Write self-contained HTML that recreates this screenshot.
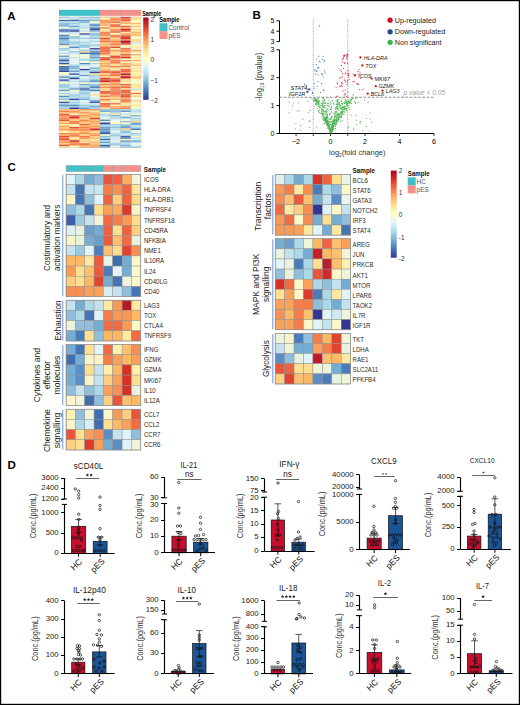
<!DOCTYPE html>
<html><head><meta charset="utf-8"><style>
html,body{margin:0;padding:0;background:#fff;}
body{width:520px;height:705px;overflow:hidden;}
svg{display:block;font-family:"Liberation Sans", sans-serif;}
</style></head><body>
<svg width="520" height="705" viewBox="0 0 520 705">
<rect x="0" y="0" width="520" height="705" fill="#fff"/>
<text x="7.2" y="19.8" font-size="11.5" text-anchor="start" font-weight="bold" fill="#000"  >A</text>
<rect x="59" y="9.8" width="41.0" height="6" fill="#3fc1c9"/>
<rect x="100.0" y="9.8" width="41.0" height="6" fill="#f4918a"/>
<line x1="69.25" y1="9.8" x2="69.25" y2="15.8" stroke="#9a9a9a" stroke-width="0.3"/>
<line x1="79.5" y1="9.8" x2="79.5" y2="15.8" stroke="#9a9a9a" stroke-width="0.3"/>
<line x1="89.75" y1="9.8" x2="89.75" y2="15.8" stroke="#9a9a9a" stroke-width="0.3"/>
<line x1="100.0" y1="9.8" x2="100.0" y2="15.8" stroke="#9a9a9a" stroke-width="0.3"/>
<line x1="110.25" y1="9.8" x2="110.25" y2="15.8" stroke="#9a9a9a" stroke-width="0.3"/>
<line x1="120.5" y1="9.8" x2="120.5" y2="15.8" stroke="#9a9a9a" stroke-width="0.3"/>
<line x1="130.75" y1="9.8" x2="130.75" y2="15.8" stroke="#9a9a9a" stroke-width="0.3"/>
<rect x="59.00" y="16.90" width="10.30" height="1.54" fill="#93c5de"/>
<rect x="69.25" y="16.90" width="10.30" height="1.54" fill="#c6e6f1"/>
<rect x="79.50" y="16.90" width="10.30" height="1.54" fill="#95c7df"/>
<rect x="89.75" y="16.90" width="10.30" height="1.54" fill="#8ec2dd"/>
<rect x="100.00" y="16.90" width="10.30" height="1.54" fill="#fed687"/>
<rect x="110.25" y="16.90" width="10.30" height="1.54" fill="#fdb96b"/>
<rect x="120.50" y="16.90" width="10.30" height="1.54" fill="#de3f2e"/>
<rect x="130.75" y="16.90" width="10.30" height="1.54" fill="#feda8a"/>
<rect x="59.00" y="18.39" width="10.30" height="1.54" fill="#e5f5ee"/>
<rect x="69.25" y="18.39" width="10.30" height="1.54" fill="#b5deec"/>
<rect x="79.50" y="18.39" width="10.30" height="1.54" fill="#bfe3ef"/>
<rect x="89.75" y="18.39" width="10.30" height="1.54" fill="#b1dceb"/>
<rect x="100.00" y="18.39" width="10.30" height="1.54" fill="#fff1a9"/>
<rect x="110.25" y="18.39" width="10.30" height="1.54" fill="#f57647"/>
<rect x="120.50" y="18.39" width="10.30" height="1.54" fill="#f26941"/>
<rect x="130.75" y="18.39" width="10.30" height="1.54" fill="#fed787"/>
<rect x="59.00" y="19.88" width="10.30" height="1.54" fill="#4066ad"/>
<rect x="69.25" y="19.88" width="10.30" height="1.54" fill="#3f62ab"/>
<rect x="79.50" y="19.88" width="10.30" height="1.54" fill="#69a0ca"/>
<rect x="89.75" y="19.88" width="10.30" height="1.54" fill="#84bad8"/>
<rect x="100.00" y="19.88" width="10.30" height="1.54" fill="#f99254"/>
<rect x="110.25" y="19.88" width="10.30" height="1.54" fill="#fdb063"/>
<rect x="120.50" y="19.88" width="10.30" height="1.54" fill="#f26841"/>
<rect x="130.75" y="19.88" width="10.30" height="1.54" fill="#fff9b6"/>
<rect x="59.00" y="21.36" width="10.30" height="1.54" fill="#b9e0ed"/>
<rect x="69.25" y="21.36" width="10.30" height="1.54" fill="#bee3ef"/>
<rect x="79.50" y="21.36" width="10.30" height="1.54" fill="#77afd2"/>
<rect x="89.75" y="21.36" width="10.30" height="1.54" fill="#fffebe"/>
<rect x="100.00" y="21.36" width="10.30" height="1.54" fill="#f7824d"/>
<rect x="110.25" y="21.36" width="10.30" height="1.54" fill="#ee613d"/>
<rect x="120.50" y="21.36" width="10.30" height="1.54" fill="#fdb86a"/>
<rect x="130.75" y="21.36" width="10.30" height="1.54" fill="#fffcba"/>
<rect x="59.00" y="22.85" width="10.30" height="1.54" fill="#8cc1dc"/>
<rect x="69.25" y="22.85" width="10.30" height="1.54" fill="#9dcee3"/>
<rect x="79.50" y="22.85" width="10.30" height="1.54" fill="#ceeaf3"/>
<rect x="89.75" y="22.85" width="10.30" height="1.54" fill="#b5deec"/>
<rect x="100.00" y="22.85" width="10.30" height="1.54" fill="#fdbe70"/>
<rect x="110.25" y="22.85" width="10.30" height="1.54" fill="#fede8e"/>
<rect x="120.50" y="22.85" width="10.30" height="1.54" fill="#fdb265"/>
<rect x="130.75" y="22.85" width="10.30" height="1.54" fill="#fdb76a"/>
<rect x="59.00" y="24.34" width="10.30" height="1.54" fill="#6ea5cd"/>
<rect x="69.25" y="24.34" width="10.30" height="1.54" fill="#b5deec"/>
<rect x="79.50" y="24.34" width="10.30" height="1.54" fill="#c1e4ef"/>
<rect x="89.75" y="24.34" width="10.30" height="1.54" fill="#4676b4"/>
<rect x="100.00" y="24.34" width="10.30" height="1.54" fill="#fba35c"/>
<rect x="110.25" y="24.34" width="10.30" height="1.54" fill="#eb5a3a"/>
<rect x="120.50" y="24.34" width="10.30" height="1.54" fill="#fff8b4"/>
<rect x="130.75" y="24.34" width="10.30" height="1.54" fill="#fff0a9"/>
<rect x="59.00" y="25.82" width="10.30" height="1.54" fill="#9dcee3"/>
<rect x="69.25" y="25.82" width="10.30" height="1.54" fill="#6da5cd"/>
<rect x="79.50" y="25.82" width="10.30" height="1.54" fill="#c5e6f0"/>
<rect x="89.75" y="25.82" width="10.30" height="1.54" fill="#a0d0e4"/>
<rect x="100.00" y="25.82" width="10.30" height="1.54" fill="#feeba0"/>
<rect x="110.25" y="25.82" width="10.30" height="1.54" fill="#f67848"/>
<rect x="120.50" y="25.82" width="10.30" height="1.54" fill="#ed5e3c"/>
<rect x="130.75" y="25.82" width="10.30" height="1.54" fill="#fdc375"/>
<rect x="59.00" y="27.31" width="10.30" height="1.54" fill="#f5fbd1"/>
<rect x="69.25" y="27.31" width="10.30" height="1.54" fill="#bce2ee"/>
<rect x="79.50" y="27.31" width="10.30" height="1.54" fill="#acdae9"/>
<rect x="89.75" y="27.31" width="10.30" height="1.54" fill="#5183bb"/>
<rect x="100.00" y="27.31" width="10.30" height="1.54" fill="#f67e4b"/>
<rect x="110.25" y="27.31" width="10.30" height="1.54" fill="#fecd7e"/>
<rect x="120.50" y="27.31" width="10.30" height="1.54" fill="#fdae61"/>
<rect x="130.75" y="27.31" width="10.30" height="1.54" fill="#f4fbd3"/>
<rect x="59.00" y="28.80" width="10.30" height="1.54" fill="#649ac7"/>
<rect x="69.25" y="28.80" width="10.30" height="1.54" fill="#80b6d6"/>
<rect x="79.50" y="28.80" width="10.30" height="1.54" fill="#eff9dc"/>
<rect x="89.75" y="28.80" width="10.30" height="1.54" fill="#384b9f"/>
<rect x="100.00" y="28.80" width="10.30" height="1.54" fill="#feeaa0"/>
<rect x="110.25" y="28.80" width="10.30" height="1.54" fill="#fb9e5a"/>
<rect x="120.50" y="28.80" width="10.30" height="1.54" fill="#d12a27"/>
<rect x="130.75" y="28.80" width="10.30" height="1.54" fill="#fed384"/>
<rect x="59.00" y="30.29" width="10.30" height="1.54" fill="#3b56a5"/>
<rect x="69.25" y="30.29" width="10.30" height="1.54" fill="#313695"/>
<rect x="79.50" y="30.29" width="10.30" height="1.54" fill="#bce1ee"/>
<rect x="89.75" y="30.29" width="10.30" height="1.54" fill="#72aad0"/>
<rect x="100.00" y="30.29" width="10.30" height="1.54" fill="#fee090"/>
<rect x="110.25" y="30.29" width="10.30" height="1.54" fill="#f46e44"/>
<rect x="120.50" y="30.29" width="10.30" height="1.54" fill="#df402e"/>
<rect x="130.75" y="30.29" width="10.30" height="1.54" fill="#fee395"/>
<rect x="59.00" y="31.77" width="10.30" height="1.54" fill="#b5deec"/>
<rect x="69.25" y="31.77" width="10.30" height="1.54" fill="#c1e4ef"/>
<rect x="79.50" y="31.77" width="10.30" height="1.54" fill="#fbfdc7"/>
<rect x="89.75" y="31.77" width="10.30" height="1.54" fill="#cdeaf3"/>
<rect x="100.00" y="31.77" width="10.30" height="1.54" fill="#f7844e"/>
<rect x="110.25" y="31.77" width="10.30" height="1.54" fill="#f88a51"/>
<rect x="120.50" y="31.77" width="10.30" height="1.54" fill="#fee89c"/>
<rect x="130.75" y="31.77" width="10.30" height="1.54" fill="#fdb467"/>
<rect x="59.00" y="33.26" width="10.30" height="1.54" fill="#e2f4f4"/>
<rect x="69.25" y="33.26" width="10.30" height="1.54" fill="#c7e7f1"/>
<rect x="79.50" y="33.26" width="10.30" height="1.54" fill="#3950a2"/>
<rect x="89.75" y="33.26" width="10.30" height="1.54" fill="#79b1d3"/>
<rect x="100.00" y="33.26" width="10.30" height="1.54" fill="#f46f44"/>
<rect x="110.25" y="33.26" width="10.30" height="1.54" fill="#fff9b6"/>
<rect x="120.50" y="33.26" width="10.30" height="1.54" fill="#fa9b58"/>
<rect x="130.75" y="33.26" width="10.30" height="1.54" fill="#fdc072"/>
<rect x="59.00" y="34.75" width="10.30" height="1.54" fill="#5082bb"/>
<rect x="69.25" y="34.75" width="10.30" height="1.54" fill="#fcfec5"/>
<rect x="79.50" y="34.75" width="10.30" height="1.54" fill="#c9e8f1"/>
<rect x="89.75" y="34.75" width="10.30" height="1.54" fill="#9acbe1"/>
<rect x="100.00" y="34.75" width="10.30" height="1.54" fill="#f99154"/>
<rect x="110.25" y="34.75" width="10.30" height="1.54" fill="#f7844e"/>
<rect x="120.50" y="34.75" width="10.30" height="1.54" fill="#f7854e"/>
<rect x="130.75" y="34.75" width="10.30" height="1.54" fill="#fdba6d"/>
<rect x="59.00" y="36.24" width="10.30" height="1.54" fill="#77afd2"/>
<rect x="69.25" y="36.24" width="10.30" height="1.54" fill="#88bdda"/>
<rect x="79.50" y="36.24" width="10.30" height="1.54" fill="#e5f5ee"/>
<rect x="89.75" y="36.24" width="10.30" height="1.54" fill="#a6d5e7"/>
<rect x="100.00" y="36.24" width="10.30" height="1.54" fill="#fed485"/>
<rect x="110.25" y="36.24" width="10.30" height="1.54" fill="#f47045"/>
<rect x="120.50" y="36.24" width="10.30" height="1.54" fill="#d02927"/>
<rect x="130.75" y="36.24" width="10.30" height="1.54" fill="#fff4ae"/>
<rect x="59.00" y="37.72" width="10.30" height="1.54" fill="#4c7db8"/>
<rect x="69.25" y="37.72" width="10.30" height="1.54" fill="#9bcce2"/>
<rect x="79.50" y="37.72" width="10.30" height="1.54" fill="#9acbe2"/>
<rect x="89.75" y="37.72" width="10.30" height="1.54" fill="#90c3dd"/>
<rect x="100.00" y="37.72" width="10.30" height="1.54" fill="#e54d34"/>
<rect x="110.25" y="37.72" width="10.30" height="1.54" fill="#fee191"/>
<rect x="120.50" y="37.72" width="10.30" height="1.54" fill="#d93529"/>
<rect x="130.75" y="37.72" width="10.30" height="1.54" fill="#f4fbd4"/>
<rect x="59.00" y="39.21" width="10.30" height="1.54" fill="#6fa7ce"/>
<rect x="69.25" y="39.21" width="10.30" height="1.54" fill="#ceeaf3"/>
<rect x="79.50" y="39.21" width="10.30" height="1.54" fill="#e9f6e8"/>
<rect x="89.75" y="39.21" width="10.30" height="1.54" fill="#ddf2f7"/>
<rect x="100.00" y="39.21" width="10.30" height="1.54" fill="#f98f53"/>
<rect x="110.25" y="39.21" width="10.30" height="1.54" fill="#fca55d"/>
<rect x="120.50" y="39.21" width="10.30" height="1.54" fill="#f7824d"/>
<rect x="130.75" y="39.21" width="10.30" height="1.54" fill="#fed384"/>
<rect x="59.00" y="40.70" width="10.30" height="1.54" fill="#98cae1"/>
<rect x="69.25" y="40.70" width="10.30" height="1.54" fill="#b7dfec"/>
<rect x="79.50" y="40.70" width="10.30" height="1.54" fill="#cae8f2"/>
<rect x="89.75" y="40.70" width="10.30" height="1.54" fill="#a4d4e6"/>
<rect x="100.00" y="40.70" width="10.30" height="1.54" fill="#f57446"/>
<rect x="110.25" y="40.70" width="10.30" height="1.54" fill="#f88950"/>
<rect x="120.50" y="40.70" width="10.30" height="1.54" fill="#b10b26"/>
<rect x="130.75" y="40.70" width="10.30" height="1.54" fill="#fede8e"/>
<rect x="59.00" y="42.19" width="10.30" height="1.54" fill="#87bcd9"/>
<rect x="69.25" y="42.19" width="10.30" height="1.54" fill="#8bbfdb"/>
<rect x="79.50" y="42.19" width="10.30" height="1.54" fill="#a3d3e6"/>
<rect x="89.75" y="42.19" width="10.30" height="1.54" fill="#e1f3f6"/>
<rect x="100.00" y="42.19" width="10.30" height="1.54" fill="#fdb96b"/>
<rect x="110.25" y="42.19" width="10.30" height="1.54" fill="#fa9555"/>
<rect x="120.50" y="42.19" width="10.30" height="1.54" fill="#bb1526"/>
<rect x="130.75" y="42.19" width="10.30" height="1.54" fill="#c6e6f1"/>
<rect x="59.00" y="43.67" width="10.30" height="1.54" fill="#5b8fc2"/>
<rect x="69.25" y="43.67" width="10.30" height="1.54" fill="#b5deec"/>
<rect x="79.50" y="43.67" width="10.30" height="1.54" fill="#bfe3ef"/>
<rect x="89.75" y="43.67" width="10.30" height="1.54" fill="#b4deec"/>
<rect x="100.00" y="43.67" width="10.30" height="1.54" fill="#fdbd6f"/>
<rect x="110.25" y="43.67" width="10.30" height="1.54" fill="#f7834d"/>
<rect x="120.50" y="43.67" width="10.30" height="1.54" fill="#f67948"/>
<rect x="130.75" y="43.67" width="10.30" height="1.54" fill="#fff6b1"/>
<rect x="59.00" y="45.16" width="10.30" height="1.54" fill="#fee394"/>
<rect x="69.25" y="45.16" width="10.30" height="1.54" fill="#bce1ee"/>
<rect x="79.50" y="45.16" width="10.30" height="1.54" fill="#7eb5d5"/>
<rect x="89.75" y="45.16" width="10.30" height="1.54" fill="#9dcee3"/>
<rect x="100.00" y="45.16" width="10.30" height="1.54" fill="#fdb366"/>
<rect x="110.25" y="45.16" width="10.30" height="1.54" fill="#fdb164"/>
<rect x="120.50" y="45.16" width="10.30" height="1.54" fill="#edf8df"/>
<rect x="130.75" y="45.16" width="10.30" height="1.54" fill="#fff5b0"/>
<rect x="59.00" y="46.65" width="10.30" height="1.54" fill="#e4f5f0"/>
<rect x="69.25" y="46.65" width="10.30" height="1.54" fill="#588cc0"/>
<rect x="79.50" y="46.65" width="10.30" height="1.54" fill="#a0d0e4"/>
<rect x="89.75" y="46.65" width="10.30" height="1.54" fill="#e2f4f4"/>
<rect x="100.00" y="46.65" width="10.30" height="1.54" fill="#f46e44"/>
<rect x="110.25" y="46.65" width="10.30" height="1.54" fill="#e64f35"/>
<rect x="120.50" y="46.65" width="10.30" height="1.54" fill="#feeda3"/>
<rect x="130.75" y="46.65" width="10.30" height="1.54" fill="#fff1aa"/>
<rect x="59.00" y="48.14" width="10.30" height="1.54" fill="#8dc1dc"/>
<rect x="69.25" y="48.14" width="10.30" height="1.54" fill="#ceeaf3"/>
<rect x="79.50" y="48.14" width="10.30" height="1.54" fill="#e7f6ea"/>
<rect x="89.75" y="48.14" width="10.30" height="1.54" fill="#313695"/>
<rect x="100.00" y="48.14" width="10.30" height="1.54" fill="#ee603d"/>
<rect x="110.25" y="48.14" width="10.30" height="1.54" fill="#feeea5"/>
<rect x="120.50" y="48.14" width="10.30" height="1.54" fill="#ec5d3b"/>
<rect x="130.75" y="48.14" width="10.30" height="1.54" fill="#eef8df"/>
<rect x="59.00" y="49.62" width="10.30" height="1.54" fill="#b0dbea"/>
<rect x="69.25" y="49.62" width="10.30" height="1.54" fill="#ebf7e3"/>
<rect x="79.50" y="49.62" width="10.30" height="1.54" fill="#9acbe2"/>
<rect x="89.75" y="49.62" width="10.30" height="1.54" fill="#b1dceb"/>
<rect x="100.00" y="49.62" width="10.30" height="1.54" fill="#f57245"/>
<rect x="110.25" y="49.62" width="10.30" height="1.54" fill="#fca55d"/>
<rect x="120.50" y="49.62" width="10.30" height="1.54" fill="#f99455"/>
<rect x="130.75" y="49.62" width="10.30" height="1.54" fill="#fca85e"/>
<rect x="59.00" y="51.11" width="10.30" height="1.54" fill="#e6f5ed"/>
<rect x="69.25" y="51.11" width="10.30" height="1.54" fill="#90c3dd"/>
<rect x="79.50" y="51.11" width="10.30" height="1.54" fill="#fed182"/>
<rect x="89.75" y="51.11" width="10.30" height="1.54" fill="#5a8ec1"/>
<rect x="100.00" y="51.11" width="10.30" height="1.54" fill="#f36b42"/>
<rect x="110.25" y="51.11" width="10.30" height="1.54" fill="#fdbb6d"/>
<rect x="120.50" y="51.11" width="10.30" height="1.54" fill="#f7844e"/>
<rect x="130.75" y="51.11" width="10.30" height="1.54" fill="#fece7f"/>
<rect x="59.00" y="52.60" width="10.30" height="1.54" fill="#b3ddeb"/>
<rect x="69.25" y="52.60" width="10.30" height="1.54" fill="#cfebf3"/>
<rect x="79.50" y="52.60" width="10.30" height="1.54" fill="#4473b3"/>
<rect x="89.75" y="52.60" width="10.30" height="1.54" fill="#4574b4"/>
<rect x="100.00" y="52.60" width="10.30" height="1.54" fill="#f67e4b"/>
<rect x="110.25" y="52.60" width="10.30" height="1.54" fill="#fede8e"/>
<rect x="120.50" y="52.60" width="10.30" height="1.54" fill="#fecf80"/>
<rect x="130.75" y="52.60" width="10.30" height="1.54" fill="#eef9de"/>
<rect x="59.00" y="54.09" width="10.30" height="1.54" fill="#eef8de"/>
<rect x="69.25" y="54.09" width="10.30" height="1.54" fill="#d6eef5"/>
<rect x="79.50" y="54.09" width="10.30" height="1.54" fill="#f6fccf"/>
<rect x="89.75" y="54.09" width="10.30" height="1.54" fill="#669cc8"/>
<rect x="100.00" y="54.09" width="10.30" height="1.54" fill="#fca65d"/>
<rect x="110.25" y="54.09" width="10.30" height="1.54" fill="#fee497"/>
<rect x="120.50" y="54.09" width="10.30" height="1.54" fill="#ea5739"/>
<rect x="130.75" y="54.09" width="10.30" height="1.54" fill="#fca55d"/>
<rect x="59.00" y="55.58" width="10.30" height="1.54" fill="#69a0ca"/>
<rect x="69.25" y="55.58" width="10.30" height="1.54" fill="#fafdc9"/>
<rect x="79.50" y="55.58" width="10.30" height="1.54" fill="#e3f4f2"/>
<rect x="89.75" y="55.58" width="10.30" height="1.54" fill="#98cae1"/>
<rect x="100.00" y="55.58" width="10.30" height="1.54" fill="#fffab8"/>
<rect x="110.25" y="55.58" width="10.30" height="1.54" fill="#e85438"/>
<rect x="120.50" y="55.58" width="10.30" height="1.54" fill="#f99555"/>
<rect x="130.75" y="55.58" width="10.30" height="1.54" fill="#fff8b5"/>
<rect x="59.00" y="57.06" width="10.30" height="1.54" fill="#bfe3ef"/>
<rect x="69.25" y="57.06" width="10.30" height="1.54" fill="#c0e3ef"/>
<rect x="79.50" y="57.06" width="10.30" height="1.54" fill="#f7fccd"/>
<rect x="89.75" y="57.06" width="10.30" height="1.54" fill="#6197c5"/>
<rect x="100.00" y="57.06" width="10.30" height="1.54" fill="#ec5d3c"/>
<rect x="110.25" y="57.06" width="10.30" height="1.54" fill="#e64f35"/>
<rect x="120.50" y="57.06" width="10.30" height="1.54" fill="#d02a27"/>
<rect x="130.75" y="57.06" width="10.30" height="1.54" fill="#feeda3"/>
<rect x="59.00" y="58.55" width="10.30" height="1.54" fill="#71aacf"/>
<rect x="69.25" y="58.55" width="10.30" height="1.54" fill="#e5f5f0"/>
<rect x="79.50" y="58.55" width="10.30" height="1.54" fill="#acd9e9"/>
<rect x="89.75" y="58.55" width="10.30" height="1.54" fill="#addae9"/>
<rect x="100.00" y="58.55" width="10.30" height="1.54" fill="#e44b34"/>
<rect x="110.25" y="58.55" width="10.30" height="1.54" fill="#fdbb6d"/>
<rect x="120.50" y="58.55" width="10.30" height="1.54" fill="#fcfec4"/>
<rect x="130.75" y="58.55" width="10.30" height="1.54" fill="#fff2ac"/>
<rect x="59.00" y="60.04" width="10.30" height="1.54" fill="#3c59a6"/>
<rect x="69.25" y="60.04" width="10.30" height="1.54" fill="#dbf0f6"/>
<rect x="79.50" y="60.04" width="10.30" height="1.54" fill="#b9e0ed"/>
<rect x="89.75" y="60.04" width="10.30" height="1.54" fill="#7ab2d4"/>
<rect x="100.00" y="60.04" width="10.30" height="1.54" fill="#fca65e"/>
<rect x="110.25" y="60.04" width="10.30" height="1.54" fill="#f67848"/>
<rect x="120.50" y="60.04" width="10.30" height="1.54" fill="#f8884f"/>
<rect x="130.75" y="60.04" width="10.30" height="1.54" fill="#fdb265"/>
<rect x="59.00" y="61.52" width="10.30" height="1.54" fill="#a0d0e4"/>
<rect x="69.25" y="61.52" width="10.30" height="1.54" fill="#e5f5ee"/>
<rect x="79.50" y="61.52" width="10.30" height="1.54" fill="#f7fcce"/>
<rect x="89.75" y="61.52" width="10.30" height="1.54" fill="#fcfec5"/>
<rect x="100.00" y="61.52" width="10.30" height="1.54" fill="#fec97b"/>
<rect x="110.25" y="61.52" width="10.30" height="1.54" fill="#f57547"/>
<rect x="120.50" y="61.52" width="10.30" height="1.54" fill="#fff3ad"/>
<rect x="130.75" y="61.52" width="10.30" height="1.54" fill="#f9fdca"/>
<rect x="59.00" y="63.01" width="10.30" height="1.54" fill="#3951a2"/>
<rect x="69.25" y="63.01" width="10.30" height="1.54" fill="#e7f6ec"/>
<rect x="79.50" y="63.01" width="10.30" height="1.54" fill="#5588be"/>
<rect x="89.75" y="63.01" width="10.30" height="1.54" fill="#a3d3e6"/>
<rect x="100.00" y="63.01" width="10.30" height="1.54" fill="#fdb164"/>
<rect x="110.25" y="63.01" width="10.30" height="1.54" fill="#fdaf62"/>
<rect x="120.50" y="63.01" width="10.30" height="1.54" fill="#fdb669"/>
<rect x="130.75" y="63.01" width="10.30" height="1.54" fill="#fee192"/>
<rect x="59.00" y="64.50" width="10.30" height="1.54" fill="#fffbba"/>
<rect x="69.25" y="64.50" width="10.30" height="1.54" fill="#a7d6e7"/>
<rect x="79.50" y="64.50" width="10.30" height="1.54" fill="#c8e7f1"/>
<rect x="89.75" y="64.50" width="10.30" height="1.54" fill="#e4f5f1"/>
<rect x="100.00" y="64.50" width="10.30" height="1.54" fill="#fdb264"/>
<rect x="110.25" y="64.50" width="10.30" height="1.54" fill="#fee89c"/>
<rect x="120.50" y="64.50" width="10.30" height="1.54" fill="#fdb467"/>
<rect x="130.75" y="64.50" width="10.30" height="1.54" fill="#fdbe70"/>
<rect x="59.00" y="65.99" width="10.30" height="1.54" fill="#4169ae"/>
<rect x="69.25" y="65.99" width="10.30" height="1.54" fill="#7bb3d4"/>
<rect x="79.50" y="65.99" width="10.30" height="1.54" fill="#e4f5f0"/>
<rect x="89.75" y="65.99" width="10.30" height="1.54" fill="#d9f0f6"/>
<rect x="100.00" y="65.99" width="10.30" height="1.54" fill="#fca55d"/>
<rect x="110.25" y="65.99" width="10.30" height="1.54" fill="#f67a49"/>
<rect x="120.50" y="65.99" width="10.30" height="1.54" fill="#f7814c"/>
<rect x="130.75" y="65.99" width="10.30" height="1.54" fill="#f6fccf"/>
<rect x="59.00" y="67.47" width="10.30" height="1.54" fill="#4370b2"/>
<rect x="69.25" y="67.47" width="10.30" height="1.54" fill="#78b0d3"/>
<rect x="79.50" y="67.47" width="10.30" height="1.54" fill="#e1f3f6"/>
<rect x="89.75" y="67.47" width="10.30" height="1.54" fill="#7db4d5"/>
<rect x="100.00" y="67.47" width="10.30" height="1.54" fill="#fed586"/>
<rect x="110.25" y="67.47" width="10.30" height="1.54" fill="#fed585"/>
<rect x="120.50" y="67.47" width="10.30" height="1.54" fill="#fee79a"/>
<rect x="130.75" y="67.47" width="10.30" height="1.54" fill="#feeba1"/>
<rect x="59.00" y="68.96" width="10.30" height="1.54" fill="#588bc0"/>
<rect x="69.25" y="68.96" width="10.30" height="1.54" fill="#bce2ee"/>
<rect x="79.50" y="68.96" width="10.30" height="1.54" fill="#313695"/>
<rect x="89.75" y="68.96" width="10.30" height="1.54" fill="#bae0ed"/>
<rect x="100.00" y="68.96" width="10.30" height="1.54" fill="#fec879"/>
<rect x="110.25" y="68.96" width="10.30" height="1.54" fill="#fffdbc"/>
<rect x="120.50" y="68.96" width="10.30" height="1.54" fill="#eb5a3a"/>
<rect x="130.75" y="68.96" width="10.30" height="1.54" fill="#feefa7"/>
<rect x="59.00" y="70.45" width="10.30" height="1.54" fill="#333c98"/>
<rect x="69.25" y="70.45" width="10.30" height="1.54" fill="#6aa1cb"/>
<rect x="79.50" y="70.45" width="10.30" height="1.54" fill="#b8dfed"/>
<rect x="89.75" y="70.45" width="10.30" height="1.54" fill="#85bad8"/>
<rect x="100.00" y="70.45" width="10.30" height="1.54" fill="#f57346"/>
<rect x="110.25" y="70.45" width="10.30" height="1.54" fill="#f67d4b"/>
<rect x="120.50" y="70.45" width="10.30" height="1.54" fill="#ed5e3c"/>
<rect x="130.75" y="70.45" width="10.30" height="1.54" fill="#fede8e"/>
<rect x="59.00" y="71.94" width="10.30" height="1.54" fill="#f1fad9"/>
<rect x="69.25" y="71.94" width="10.30" height="1.54" fill="#d0ebf3"/>
<rect x="79.50" y="71.94" width="10.30" height="1.54" fill="#c2e4f0"/>
<rect x="89.75" y="71.94" width="10.30" height="1.54" fill="#36479d"/>
<rect x="100.00" y="71.94" width="10.30" height="1.54" fill="#f36c42"/>
<rect x="110.25" y="71.94" width="10.30" height="1.54" fill="#eb5a3a"/>
<rect x="120.50" y="71.94" width="10.30" height="1.54" fill="#fca35c"/>
<rect x="130.75" y="71.94" width="10.30" height="1.54" fill="#fff4af"/>
<rect x="59.00" y="73.42" width="10.30" height="1.54" fill="#fff6b1"/>
<rect x="69.25" y="73.42" width="10.30" height="1.54" fill="#3f61aa"/>
<rect x="79.50" y="73.42" width="10.30" height="1.54" fill="#c3e5f0"/>
<rect x="89.75" y="73.42" width="10.30" height="1.54" fill="#fee394"/>
<rect x="100.00" y="73.42" width="10.30" height="1.54" fill="#fed687"/>
<rect x="110.25" y="73.42" width="10.30" height="1.54" fill="#f7814c"/>
<rect x="120.50" y="73.42" width="10.30" height="1.54" fill="#b81226"/>
<rect x="130.75" y="73.42" width="10.30" height="1.54" fill="#feeba1"/>
<rect x="59.00" y="74.91" width="10.30" height="1.54" fill="#cae8f2"/>
<rect x="69.25" y="74.91" width="10.30" height="1.54" fill="#e0f3f8"/>
<rect x="79.50" y="74.91" width="10.30" height="1.54" fill="#689fca"/>
<rect x="89.75" y="74.91" width="10.30" height="1.54" fill="#9ecfe3"/>
<rect x="100.00" y="74.91" width="10.30" height="1.54" fill="#f99354"/>
<rect x="110.25" y="74.91" width="10.30" height="1.54" fill="#f67848"/>
<rect x="120.50" y="74.91" width="10.30" height="1.54" fill="#f99053"/>
<rect x="130.75" y="74.91" width="10.30" height="1.54" fill="#feeda4"/>
<rect x="59.00" y="76.40" width="10.30" height="1.54" fill="#6197c6"/>
<rect x="69.25" y="76.40" width="10.30" height="1.54" fill="#8bc0db"/>
<rect x="79.50" y="76.40" width="10.30" height="1.54" fill="#dff3f8"/>
<rect x="89.75" y="76.40" width="10.30" height="1.54" fill="#abd9e9"/>
<rect x="100.00" y="76.40" width="10.30" height="1.54" fill="#fed283"/>
<rect x="110.25" y="76.40" width="10.30" height="1.54" fill="#fed889"/>
<rect x="120.50" y="76.40" width="10.30" height="1.54" fill="#a50026"/>
<rect x="130.75" y="76.40" width="10.30" height="1.54" fill="#fdbb6d"/>
<rect x="59.00" y="77.89" width="10.30" height="1.54" fill="#cfeaf3"/>
<rect x="69.25" y="77.89" width="10.30" height="1.54" fill="#313695"/>
<rect x="79.50" y="77.89" width="10.30" height="1.54" fill="#ceeaf3"/>
<rect x="89.75" y="77.89" width="10.30" height="1.54" fill="#c4e5f0"/>
<rect x="100.00" y="77.89" width="10.30" height="1.54" fill="#dd3c2c"/>
<rect x="110.25" y="77.89" width="10.30" height="1.54" fill="#f99254"/>
<rect x="120.50" y="77.89" width="10.30" height="1.54" fill="#f99254"/>
<rect x="130.75" y="77.89" width="10.30" height="1.54" fill="#fed686"/>
<rect x="59.00" y="79.38" width="10.30" height="1.54" fill="#3a52a3"/>
<rect x="69.25" y="79.38" width="10.30" height="1.54" fill="#e5f5ef"/>
<rect x="79.50" y="79.38" width="10.30" height="1.54" fill="#bae0ed"/>
<rect x="89.75" y="79.38" width="10.30" height="1.54" fill="#74add1"/>
<rect x="100.00" y="79.38" width="10.30" height="1.54" fill="#e75236"/>
<rect x="110.25" y="79.38" width="10.30" height="1.54" fill="#dd3c2c"/>
<rect x="120.50" y="79.38" width="10.30" height="1.54" fill="#fee294"/>
<rect x="130.75" y="79.38" width="10.30" height="1.54" fill="#fffab7"/>
<rect x="59.00" y="80.86" width="10.30" height="1.54" fill="#b8dfed"/>
<rect x="69.25" y="80.86" width="10.30" height="1.54" fill="#b1dceb"/>
<rect x="79.50" y="80.86" width="10.30" height="1.54" fill="#89beda"/>
<rect x="89.75" y="80.86" width="10.30" height="1.54" fill="#649ac7"/>
<rect x="100.00" y="80.86" width="10.30" height="1.54" fill="#cb2427"/>
<rect x="110.25" y="80.86" width="10.30" height="1.54" fill="#f36b42"/>
<rect x="120.50" y="80.86" width="10.30" height="1.54" fill="#fed889"/>
<rect x="130.75" y="80.86" width="10.30" height="1.54" fill="#f2fad7"/>
<rect x="59.00" y="82.35" width="10.30" height="1.54" fill="#ffffbf"/>
<rect x="69.25" y="82.35" width="10.30" height="1.54" fill="#e3f4f2"/>
<rect x="79.50" y="82.35" width="10.30" height="1.54" fill="#fffab8"/>
<rect x="89.75" y="82.35" width="10.30" height="1.54" fill="#daf0f6"/>
<rect x="100.00" y="82.35" width="10.30" height="1.54" fill="#fed384"/>
<rect x="110.25" y="82.35" width="10.30" height="1.54" fill="#fb9d59"/>
<rect x="120.50" y="82.35" width="10.30" height="1.54" fill="#fffdbc"/>
<rect x="130.75" y="82.35" width="10.30" height="1.54" fill="#fffcbb"/>
<rect x="59.00" y="83.84" width="10.30" height="1.54" fill="#a0d0e4"/>
<rect x="69.25" y="83.84" width="10.30" height="1.54" fill="#c7e7f1"/>
<rect x="79.50" y="83.84" width="10.30" height="1.54" fill="#72abd0"/>
<rect x="89.75" y="83.84" width="10.30" height="1.54" fill="#9ccde2"/>
<rect x="100.00" y="83.84" width="10.30" height="1.54" fill="#f8884f"/>
<rect x="110.25" y="83.84" width="10.30" height="1.54" fill="#fa9656"/>
<rect x="120.50" y="83.84" width="10.30" height="1.54" fill="#ee603d"/>
<rect x="130.75" y="83.84" width="10.30" height="1.54" fill="#fee293"/>
<rect x="59.00" y="85.32" width="10.30" height="1.54" fill="#8ec2dc"/>
<rect x="69.25" y="85.32" width="10.30" height="1.54" fill="#d9eff6"/>
<rect x="79.50" y="85.32" width="10.30" height="1.54" fill="#a8d6e7"/>
<rect x="89.75" y="85.32" width="10.30" height="1.54" fill="#6da4cc"/>
<rect x="100.00" y="85.32" width="10.30" height="1.54" fill="#fec779"/>
<rect x="110.25" y="85.32" width="10.30" height="1.54" fill="#fdae61"/>
<rect x="120.50" y="85.32" width="10.30" height="1.54" fill="#fa9656"/>
<rect x="130.75" y="85.32" width="10.30" height="1.54" fill="#fee395"/>
<rect x="59.00" y="86.81" width="10.30" height="1.54" fill="#a4d3e6"/>
<rect x="69.25" y="86.81" width="10.30" height="1.54" fill="#b0dbea"/>
<rect x="79.50" y="86.81" width="10.30" height="1.54" fill="#9bcce2"/>
<rect x="89.75" y="86.81" width="10.30" height="1.54" fill="#5386bd"/>
<rect x="100.00" y="86.81" width="10.30" height="1.54" fill="#f88a51"/>
<rect x="110.25" y="86.81" width="10.30" height="1.54" fill="#f26a41"/>
<rect x="120.50" y="86.81" width="10.30" height="1.54" fill="#f46e43"/>
<rect x="130.75" y="86.81" width="10.30" height="1.54" fill="#feeda4"/>
<rect x="59.00" y="88.30" width="10.30" height="1.54" fill="#c2e4ef"/>
<rect x="69.25" y="88.30" width="10.30" height="1.54" fill="#649ac7"/>
<rect x="79.50" y="88.30" width="10.30" height="1.54" fill="#3b56a5"/>
<rect x="89.75" y="88.30" width="10.30" height="1.54" fill="#a8d7e8"/>
<rect x="100.00" y="88.30" width="10.30" height="1.54" fill="#fed687"/>
<rect x="110.25" y="88.30" width="10.30" height="1.54" fill="#f67e4b"/>
<rect x="120.50" y="88.30" width="10.30" height="1.54" fill="#fed283"/>
<rect x="130.75" y="88.30" width="10.30" height="1.54" fill="#c3e5f0"/>
<rect x="59.00" y="89.79" width="10.30" height="1.54" fill="#6095c5"/>
<rect x="69.25" y="89.79" width="10.30" height="1.54" fill="#fafdc8"/>
<rect x="79.50" y="89.79" width="10.30" height="1.54" fill="#8abfdb"/>
<rect x="89.75" y="89.79" width="10.30" height="1.54" fill="#4d7eb9"/>
<rect x="100.00" y="89.79" width="10.30" height="1.54" fill="#fece7f"/>
<rect x="110.25" y="89.79" width="10.30" height="1.54" fill="#f88c51"/>
<rect x="120.50" y="89.79" width="10.30" height="1.54" fill="#f26941"/>
<rect x="130.75" y="89.79" width="10.30" height="1.54" fill="#fee394"/>
<rect x="59.00" y="91.28" width="10.30" height="1.54" fill="#f7fcce"/>
<rect x="69.25" y="91.28" width="10.30" height="1.54" fill="#d3edf4"/>
<rect x="79.50" y="91.28" width="10.30" height="1.54" fill="#a3d2e5"/>
<rect x="89.75" y="91.28" width="10.30" height="1.54" fill="#cce9f2"/>
<rect x="100.00" y="91.28" width="10.30" height="1.54" fill="#dd3d2d"/>
<rect x="110.25" y="91.28" width="10.30" height="1.54" fill="#f46f44"/>
<rect x="120.50" y="91.28" width="10.30" height="1.54" fill="#e14531"/>
<rect x="130.75" y="91.28" width="10.30" height="1.54" fill="#f9fdca"/>
<rect x="59.00" y="92.76" width="10.30" height="1.54" fill="#9acbe2"/>
<rect x="69.25" y="92.76" width="10.30" height="1.54" fill="#d5edf5"/>
<rect x="79.50" y="92.76" width="10.30" height="1.54" fill="#90c3dd"/>
<rect x="89.75" y="92.76" width="10.30" height="1.54" fill="#e7f6ec"/>
<rect x="100.00" y="92.76" width="10.30" height="1.54" fill="#f77f4b"/>
<rect x="110.25" y="92.76" width="10.30" height="1.54" fill="#f57346"/>
<rect x="120.50" y="92.76" width="10.30" height="1.54" fill="#fb9d59"/>
<rect x="130.75" y="92.76" width="10.30" height="1.54" fill="#f46e44"/>
<rect x="59.00" y="94.25" width="10.30" height="1.54" fill="#edf8e0"/>
<rect x="69.25" y="94.25" width="10.30" height="1.54" fill="#95c8e0"/>
<rect x="79.50" y="94.25" width="10.30" height="1.54" fill="#aad8e9"/>
<rect x="89.75" y="94.25" width="10.30" height="1.54" fill="#feda8a"/>
<rect x="100.00" y="94.25" width="10.30" height="1.54" fill="#fdb96b"/>
<rect x="110.25" y="94.25" width="10.30" height="1.54" fill="#f57547"/>
<rect x="120.50" y="94.25" width="10.30" height="1.54" fill="#e34832"/>
<rect x="130.75" y="94.25" width="10.30" height="1.54" fill="#fee89b"/>
<rect x="59.00" y="95.74" width="10.30" height="1.54" fill="#598cc0"/>
<rect x="69.25" y="95.74" width="10.30" height="1.54" fill="#b1dceb"/>
<rect x="79.50" y="95.74" width="10.30" height="1.54" fill="#bce1ee"/>
<rect x="89.75" y="95.74" width="10.30" height="1.54" fill="#e9f6e8"/>
<rect x="100.00" y="95.74" width="10.30" height="1.54" fill="#f57346"/>
<rect x="110.25" y="95.74" width="10.30" height="1.54" fill="#fdac60"/>
<rect x="120.50" y="95.74" width="10.30" height="1.54" fill="#e75136"/>
<rect x="130.75" y="95.74" width="10.30" height="1.54" fill="#fed586"/>
<rect x="59.00" y="97.22" width="10.30" height="1.54" fill="#b2dceb"/>
<rect x="69.25" y="97.22" width="10.30" height="1.54" fill="#a8d7e8"/>
<rect x="79.50" y="97.22" width="10.30" height="1.54" fill="#93c6df"/>
<rect x="89.75" y="97.22" width="10.30" height="1.54" fill="#d2ecf4"/>
<rect x="100.00" y="97.22" width="10.30" height="1.54" fill="#fedc8d"/>
<rect x="110.25" y="97.22" width="10.30" height="1.54" fill="#fecd7f"/>
<rect x="120.50" y="97.22" width="10.30" height="1.54" fill="#f88d52"/>
<rect x="130.75" y="97.22" width="10.30" height="1.54" fill="#eff9dd"/>
<rect x="59.00" y="98.71" width="10.30" height="1.54" fill="#86bcd9"/>
<rect x="69.25" y="98.71" width="10.30" height="1.54" fill="#384da0"/>
<rect x="79.50" y="98.71" width="10.30" height="1.54" fill="#75aed2"/>
<rect x="89.75" y="98.71" width="10.30" height="1.54" fill="#cae8f2"/>
<rect x="100.00" y="98.71" width="10.30" height="1.54" fill="#f7814c"/>
<rect x="110.25" y="98.71" width="10.30" height="1.54" fill="#fdb164"/>
<rect x="120.50" y="98.71" width="10.30" height="1.54" fill="#fb9e5a"/>
<rect x="130.75" y="98.71" width="10.30" height="1.54" fill="#f0f9db"/>
<rect x="59.00" y="100.20" width="10.30" height="1.54" fill="#fffab7"/>
<rect x="69.25" y="100.20" width="10.30" height="1.54" fill="#c7e7f1"/>
<rect x="79.50" y="100.20" width="10.30" height="1.54" fill="#e7f6ea"/>
<rect x="89.75" y="100.20" width="10.30" height="1.54" fill="#69a0ca"/>
<rect x="100.00" y="100.20" width="10.30" height="1.54" fill="#fdb164"/>
<rect x="110.25" y="100.20" width="10.30" height="1.54" fill="#fff9b7"/>
<rect x="120.50" y="100.20" width="10.30" height="1.54" fill="#e95638"/>
<rect x="130.75" y="100.20" width="10.30" height="1.54" fill="#fdc475"/>
<rect x="59.00" y="101.69" width="10.30" height="1.54" fill="#3b56a5"/>
<rect x="69.25" y="101.69" width="10.30" height="1.54" fill="#a1d1e4"/>
<rect x="79.50" y="101.69" width="10.30" height="1.54" fill="#ceeaf3"/>
<rect x="89.75" y="101.69" width="10.30" height="1.54" fill="#3e60aa"/>
<rect x="100.00" y="101.69" width="10.30" height="1.54" fill="#fff6b1"/>
<rect x="110.25" y="101.69" width="10.30" height="1.54" fill="#fee293"/>
<rect x="120.50" y="101.69" width="10.30" height="1.54" fill="#fdb86b"/>
<rect x="130.75" y="101.69" width="10.30" height="1.54" fill="#f0f9da"/>
<rect x="59.00" y="103.18" width="10.30" height="1.54" fill="#a6d5e7"/>
<rect x="69.25" y="103.18" width="10.30" height="1.54" fill="#b5deec"/>
<rect x="79.50" y="103.18" width="10.30" height="1.54" fill="#ceeaf3"/>
<rect x="89.75" y="103.18" width="10.30" height="1.54" fill="#d3edf4"/>
<rect x="100.00" y="103.18" width="10.30" height="1.54" fill="#e24731"/>
<rect x="110.25" y="103.18" width="10.30" height="1.54" fill="#ef633e"/>
<rect x="120.50" y="103.18" width="10.30" height="1.54" fill="#fedf8f"/>
<rect x="130.75" y="103.18" width="10.30" height="1.54" fill="#fff5b1"/>
<rect x="59.00" y="104.66" width="10.30" height="1.54" fill="#5f94c4"/>
<rect x="69.25" y="104.66" width="10.30" height="1.54" fill="#5e93c3"/>
<rect x="79.50" y="104.66" width="10.30" height="1.54" fill="#9fcfe4"/>
<rect x="89.75" y="104.66" width="10.30" height="1.54" fill="#a5d4e6"/>
<rect x="100.00" y="104.66" width="10.30" height="1.54" fill="#f7864f"/>
<rect x="110.25" y="104.66" width="10.30" height="1.54" fill="#fff2ac"/>
<rect x="120.50" y="104.66" width="10.30" height="1.54" fill="#fedb8b"/>
<rect x="130.75" y="104.66" width="10.30" height="1.54" fill="#fee89d"/>
<rect x="59.00" y="106.15" width="10.30" height="1.54" fill="#96c9e0"/>
<rect x="69.25" y="106.15" width="10.30" height="1.54" fill="#8fc2dd"/>
<rect x="79.50" y="106.15" width="10.30" height="1.54" fill="#a0d0e4"/>
<rect x="89.75" y="106.15" width="10.30" height="1.54" fill="#70a9cf"/>
<rect x="100.00" y="106.15" width="10.30" height="1.54" fill="#f67848"/>
<rect x="110.25" y="106.15" width="10.30" height="1.54" fill="#fa9756"/>
<rect x="120.50" y="106.15" width="10.30" height="1.54" fill="#f99455"/>
<rect x="130.75" y="106.15" width="10.30" height="1.54" fill="#fffab7"/>
<rect x="59.00" y="107.64" width="10.30" height="1.54" fill="#98cae1"/>
<rect x="69.25" y="107.64" width="10.30" height="1.54" fill="#313695"/>
<rect x="79.50" y="107.64" width="10.30" height="1.54" fill="#6399c7"/>
<rect x="89.75" y="107.64" width="10.30" height="1.54" fill="#a7d6e7"/>
<rect x="100.00" y="107.64" width="10.30" height="1.54" fill="#feeca2"/>
<rect x="110.25" y="107.64" width="10.30" height="1.54" fill="#fba15b"/>
<rect x="120.50" y="107.64" width="10.30" height="1.54" fill="#f7834d"/>
<rect x="130.75" y="107.64" width="10.30" height="1.54" fill="#f1fad9"/>
<rect x="59.00" y="109.12" width="10.30" height="1.54" fill="#fdbb6d"/>
<rect x="69.25" y="109.12" width="10.30" height="1.54" fill="#fdbe70"/>
<rect x="79.50" y="109.12" width="10.30" height="1.54" fill="#f99053"/>
<rect x="89.75" y="109.12" width="10.30" height="1.54" fill="#f7864f"/>
<rect x="100.00" y="109.12" width="10.30" height="1.54" fill="#86bcd9"/>
<rect x="110.25" y="109.12" width="10.30" height="1.54" fill="#84bad8"/>
<rect x="120.50" y="109.12" width="10.30" height="1.54" fill="#a1d1e5"/>
<rect x="130.75" y="109.12" width="10.30" height="1.54" fill="#bbe1ed"/>
<rect x="59.00" y="110.61" width="10.30" height="1.54" fill="#f67e4b"/>
<rect x="69.25" y="110.61" width="10.30" height="1.54" fill="#fa9b58"/>
<rect x="79.50" y="110.61" width="10.30" height="1.54" fill="#fed283"/>
<rect x="89.75" y="110.61" width="10.30" height="1.54" fill="#feeba1"/>
<rect x="100.00" y="110.61" width="10.30" height="1.54" fill="#70a8ce"/>
<rect x="110.25" y="110.61" width="10.30" height="1.54" fill="#8bbfdb"/>
<rect x="120.50" y="110.61" width="10.30" height="1.54" fill="#6297c6"/>
<rect x="130.75" y="110.61" width="10.30" height="1.54" fill="#b7dfec"/>
<rect x="59.00" y="112.10" width="10.30" height="1.54" fill="#fdc778"/>
<rect x="69.25" y="112.10" width="10.30" height="1.54" fill="#fca75e"/>
<rect x="79.50" y="112.10" width="10.30" height="1.54" fill="#f88c51"/>
<rect x="89.75" y="112.10" width="10.30" height="1.54" fill="#fdc374"/>
<rect x="100.00" y="112.10" width="10.30" height="1.54" fill="#fff6b2"/>
<rect x="110.25" y="112.10" width="10.30" height="1.54" fill="#a5d4e6"/>
<rect x="120.50" y="112.10" width="10.30" height="1.54" fill="#ecf8e3"/>
<rect x="130.75" y="112.10" width="10.30" height="1.54" fill="#c7e7f1"/>
<rect x="59.00" y="113.59" width="10.30" height="1.54" fill="#f16640"/>
<rect x="69.25" y="113.59" width="10.30" height="1.54" fill="#f3fad4"/>
<rect x="79.50" y="113.59" width="10.30" height="1.54" fill="#fed484"/>
<rect x="89.75" y="113.59" width="10.30" height="1.54" fill="#fb9e5a"/>
<rect x="100.00" y="113.59" width="10.30" height="1.54" fill="#b2dceb"/>
<rect x="110.25" y="113.59" width="10.30" height="1.54" fill="#fee496"/>
<rect x="120.50" y="113.59" width="10.30" height="1.54" fill="#c0e3ef"/>
<rect x="130.75" y="113.59" width="10.30" height="1.54" fill="#feffc0"/>
<rect x="59.00" y="115.07" width="10.30" height="1.54" fill="#f67c4a"/>
<rect x="69.25" y="115.07" width="10.30" height="1.54" fill="#f47045"/>
<rect x="79.50" y="115.07" width="10.30" height="1.54" fill="#f88d52"/>
<rect x="89.75" y="115.07" width="10.30" height="1.54" fill="#fdb668"/>
<rect x="100.00" y="115.07" width="10.30" height="1.54" fill="#acd9e9"/>
<rect x="110.25" y="115.07" width="10.30" height="1.54" fill="#76afd2"/>
<rect x="120.50" y="115.07" width="10.30" height="1.54" fill="#eff9dd"/>
<rect x="130.75" y="115.07" width="10.30" height="1.54" fill="#7ab2d3"/>
<rect x="59.00" y="116.56" width="10.30" height="1.54" fill="#fb9e5a"/>
<rect x="69.25" y="116.56" width="10.30" height="1.54" fill="#d12a27"/>
<rect x="79.50" y="116.56" width="10.30" height="1.54" fill="#fdb96c"/>
<rect x="89.75" y="116.56" width="10.30" height="1.54" fill="#fdad60"/>
<rect x="100.00" y="116.56" width="10.30" height="1.54" fill="#d7eff5"/>
<rect x="110.25" y="116.56" width="10.30" height="1.54" fill="#bae0ed"/>
<rect x="120.50" y="116.56" width="10.30" height="1.54" fill="#74acd1"/>
<rect x="130.75" y="116.56" width="10.30" height="1.54" fill="#d0ebf3"/>
<rect x="59.00" y="118.05" width="10.30" height="1.54" fill="#f88850"/>
<rect x="69.25" y="118.05" width="10.30" height="1.54" fill="#f7804c"/>
<rect x="79.50" y="118.05" width="10.30" height="1.54" fill="#fed585"/>
<rect x="89.75" y="118.05" width="10.30" height="1.54" fill="#de3f2e"/>
<rect x="100.00" y="118.05" width="10.30" height="1.54" fill="#eef9de"/>
<rect x="110.25" y="118.05" width="10.30" height="1.54" fill="#b9e0ed"/>
<rect x="120.50" y="118.05" width="10.30" height="1.54" fill="#bde2ee"/>
<rect x="130.75" y="118.05" width="10.30" height="1.54" fill="#a2d2e5"/>
<rect x="59.00" y="119.54" width="10.30" height="1.54" fill="#e85437"/>
<rect x="69.25" y="119.54" width="10.30" height="1.54" fill="#fed182"/>
<rect x="79.50" y="119.54" width="10.30" height="1.54" fill="#f7824d"/>
<rect x="89.75" y="119.54" width="10.30" height="1.54" fill="#fdc678"/>
<rect x="100.00" y="119.54" width="10.30" height="1.54" fill="#5d91c3"/>
<rect x="110.25" y="119.54" width="10.30" height="1.54" fill="#e2f4f5"/>
<rect x="120.50" y="119.54" width="10.30" height="1.54" fill="#f5fbd2"/>
<rect x="130.75" y="119.54" width="10.30" height="1.54" fill="#bee2ee"/>
<rect x="59.00" y="121.03" width="10.30" height="1.54" fill="#fed081"/>
<rect x="69.25" y="121.03" width="10.30" height="1.54" fill="#f67949"/>
<rect x="79.50" y="121.03" width="10.30" height="1.54" fill="#fdb063"/>
<rect x="89.75" y="121.03" width="10.30" height="1.54" fill="#fa9a58"/>
<rect x="100.00" y="121.03" width="10.30" height="1.54" fill="#e9f6e8"/>
<rect x="110.25" y="121.03" width="10.30" height="1.54" fill="#f0f9da"/>
<rect x="120.50" y="121.03" width="10.30" height="1.54" fill="#87bcd9"/>
<rect x="130.75" y="121.03" width="10.30" height="1.54" fill="#fed585"/>
<rect x="59.00" y="122.51" width="10.30" height="1.54" fill="#fdae61"/>
<rect x="69.25" y="122.51" width="10.30" height="1.54" fill="#f67b49"/>
<rect x="79.50" y="122.51" width="10.30" height="1.54" fill="#fece7f"/>
<rect x="89.75" y="122.51" width="10.30" height="1.54" fill="#fdb063"/>
<rect x="100.00" y="122.51" width="10.30" height="1.54" fill="#35429b"/>
<rect x="110.25" y="122.51" width="10.30" height="1.54" fill="#fff7b3"/>
<rect x="120.50" y="122.51" width="10.30" height="1.54" fill="#f6fbd0"/>
<rect x="130.75" y="122.51" width="10.30" height="1.54" fill="#6da5cd"/>
<rect x="59.00" y="124.00" width="10.30" height="1.54" fill="#fff0a8"/>
<rect x="69.25" y="124.00" width="10.30" height="1.54" fill="#fff3ad"/>
<rect x="79.50" y="124.00" width="10.30" height="1.54" fill="#ef623e"/>
<rect x="89.75" y="124.00" width="10.30" height="1.54" fill="#fdc577"/>
<rect x="100.00" y="124.00" width="10.30" height="1.54" fill="#84bad8"/>
<rect x="110.25" y="124.00" width="10.30" height="1.54" fill="#a5d5e7"/>
<rect x="120.50" y="124.00" width="10.30" height="1.54" fill="#a3d2e5"/>
<rect x="130.75" y="124.00" width="10.30" height="1.54" fill="#75aed1"/>
<rect x="59.00" y="125.49" width="10.30" height="1.54" fill="#fdac60"/>
<rect x="69.25" y="125.49" width="10.30" height="1.54" fill="#feeea5"/>
<rect x="79.50" y="125.49" width="10.30" height="1.54" fill="#fdb264"/>
<rect x="89.75" y="125.49" width="10.30" height="1.54" fill="#fa9a58"/>
<rect x="100.00" y="125.49" width="10.30" height="1.54" fill="#a9d7e8"/>
<rect x="110.25" y="125.49" width="10.30" height="1.54" fill="#aad9e9"/>
<rect x="120.50" y="125.49" width="10.30" height="1.54" fill="#6ea6cd"/>
<rect x="130.75" y="125.49" width="10.30" height="1.54" fill="#c9e8f2"/>
<rect x="59.00" y="126.97" width="10.30" height="1.54" fill="#fdc678"/>
<rect x="69.25" y="126.97" width="10.30" height="1.54" fill="#e44a33"/>
<rect x="79.50" y="126.97" width="10.30" height="1.54" fill="#f67c4a"/>
<rect x="89.75" y="126.97" width="10.30" height="1.54" fill="#fdb466"/>
<rect x="100.00" y="126.97" width="10.30" height="1.54" fill="#6aa1cb"/>
<rect x="110.25" y="126.97" width="10.30" height="1.54" fill="#8dc1dc"/>
<rect x="120.50" y="126.97" width="10.30" height="1.54" fill="#6ca3cc"/>
<rect x="130.75" y="126.97" width="10.30" height="1.54" fill="#a7d6e7"/>
<rect x="59.00" y="128.46" width="10.30" height="1.54" fill="#fa9b58"/>
<rect x="69.25" y="128.46" width="10.30" height="1.54" fill="#f88c52"/>
<rect x="79.50" y="128.46" width="10.30" height="1.54" fill="#f88950"/>
<rect x="89.75" y="128.46" width="10.30" height="1.54" fill="#d22b27"/>
<rect x="100.00" y="128.46" width="10.30" height="1.54" fill="#5c91c2"/>
<rect x="110.25" y="128.46" width="10.30" height="1.54" fill="#b9e0ed"/>
<rect x="120.50" y="128.46" width="10.30" height="1.54" fill="#fec779"/>
<rect x="130.75" y="128.46" width="10.30" height="1.54" fill="#4777b5"/>
<rect x="59.00" y="129.95" width="10.30" height="1.54" fill="#fec87a"/>
<rect x="69.25" y="129.95" width="10.30" height="1.54" fill="#fba35c"/>
<rect x="79.50" y="129.95" width="10.30" height="1.54" fill="#fca45c"/>
<rect x="89.75" y="129.95" width="10.30" height="1.54" fill="#f99355"/>
<rect x="100.00" y="129.95" width="10.30" height="1.54" fill="#78b0d3"/>
<rect x="110.25" y="129.95" width="10.30" height="1.54" fill="#ceeaf3"/>
<rect x="120.50" y="129.95" width="10.30" height="1.54" fill="#aedbea"/>
<rect x="130.75" y="129.95" width="10.30" height="1.54" fill="#ebf7e5"/>
<rect x="59.00" y="131.44" width="10.30" height="1.54" fill="#fffcba"/>
<rect x="69.25" y="131.44" width="10.30" height="1.54" fill="#feda8b"/>
<rect x="79.50" y="131.44" width="10.30" height="1.54" fill="#fdae61"/>
<rect x="89.75" y="131.44" width="10.30" height="1.54" fill="#fee191"/>
<rect x="100.00" y="131.44" width="10.30" height="1.54" fill="#4879b6"/>
<rect x="110.25" y="131.44" width="10.30" height="1.54" fill="#def2f7"/>
<rect x="120.50" y="131.44" width="10.30" height="1.54" fill="#7eb5d6"/>
<rect x="130.75" y="131.44" width="10.30" height="1.54" fill="#e5f5ee"/>
<rect x="59.00" y="132.93" width="10.30" height="1.54" fill="#f67e4b"/>
<rect x="69.25" y="132.93" width="10.30" height="1.54" fill="#fa9a58"/>
<rect x="79.50" y="132.93" width="10.30" height="1.54" fill="#f88d52"/>
<rect x="89.75" y="132.93" width="10.30" height="1.54" fill="#fdb366"/>
<rect x="100.00" y="132.93" width="10.30" height="1.54" fill="#3d5da8"/>
<rect x="110.25" y="132.93" width="10.30" height="1.54" fill="#b6dfec"/>
<rect x="120.50" y="132.93" width="10.30" height="1.54" fill="#c9e8f2"/>
<rect x="130.75" y="132.93" width="10.30" height="1.54" fill="#9bcce2"/>
<rect x="59.00" y="134.41" width="10.30" height="1.54" fill="#fdb366"/>
<rect x="69.25" y="134.41" width="10.30" height="1.54" fill="#f67d4b"/>
<rect x="79.50" y="134.41" width="10.30" height="1.54" fill="#feda8a"/>
<rect x="89.75" y="134.41" width="10.30" height="1.54" fill="#f7844e"/>
<rect x="100.00" y="134.41" width="10.30" height="1.54" fill="#f6fbd0"/>
<rect x="110.25" y="134.41" width="10.30" height="1.54" fill="#96c9e0"/>
<rect x="120.50" y="134.41" width="10.30" height="1.54" fill="#b5deec"/>
<rect x="130.75" y="134.41" width="10.30" height="1.54" fill="#b5deec"/>
<rect x="59.00" y="135.90" width="10.30" height="1.54" fill="#e44c34"/>
<rect x="69.25" y="135.90" width="10.30" height="1.54" fill="#fa9958"/>
<rect x="79.50" y="135.90" width="10.30" height="1.54" fill="#f57446"/>
<rect x="89.75" y="135.90" width="10.30" height="1.54" fill="#fed181"/>
<rect x="100.00" y="135.90" width="10.30" height="1.54" fill="#88bdda"/>
<rect x="110.25" y="135.90" width="10.30" height="1.54" fill="#b8dfed"/>
<rect x="120.50" y="135.90" width="10.30" height="1.54" fill="#4167ad"/>
<rect x="130.75" y="135.90" width="10.30" height="1.54" fill="#fffab7"/>
<rect x="59.00" y="137.39" width="10.30" height="1.54" fill="#f57446"/>
<rect x="69.25" y="137.39" width="10.30" height="1.54" fill="#fff7b3"/>
<rect x="79.50" y="137.39" width="10.30" height="1.54" fill="#f67e4b"/>
<rect x="89.75" y="137.39" width="10.30" height="1.54" fill="#fdb567"/>
<rect x="100.00" y="137.39" width="10.30" height="1.54" fill="#a7d6e7"/>
<rect x="110.25" y="137.39" width="10.30" height="1.54" fill="#ceeaf3"/>
<rect x="120.50" y="137.39" width="10.30" height="1.54" fill="#4b7cb8"/>
<rect x="130.75" y="137.39" width="10.30" height="1.54" fill="#b1dceb"/>
<rect x="59.00" y="138.88" width="10.30" height="1.54" fill="#e64f35"/>
<rect x="69.25" y="138.88" width="10.30" height="1.54" fill="#fecb7c"/>
<rect x="79.50" y="138.88" width="10.30" height="1.54" fill="#fee191"/>
<rect x="89.75" y="138.88" width="10.30" height="1.54" fill="#feeba1"/>
<rect x="100.00" y="138.88" width="10.30" height="1.54" fill="#426baf"/>
<rect x="110.25" y="138.88" width="10.30" height="1.54" fill="#cce9f2"/>
<rect x="120.50" y="138.88" width="10.30" height="1.54" fill="#fffbba"/>
<rect x="130.75" y="138.88" width="10.30" height="1.54" fill="#dbf1f7"/>
<rect x="59.00" y="140.36" width="10.30" height="1.54" fill="#fb9e5a"/>
<rect x="69.25" y="140.36" width="10.30" height="1.54" fill="#cb2527"/>
<rect x="79.50" y="140.36" width="10.30" height="1.54" fill="#fec879"/>
<rect x="89.75" y="140.36" width="10.30" height="1.54" fill="#fed081"/>
<rect x="100.00" y="140.36" width="10.30" height="1.54" fill="#addaea"/>
<rect x="110.25" y="140.36" width="10.30" height="1.54" fill="#d9f0f6"/>
<rect x="120.50" y="140.36" width="10.30" height="1.54" fill="#679ec9"/>
<rect x="130.75" y="140.36" width="10.30" height="1.54" fill="#70a8ce"/>
<rect x="59.00" y="141.85" width="10.30" height="1.54" fill="#fa9b58"/>
<rect x="69.25" y="141.85" width="10.30" height="1.54" fill="#fb9e5a"/>
<rect x="79.50" y="141.85" width="10.30" height="1.54" fill="#feea9e"/>
<rect x="89.75" y="141.85" width="10.30" height="1.54" fill="#fdb86b"/>
<rect x="100.00" y="141.85" width="10.30" height="1.54" fill="#669cc8"/>
<rect x="110.25" y="141.85" width="10.30" height="1.54" fill="#d4edf5"/>
<rect x="120.50" y="141.85" width="10.30" height="1.54" fill="#a3d3e5"/>
<rect x="130.75" y="141.85" width="10.30" height="1.54" fill="#b9e0ed"/>
<rect x="59.00" y="143.34" width="10.30" height="1.54" fill="#fdc072"/>
<rect x="69.25" y="143.34" width="10.30" height="1.54" fill="#f26a42"/>
<rect x="79.50" y="143.34" width="10.30" height="1.54" fill="#e95538"/>
<rect x="89.75" y="143.34" width="10.30" height="1.54" fill="#fdc072"/>
<rect x="100.00" y="143.34" width="10.30" height="1.54" fill="#c2e4ef"/>
<rect x="110.25" y="143.34" width="10.30" height="1.54" fill="#8abedb"/>
<rect x="120.50" y="143.34" width="10.30" height="1.54" fill="#b0dbea"/>
<rect x="130.75" y="143.34" width="10.30" height="1.54" fill="#eaf7e6"/>
<rect x="59.00" y="144.82" width="10.30" height="1.54" fill="#e54e35"/>
<rect x="69.25" y="144.82" width="10.30" height="1.54" fill="#fdc173"/>
<rect x="79.50" y="144.82" width="10.30" height="1.54" fill="#fdb264"/>
<rect x="89.75" y="144.82" width="10.30" height="1.54" fill="#fba15b"/>
<rect x="100.00" y="144.82" width="10.30" height="1.54" fill="#3b56a5"/>
<rect x="110.25" y="144.82" width="10.30" height="1.54" fill="#b9e0ed"/>
<rect x="120.50" y="144.82" width="10.30" height="1.54" fill="#7db4d5"/>
<rect x="130.75" y="144.82" width="10.30" height="1.54" fill="#d7eff6"/>
<rect x="59.00" y="146.31" width="10.30" height="1.54" fill="#fee496"/>
<rect x="69.25" y="146.31" width="10.30" height="1.54" fill="#fffebe"/>
<rect x="79.50" y="146.31" width="10.30" height="1.54" fill="#fdac60"/>
<rect x="89.75" y="146.31" width="10.30" height="1.54" fill="#fb9d59"/>
<rect x="100.00" y="146.31" width="10.30" height="1.54" fill="#659cc8"/>
<rect x="110.25" y="146.31" width="10.30" height="1.54" fill="#e8f6ea"/>
<rect x="120.50" y="146.31" width="10.30" height="1.54" fill="#98cae1"/>
<rect x="130.75" y="146.31" width="10.30" height="1.54" fill="#96c8e0"/>
<line x1="69.25" y1="16.9" x2="69.25" y2="147.8" stroke="#b4b4b4" stroke-width="0.4"/>
<line x1="79.50" y1="16.9" x2="79.50" y2="147.8" stroke="#b4b4b4" stroke-width="0.4"/>
<line x1="89.75" y1="16.9" x2="89.75" y2="147.8" stroke="#b4b4b4" stroke-width="0.4"/>
<line x1="100.00" y1="16.9" x2="100.00" y2="147.8" stroke="#b4b4b4" stroke-width="0.4"/>
<line x1="110.25" y1="16.9" x2="110.25" y2="147.8" stroke="#b4b4b4" stroke-width="0.4"/>
<line x1="120.50" y1="16.9" x2="120.50" y2="147.8" stroke="#b4b4b4" stroke-width="0.4"/>
<line x1="130.75" y1="16.9" x2="130.75" y2="147.8" stroke="#b4b4b4" stroke-width="0.4"/>
<rect x="59" y="16.9" width="82" height="130.9" fill="none" stroke="#c0c0c0" stroke-width="0.4"/>
<text x="142.3" y="16.2" font-size="6.6" text-anchor="start" font-weight="bold" fill="#000"   textLength="19.00" lengthAdjust="spacingAndGlyphs">Sample</text>
<defs><linearGradient id="gA" x1="0" y1="0" x2="0" y2="1"><stop offset="0.00" stop-color="#a50026"/><stop offset="0.10" stop-color="#d73027"/><stop offset="0.20" stop-color="#f46d43"/><stop offset="0.30" stop-color="#fdae61"/><stop offset="0.40" stop-color="#fee090"/><stop offset="0.50" stop-color="#ffffbf"/><stop offset="0.60" stop-color="#e0f3f8"/><stop offset="0.70" stop-color="#abd9e9"/><stop offset="0.80" stop-color="#74add1"/><stop offset="0.90" stop-color="#4575b4"/><stop offset="1.00" stop-color="#313695"/></linearGradient></defs>
<rect x="143.2" y="17.5" width="5.4" height="82.3" fill="url(#gA)"/>
<text x="150.5" y="21.900000000000002" font-size="6.5" text-anchor="start" font-weight="normal" fill="#333"  >2</text>
<text x="150.5" y="42.099999999999994" font-size="6.5" text-anchor="start" font-weight="normal" fill="#333"  >1</text>
<text x="150.5" y="62.3" font-size="6.5" text-anchor="start" font-weight="normal" fill="#333"  >0</text>
<text x="150.5" y="82.6" font-size="6.5" text-anchor="start" font-weight="normal" fill="#333"  >−1</text>
<text x="150.5" y="103.3" font-size="6.5" text-anchor="start" font-weight="normal" fill="#333"  >−2</text>
<text x="159.3" y="21.8" font-size="6.6" text-anchor="start" font-weight="bold" fill="#000"   textLength="20.00" lengthAdjust="spacingAndGlyphs">Sample</text>
<rect x="159.5" y="23.2" width="8" height="8" fill="#3fc1c9"/>
<rect x="159.5" y="31.2" width="8" height="7.8" fill="#f4918a"/>
<text x="168.5" y="29.8" font-size="6.4" text-anchor="start" font-weight="normal" fill="#555"  >Control</text>
<text x="168.5" y="37.6" font-size="6.4" text-anchor="start" font-weight="normal" fill="#555"  >pES</text>
<text x="252.4" y="18.5" font-size="11.5" text-anchor="start" font-weight="bold" fill="#000"  >B</text>
<line x1="279.5" y1="49.80000000000001" x2="279.5" y2="134.0" stroke="#000" stroke-width="1"/>
<line x1="276.5" y1="133.5" x2="279.5" y2="133.5" stroke="#000" stroke-width="1"/>
<text x="274.5" y="136.0" font-size="7" text-anchor="end" font-weight="normal" fill="#000"  >0</text>
<line x1="276.5" y1="105.6" x2="279.5" y2="105.6" stroke="#000" stroke-width="1"/>
<text x="274.5" y="108.1" font-size="7" text-anchor="end" font-weight="normal" fill="#000"  >1</text>
<line x1="276.5" y1="77.7" x2="279.5" y2="77.7" stroke="#000" stroke-width="1"/>
<text x="274.5" y="80.2" font-size="7" text-anchor="end" font-weight="normal" fill="#000"  >2</text>
<line x1="276.5" y1="49.80000000000001" x2="279.5" y2="49.80000000000001" stroke="#000" stroke-width="1"/>
<text x="274.5" y="52.30000000000001" font-size="7" text-anchor="end" font-weight="normal" fill="#000"  >3</text>
<line x1="279.5" y1="20.8" x2="279.5" y2="41.6" stroke="#000" stroke-width="1"/>
<line x1="276.5" y1="41.6" x2="279.5" y2="41.6" stroke="#000" stroke-width="1"/>
<text x="274.5" y="44.1" font-size="7" text-anchor="end" font-weight="normal" fill="#000"  >3</text>
<line x1="276.5" y1="31.200000000000003" x2="279.5" y2="31.200000000000003" stroke="#000" stroke-width="1"/>
<text x="274.5" y="33.7" font-size="7" text-anchor="end" font-weight="normal" fill="#000"  >4</text>
<line x1="276.5" y1="20.8" x2="279.5" y2="20.8" stroke="#000" stroke-width="1"/>
<text x="274.5" y="23.3" font-size="7" text-anchor="end" font-weight="normal" fill="#000"  >5</text>
<line x1="279.5" y1="133.5" x2="434.0" y2="133.5" stroke="#000" stroke-width="1"/>
<line x1="296.0" y1="133.5" x2="296.0" y2="136.0" stroke="#000" stroke-width="0.8"/>
<line x1="313.25" y1="133.5" x2="313.25" y2="136.0" stroke="#000" stroke-width="0.8"/>
<line x1="330.5" y1="133.5" x2="330.5" y2="136.0" stroke="#000" stroke-width="0.8"/>
<line x1="347.75" y1="133.5" x2="347.75" y2="136.0" stroke="#000" stroke-width="0.8"/>
<line x1="365.0" y1="133.5" x2="365.0" y2="136.0" stroke="#000" stroke-width="0.8"/>
<line x1="399.5" y1="133.5" x2="399.5" y2="136.0" stroke="#000" stroke-width="0.8"/>
<line x1="434.0" y1="133.5" x2="434.0" y2="136.0" stroke="#000" stroke-width="0.8"/>
<text x="296.0" y="144.0" font-size="7.2" text-anchor="middle" font-weight="normal" fill="#000"  >−2</text>
<text x="330.5" y="144.0" font-size="7.2" text-anchor="middle" font-weight="normal" fill="#000"  >0</text>
<text x="365.0" y="144.0" font-size="7.2" text-anchor="middle" font-weight="normal" fill="#000"  >2</text>
<text x="399.5" y="144.0" font-size="7.2" text-anchor="middle" font-weight="normal" fill="#000"  >4</text>
<text x="434.0" y="144.0" font-size="7.2" text-anchor="middle" font-weight="normal" fill="#000"  >6</text>
<text x="357.3" y="155" font-size="8" text-anchor="middle" fill="#333" textLength="56.5" lengthAdjust="spacingAndGlyphs">log<tspan font-size="5" dy="1.8">2</tspan><tspan dy="-1.8">(fold change)</tspan></text>
<text transform="translate(262.4,76.7) rotate(-90)" x="0" y="0" font-size="8.4" text-anchor="middle" fill="#333" textLength="48" lengthAdjust="spacingAndGlyphs">-log<tspan font-size="5.2" dy="1.8">10</tspan><tspan dy="-1.8"> (pvalue)</tspan></text>
<line x1="313.25" y1="20" x2="313.25" y2="133.5" stroke="#777" stroke-width="0.7" stroke-dasharray="1,1.2"/>
<line x1="347.75" y1="20" x2="347.75" y2="133.5" stroke="#777" stroke-width="0.7" stroke-dasharray="1,1.2"/>
<line x1="279.5" y1="97.23" x2="434.0" y2="97.23" stroke="#8a8a8a" stroke-width="1.2" stroke-dasharray="2.6,1.6"/>
<text x="403.5" y="95" font-size="6.6" text-anchor="start" font-weight="normal" fill="#a0a0a0" font-style="italic" >p value &lt; 0.05</text>
<circle cx="333.3" cy="103.0" r="0.58" fill="#4db553"/>
<circle cx="329.1" cy="121.7" r="0.58" fill="#4db553"/>
<circle cx="317.8" cy="102.4" r="0.58" fill="#4db553"/>
<circle cx="331.7" cy="118.3" r="0.58" fill="#4db553"/>
<circle cx="329.3" cy="122.4" r="0.58" fill="#4db553"/>
<circle cx="341.6" cy="114.1" r="0.58" fill="#4db553"/>
<circle cx="336.3" cy="124.2" r="0.58" fill="#4db553"/>
<circle cx="331.9" cy="124.4" r="0.58" fill="#4db553"/>
<circle cx="335.7" cy="128.5" r="0.58" fill="#4db553"/>
<circle cx="346.5" cy="104.8" r="0.58" fill="#4db553"/>
<circle cx="321.9" cy="117.1" r="0.58" fill="#4db553"/>
<circle cx="316.1" cy="99.4" r="0.58" fill="#4db553"/>
<circle cx="344.7" cy="106.7" r="0.58" fill="#4db553"/>
<circle cx="327.9" cy="123.2" r="0.58" fill="#4db553"/>
<circle cx="339.4" cy="118.9" r="0.58" fill="#4db553"/>
<circle cx="315.3" cy="98.7" r="0.58" fill="#4db553"/>
<circle cx="338.1" cy="116.1" r="0.58" fill="#4db553"/>
<circle cx="320.8" cy="113.6" r="0.58" fill="#4db553"/>
<circle cx="316.4" cy="99.8" r="0.58" fill="#4db553"/>
<circle cx="323.0" cy="115.9" r="0.58" fill="#4db553"/>
<circle cx="337.7" cy="114.3" r="0.58" fill="#4db553"/>
<circle cx="333.4" cy="129.7" r="0.58" fill="#4db553"/>
<circle cx="337.7" cy="119.7" r="0.58" fill="#4db553"/>
<circle cx="341.5" cy="116.7" r="0.58" fill="#4db553"/>
<circle cx="324.5" cy="98.9" r="0.58" fill="#4db553"/>
<circle cx="346.9" cy="105.2" r="0.58" fill="#4db553"/>
<circle cx="337.3" cy="104.1" r="0.58" fill="#4db553"/>
<circle cx="316.0" cy="99.2" r="0.58" fill="#4db553"/>
<circle cx="342.2" cy="120.6" r="0.58" fill="#4db553"/>
<circle cx="339.3" cy="115.1" r="0.58" fill="#4db553"/>
<circle cx="342.8" cy="113.7" r="0.58" fill="#4db553"/>
<circle cx="343.9" cy="102.9" r="0.58" fill="#4db553"/>
<circle cx="327.5" cy="103.7" r="0.58" fill="#4db553"/>
<circle cx="338.7" cy="117.4" r="0.58" fill="#4db553"/>
<circle cx="318.7" cy="103.4" r="0.58" fill="#4db553"/>
<circle cx="328.1" cy="120.1" r="0.58" fill="#4db553"/>
<circle cx="330.2" cy="130.2" r="0.58" fill="#4db553"/>
<circle cx="352.3" cy="98.3" r="0.58" fill="#4db553"/>
<circle cx="326.7" cy="119.4" r="0.58" fill="#4db553"/>
<circle cx="348.2" cy="105.4" r="0.58" fill="#4db553"/>
<circle cx="335.0" cy="120.6" r="0.58" fill="#4db553"/>
<circle cx="338.2" cy="104.4" r="0.58" fill="#4db553"/>
<circle cx="329.4" cy="125.3" r="0.58" fill="#4db553"/>
<circle cx="342.1" cy="109.5" r="0.58" fill="#4db553"/>
<circle cx="318.3" cy="104.6" r="0.58" fill="#4db553"/>
<circle cx="332.2" cy="123.9" r="0.58" fill="#4db553"/>
<circle cx="341.0" cy="117.2" r="0.58" fill="#4db553"/>
<circle cx="323.2" cy="98.0" r="0.58" fill="#4db553"/>
<circle cx="349.6" cy="102.7" r="0.58" fill="#4db553"/>
<circle cx="335.4" cy="126.3" r="0.58" fill="#4db553"/>
<circle cx="313.2" cy="100.0" r="0.58" fill="#4db553"/>
<circle cx="326.3" cy="118.4" r="0.58" fill="#4db553"/>
<circle cx="329.2" cy="109.0" r="0.58" fill="#4db553"/>
<circle cx="354.7" cy="101.2" r="0.58" fill="#4db553"/>
<circle cx="338.5" cy="119.6" r="0.58" fill="#4db553"/>
<circle cx="332.1" cy="126.1" r="0.58" fill="#4db553"/>
<circle cx="337.8" cy="121.2" r="0.58" fill="#4db553"/>
<circle cx="334.0" cy="119.8" r="0.58" fill="#4db553"/>
<circle cx="327.1" cy="121.8" r="0.58" fill="#4db553"/>
<circle cx="326.3" cy="117.2" r="0.58" fill="#4db553"/>
<circle cx="324.9" cy="117.7" r="0.58" fill="#4db553"/>
<circle cx="327.1" cy="128.3" r="0.58" fill="#4db553"/>
<circle cx="334.9" cy="114.9" r="0.58" fill="#4db553"/>
<circle cx="327.9" cy="126.8" r="0.58" fill="#4db553"/>
<circle cx="336.4" cy="118.7" r="0.58" fill="#4db553"/>
<circle cx="349.1" cy="99.0" r="0.58" fill="#4db553"/>
<circle cx="342.6" cy="114.2" r="0.58" fill="#4db553"/>
<circle cx="322.8" cy="115.9" r="0.58" fill="#4db553"/>
<circle cx="322.2" cy="104.9" r="0.58" fill="#4db553"/>
<circle cx="330.2" cy="113.9" r="0.58" fill="#4db553"/>
<circle cx="349.9" cy="100.8" r="0.58" fill="#4db553"/>
<circle cx="324.6" cy="123.5" r="0.58" fill="#4db553"/>
<circle cx="315.4" cy="100.1" r="0.58" fill="#4db553"/>
<circle cx="344.1" cy="107.9" r="0.58" fill="#4db553"/>
<circle cx="338.6" cy="118.7" r="0.58" fill="#4db553"/>
<circle cx="333.9" cy="125.9" r="0.58" fill="#4db553"/>
<circle cx="323.0" cy="102.8" r="0.58" fill="#4db553"/>
<circle cx="335.6" cy="125.1" r="0.58" fill="#4db553"/>
<circle cx="323.2" cy="112.1" r="0.58" fill="#4db553"/>
<circle cx="345.1" cy="100.2" r="0.58" fill="#4db553"/>
<circle cx="328.4" cy="123.6" r="0.58" fill="#4db553"/>
<circle cx="338.9" cy="114.5" r="0.58" fill="#4db553"/>
<circle cx="325.8" cy="122.6" r="0.58" fill="#4db553"/>
<circle cx="329.7" cy="114.7" r="0.58" fill="#4db553"/>
<circle cx="327.2" cy="125.3" r="0.58" fill="#4db553"/>
<circle cx="331.9" cy="129.7" r="0.58" fill="#4db553"/>
<circle cx="329.3" cy="129.9" r="0.58" fill="#4db553"/>
<circle cx="336.1" cy="108.5" r="0.58" fill="#4db553"/>
<circle cx="334.6" cy="117.9" r="0.58" fill="#4db553"/>
<circle cx="343.3" cy="109.0" r="0.58" fill="#4db553"/>
<circle cx="320.8" cy="113.5" r="0.58" fill="#4db553"/>
<circle cx="345.5" cy="108.0" r="0.58" fill="#4db553"/>
<circle cx="351.6" cy="103.5" r="0.58" fill="#4db553"/>
<circle cx="336.7" cy="122.8" r="0.58" fill="#4db553"/>
<circle cx="323.0" cy="113.7" r="0.58" fill="#4db553"/>
<circle cx="322.2" cy="113.3" r="0.58" fill="#4db553"/>
<circle cx="319.3" cy="107.5" r="0.58" fill="#4db553"/>
<circle cx="318.3" cy="111.2" r="0.58" fill="#4db553"/>
<circle cx="344.1" cy="111.4" r="0.58" fill="#4db553"/>
<circle cx="341.4" cy="101.4" r="0.58" fill="#4db553"/>
<circle cx="317.1" cy="102.6" r="0.58" fill="#4db553"/>
<circle cx="355.8" cy="98.2" r="0.58" fill="#4db553"/>
<circle cx="336.1" cy="123.4" r="0.58" fill="#4db553"/>
<circle cx="331.2" cy="128.2" r="0.58" fill="#4db553"/>
<circle cx="319.2" cy="104.1" r="0.58" fill="#4db553"/>
<circle cx="316.5" cy="102.5" r="0.58" fill="#4db553"/>
<circle cx="325.4" cy="111.4" r="0.58" fill="#4db553"/>
<circle cx="329.0" cy="119.5" r="0.58" fill="#4db553"/>
<circle cx="332.1" cy="130.0" r="0.58" fill="#4db553"/>
<circle cx="323.0" cy="106.2" r="0.58" fill="#4db553"/>
<circle cx="321.2" cy="103.4" r="0.58" fill="#4db553"/>
<circle cx="329.0" cy="110.6" r="0.58" fill="#4db553"/>
<circle cx="336.1" cy="101.0" r="0.58" fill="#4db553"/>
<circle cx="319.0" cy="100.8" r="0.58" fill="#4db553"/>
<circle cx="327.3" cy="114.9" r="0.58" fill="#4db553"/>
<circle cx="328.2" cy="98.0" r="0.58" fill="#4db553"/>
<circle cx="347.7" cy="103.9" r="0.58" fill="#4db553"/>
<circle cx="326.2" cy="122.9" r="0.58" fill="#4db553"/>
<circle cx="344.9" cy="102.4" r="0.58" fill="#4db553"/>
<circle cx="327.6" cy="108.9" r="0.58" fill="#4db553"/>
<circle cx="327.5" cy="133.1" r="0.58" fill="#4db553"/>
<circle cx="330.6" cy="124.1" r="0.58" fill="#4db553"/>
<circle cx="323.5" cy="111.1" r="0.58" fill="#4db553"/>
<circle cx="325.0" cy="120.8" r="0.58" fill="#4db553"/>
<circle cx="331.0" cy="132.9" r="0.58" fill="#4db553"/>
<circle cx="332.8" cy="121.0" r="0.58" fill="#4db553"/>
<circle cx="331.2" cy="121.8" r="0.58" fill="#4db553"/>
<circle cx="328.8" cy="124.7" r="0.58" fill="#4db553"/>
<circle cx="328.2" cy="124.1" r="0.58" fill="#4db553"/>
<circle cx="340.8" cy="107.4" r="0.58" fill="#4db553"/>
<circle cx="344.0" cy="114.6" r="0.58" fill="#4db553"/>
<circle cx="344.4" cy="109.6" r="0.58" fill="#4db553"/>
<circle cx="348.8" cy="107.2" r="0.58" fill="#4db553"/>
<circle cx="325.0" cy="120.0" r="0.58" fill="#4db553"/>
<circle cx="342.3" cy="110.6" r="0.58" fill="#4db553"/>
<circle cx="325.6" cy="120.4" r="0.58" fill="#4db553"/>
<circle cx="323.4" cy="110.0" r="0.58" fill="#4db553"/>
<circle cx="331.6" cy="121.9" r="0.58" fill="#4db553"/>
<circle cx="323.5" cy="107.3" r="0.58" fill="#4db553"/>
<circle cx="338.7" cy="117.8" r="0.58" fill="#4db553"/>
<circle cx="332.2" cy="129.2" r="0.58" fill="#4db553"/>
<circle cx="320.2" cy="105.3" r="0.58" fill="#4db553"/>
<circle cx="331.2" cy="112.6" r="0.58" fill="#4db553"/>
<circle cx="323.4" cy="120.9" r="0.58" fill="#4db553"/>
<circle cx="324.2" cy="120.6" r="0.58" fill="#4db553"/>
<circle cx="339.3" cy="105.8" r="0.58" fill="#4db553"/>
<circle cx="330.7" cy="119.4" r="0.58" fill="#4db553"/>
<circle cx="325.4" cy="103.3" r="0.58" fill="#4db553"/>
<circle cx="324.7" cy="107.3" r="0.58" fill="#4db553"/>
<circle cx="319.0" cy="100.8" r="0.58" fill="#4db553"/>
<circle cx="325.0" cy="119.6" r="0.58" fill="#4db553"/>
<circle cx="342.5" cy="104.4" r="0.58" fill="#4db553"/>
<circle cx="350.0" cy="100.8" r="0.58" fill="#4db553"/>
<circle cx="337.4" cy="107.6" r="0.58" fill="#4db553"/>
<circle cx="355.8" cy="98.3" r="0.58" fill="#4db553"/>
<circle cx="345.5" cy="101.9" r="0.58" fill="#4db553"/>
<circle cx="333.8" cy="113.5" r="0.58" fill="#4db553"/>
<circle cx="323.9" cy="117.8" r="0.58" fill="#4db553"/>
<circle cx="315.7" cy="100.0" r="0.58" fill="#4db553"/>
<circle cx="331.7" cy="130.7" r="0.58" fill="#4db553"/>
<circle cx="326.7" cy="124.4" r="0.58" fill="#4db553"/>
<circle cx="331.4" cy="129.6" r="0.58" fill="#4db553"/>
<circle cx="319.8" cy="105.8" r="0.58" fill="#4db553"/>
<circle cx="346.3" cy="108.8" r="0.58" fill="#4db553"/>
<circle cx="313.5" cy="100.6" r="0.58" fill="#4db553"/>
<circle cx="348.9" cy="101.2" r="0.58" fill="#4db553"/>
<circle cx="328.5" cy="126.0" r="0.58" fill="#4db553"/>
<circle cx="337.9" cy="101.7" r="0.58" fill="#4db553"/>
<circle cx="326.0" cy="102.3" r="0.58" fill="#4db553"/>
<circle cx="328.6" cy="126.4" r="0.58" fill="#4db553"/>
<circle cx="317.3" cy="104.1" r="0.58" fill="#4db553"/>
<circle cx="332.6" cy="131.1" r="0.58" fill="#4db553"/>
<circle cx="329.7" cy="118.8" r="0.58" fill="#4db553"/>
<circle cx="332.0" cy="117.4" r="0.58" fill="#4db553"/>
<circle cx="317.0" cy="101.6" r="0.58" fill="#4db553"/>
<circle cx="341.5" cy="114.3" r="0.58" fill="#4db553"/>
<circle cx="324.3" cy="105.5" r="0.58" fill="#4db553"/>
<circle cx="315.2" cy="101.3" r="0.58" fill="#4db553"/>
<circle cx="318.5" cy="102.4" r="0.58" fill="#4db553"/>
<circle cx="317.1" cy="104.0" r="0.58" fill="#4db553"/>
<circle cx="342.8" cy="111.8" r="0.58" fill="#4db553"/>
<circle cx="316.0" cy="103.0" r="0.58" fill="#4db553"/>
<circle cx="349.0" cy="102.1" r="0.58" fill="#4db553"/>
<circle cx="351.5" cy="99.2" r="0.58" fill="#4db553"/>
<circle cx="324.1" cy="111.6" r="0.58" fill="#4db553"/>
<circle cx="320.2" cy="107.5" r="0.58" fill="#4db553"/>
<circle cx="328.4" cy="103.3" r="0.58" fill="#4db553"/>
<circle cx="337.9" cy="114.7" r="0.58" fill="#4db553"/>
<circle cx="316.8" cy="100.6" r="0.58" fill="#4db553"/>
<circle cx="336.3" cy="121.7" r="0.58" fill="#4db553"/>
<circle cx="329.0" cy="100.3" r="0.58" fill="#4db553"/>
<circle cx="314.5" cy="100.7" r="0.58" fill="#4db553"/>
<circle cx="337.7" cy="104.2" r="0.58" fill="#4db553"/>
<circle cx="340.5" cy="116.4" r="0.58" fill="#4db553"/>
<circle cx="333.1" cy="123.8" r="0.58" fill="#4db553"/>
<circle cx="315.5" cy="104.5" r="0.58" fill="#4db553"/>
<circle cx="321.5" cy="109.1" r="0.58" fill="#4db553"/>
<circle cx="326.4" cy="112.7" r="0.58" fill="#4db553"/>
<circle cx="335.0" cy="122.3" r="0.58" fill="#4db553"/>
<circle cx="323.9" cy="123.8" r="0.58" fill="#4db553"/>
<circle cx="336.4" cy="120.1" r="0.58" fill="#4db553"/>
<circle cx="323.9" cy="117.1" r="0.58" fill="#4db553"/>
<circle cx="318.3" cy="98.4" r="0.58" fill="#4db553"/>
<circle cx="311.9" cy="98.7" r="0.58" fill="#4db553"/>
<circle cx="331.0" cy="103.1" r="0.58" fill="#4db553"/>
<circle cx="326.6" cy="122.1" r="0.58" fill="#4db553"/>
<circle cx="340.5" cy="121.7" r="0.58" fill="#4db553"/>
<circle cx="332.0" cy="130.2" r="0.58" fill="#4db553"/>
<circle cx="331.5" cy="111.5" r="0.58" fill="#4db553"/>
<circle cx="330.3" cy="124.4" r="0.58" fill="#4db553"/>
<circle cx="330.8" cy="104.5" r="0.58" fill="#4db553"/>
<circle cx="330.5" cy="109.3" r="0.58" fill="#4db553"/>
<circle cx="336.9" cy="120.8" r="0.58" fill="#4db553"/>
<circle cx="344.5" cy="103.6" r="0.58" fill="#4db553"/>
<circle cx="331.5" cy="106.2" r="0.58" fill="#4db553"/>
<circle cx="324.9" cy="117.7" r="0.58" fill="#4db553"/>
<circle cx="336.7" cy="114.1" r="0.58" fill="#4db553"/>
<circle cx="342.3" cy="107.7" r="0.58" fill="#4db553"/>
<circle cx="339.9" cy="113.9" r="0.58" fill="#4db553"/>
<circle cx="323.5" cy="106.4" r="0.58" fill="#4db553"/>
<circle cx="329.6" cy="107.0" r="0.58" fill="#4db553"/>
<circle cx="321.5" cy="111.8" r="0.58" fill="#4db553"/>
<circle cx="319.6" cy="110.2" r="0.58" fill="#4db553"/>
<circle cx="333.7" cy="103.4" r="0.58" fill="#4db553"/>
<circle cx="331.4" cy="126.3" r="0.58" fill="#4db553"/>
<circle cx="337.2" cy="105.2" r="0.58" fill="#4db553"/>
<circle cx="330.2" cy="102.2" r="0.58" fill="#4db553"/>
<circle cx="315.1" cy="99.1" r="0.58" fill="#4db553"/>
<circle cx="316.4" cy="104.0" r="0.58" fill="#4db553"/>
<circle cx="353.0" cy="98.2" r="0.58" fill="#4db553"/>
<circle cx="323.4" cy="114.7" r="0.58" fill="#4db553"/>
<circle cx="340.8" cy="114.1" r="0.58" fill="#4db553"/>
<circle cx="323.6" cy="119.4" r="0.58" fill="#4db553"/>
<circle cx="333.9" cy="104.5" r="0.58" fill="#4db553"/>
<circle cx="330.1" cy="121.2" r="0.58" fill="#4db553"/>
<circle cx="326.5" cy="121.4" r="0.58" fill="#4db553"/>
<circle cx="341.8" cy="107.5" r="0.58" fill="#4db553"/>
<circle cx="322.2" cy="109.6" r="0.58" fill="#4db553"/>
<circle cx="341.7" cy="107.4" r="0.58" fill="#4db553"/>
<circle cx="341.9" cy="112.5" r="0.58" fill="#4db553"/>
<circle cx="321.6" cy="110.1" r="0.58" fill="#4db553"/>
<circle cx="347.6" cy="101.6" r="0.58" fill="#4db553"/>
<circle cx="339.3" cy="115.5" r="0.58" fill="#4db553"/>
<circle cx="330.4" cy="132.9" r="0.58" fill="#4db553"/>
<circle cx="338.1" cy="120.2" r="0.58" fill="#4db553"/>
<circle cx="340.6" cy="112.1" r="0.58" fill="#4db553"/>
<circle cx="338.8" cy="116.0" r="0.58" fill="#4db553"/>
<circle cx="333.0" cy="128.7" r="0.58" fill="#4db553"/>
<circle cx="315.8" cy="103.4" r="0.58" fill="#4db553"/>
<circle cx="316.6" cy="102.1" r="0.58" fill="#4db553"/>
<circle cx="330.9" cy="131.9" r="0.58" fill="#4db553"/>
<circle cx="326.1" cy="120.0" r="0.58" fill="#4db553"/>
<circle cx="349.2" cy="103.6" r="0.58" fill="#4db553"/>
<circle cx="334.4" cy="123.9" r="0.58" fill="#4db553"/>
<circle cx="332.6" cy="123.3" r="0.58" fill="#4db553"/>
<circle cx="346.0" cy="103.5" r="0.58" fill="#4db553"/>
<circle cx="323.2" cy="103.3" r="0.58" fill="#4db553"/>
<circle cx="340.2" cy="105.9" r="0.58" fill="#4db553"/>
<circle cx="333.4" cy="113.4" r="0.58" fill="#4db553"/>
<circle cx="326.4" cy="119.4" r="0.58" fill="#4db553"/>
<circle cx="334.1" cy="128.6" r="0.58" fill="#4db553"/>
<circle cx="332.4" cy="124.3" r="0.58" fill="#4db553"/>
<circle cx="316.8" cy="101.3" r="0.58" fill="#4db553"/>
<circle cx="346.2" cy="101.9" r="0.58" fill="#4db553"/>
<circle cx="347.9" cy="101.9" r="0.58" fill="#4db553"/>
<circle cx="323.2" cy="114.1" r="0.58" fill="#4db553"/>
<circle cx="319.4" cy="107.5" r="0.58" fill="#4db553"/>
<circle cx="344.6" cy="108.2" r="0.58" fill="#4db553"/>
<circle cx="332.1" cy="117.0" r="0.58" fill="#4db553"/>
<circle cx="321.4" cy="112.0" r="0.58" fill="#4db553"/>
<circle cx="328.0" cy="105.2" r="0.58" fill="#4db553"/>
<circle cx="346.9" cy="101.3" r="0.58" fill="#4db553"/>
<circle cx="318.2" cy="103.7" r="0.58" fill="#4db553"/>
<circle cx="338.1" cy="113.6" r="0.58" fill="#4db553"/>
<circle cx="330.2" cy="118.4" r="0.58" fill="#4db553"/>
<circle cx="341.8" cy="111.4" r="0.58" fill="#4db553"/>
<circle cx="336.2" cy="111.3" r="0.58" fill="#4db553"/>
<circle cx="347.5" cy="103.2" r="0.58" fill="#4db553"/>
<circle cx="340.2" cy="108.9" r="0.58" fill="#4db553"/>
<circle cx="332.4" cy="129.7" r="0.58" fill="#4db553"/>
<circle cx="322.2" cy="110.1" r="0.58" fill="#4db553"/>
<circle cx="325.9" cy="118.1" r="0.58" fill="#4db553"/>
<circle cx="340.6" cy="108.3" r="0.58" fill="#4db553"/>
<circle cx="337.6" cy="100.1" r="0.58" fill="#4db553"/>
<circle cx="335.4" cy="107.7" r="0.58" fill="#4db553"/>
<circle cx="322.7" cy="106.2" r="0.58" fill="#4db553"/>
<circle cx="346.2" cy="106.6" r="0.58" fill="#4db553"/>
<circle cx="325.8" cy="122.7" r="0.58" fill="#4db553"/>
<circle cx="338.1" cy="103.6" r="0.58" fill="#4db553"/>
<circle cx="337.6" cy="115.7" r="0.58" fill="#4db553"/>
<circle cx="343.5" cy="109.6" r="0.58" fill="#4db553"/>
<circle cx="341.3" cy="117.5" r="0.58" fill="#4db553"/>
<circle cx="320.1" cy="107.3" r="0.58" fill="#4db553"/>
<circle cx="322.8" cy="109.5" r="0.58" fill="#4db553"/>
<circle cx="331.2" cy="109.2" r="0.58" fill="#4db553"/>
<circle cx="332.8" cy="131.7" r="0.58" fill="#4db553"/>
<circle cx="345.6" cy="108.8" r="0.58" fill="#4db553"/>
<circle cx="344.9" cy="112.3" r="0.58" fill="#4db553"/>
<circle cx="327.5" cy="121.4" r="0.58" fill="#4db553"/>
<circle cx="330.3" cy="131.6" r="0.58" fill="#4db553"/>
<circle cx="314.8" cy="98.6" r="0.58" fill="#4db553"/>
<circle cx="319.4" cy="101.1" r="0.58" fill="#4db553"/>
<circle cx="327.1" cy="120.3" r="0.58" fill="#4db553"/>
<circle cx="331.9" cy="129.1" r="0.58" fill="#4db553"/>
<circle cx="318.8" cy="101.5" r="0.58" fill="#4db553"/>
<circle cx="331.6" cy="107.7" r="0.58" fill="#4db553"/>
<circle cx="350.9" cy="99.5" r="0.58" fill="#4db553"/>
<circle cx="315.0" cy="98.7" r="0.58" fill="#4db553"/>
<circle cx="331.3" cy="131.6" r="0.58" fill="#4db553"/>
<circle cx="332.8" cy="127.4" r="0.58" fill="#4db553"/>
<circle cx="348.2" cy="101.3" r="0.58" fill="#4db553"/>
<circle cx="330.3" cy="128.5" r="0.58" fill="#4db553"/>
<circle cx="318.2" cy="106.3" r="0.58" fill="#4db553"/>
<circle cx="346.6" cy="103.0" r="0.58" fill="#4db553"/>
<circle cx="339.0" cy="114.1" r="0.58" fill="#4db553"/>
<circle cx="342.5" cy="103.3" r="0.58" fill="#4db553"/>
<circle cx="349.5" cy="109.5" r="0.58" fill="#4db553"/>
<circle cx="327.8" cy="105.6" r="0.58" fill="#4db553"/>
<circle cx="341.7" cy="108.4" r="0.58" fill="#4db553"/>
<circle cx="347.0" cy="108.5" r="0.58" fill="#4db553"/>
<circle cx="329.6" cy="113.8" r="0.58" fill="#4db553"/>
<circle cx="344.7" cy="106.1" r="0.58" fill="#4db553"/>
<circle cx="350.1" cy="102.8" r="0.58" fill="#4db553"/>
<circle cx="338.9" cy="114.0" r="0.58" fill="#4db553"/>
<circle cx="316.5" cy="100.7" r="0.58" fill="#4db553"/>
<circle cx="345.8" cy="102.1" r="0.58" fill="#4db553"/>
<circle cx="346.6" cy="109.3" r="0.58" fill="#4db553"/>
<circle cx="328.3" cy="106.1" r="0.58" fill="#4db553"/>
<circle cx="333.1" cy="127.1" r="0.58" fill="#4db553"/>
<circle cx="337.0" cy="121.9" r="0.58" fill="#4db553"/>
<circle cx="334.1" cy="120.6" r="0.58" fill="#4db553"/>
<circle cx="319.4" cy="112.6" r="0.58" fill="#4db553"/>
<circle cx="336.0" cy="119.8" r="0.58" fill="#4db553"/>
<circle cx="323.1" cy="112.8" r="0.58" fill="#4db553"/>
<circle cx="337.2" cy="120.6" r="0.58" fill="#4db553"/>
<circle cx="332.5" cy="100.7" r="0.58" fill="#4db553"/>
<circle cx="317.5" cy="108.8" r="0.58" fill="#4db553"/>
<circle cx="325.9" cy="122.2" r="0.58" fill="#4db553"/>
<circle cx="342.3" cy="109.6" r="0.58" fill="#4db553"/>
<circle cx="326.9" cy="111.0" r="0.58" fill="#4db553"/>
<circle cx="325.0" cy="115.6" r="0.58" fill="#4db553"/>
<circle cx="323.0" cy="107.6" r="0.58" fill="#4db553"/>
<circle cx="344.4" cy="108.6" r="0.58" fill="#4db553"/>
<circle cx="332.1" cy="130.2" r="0.58" fill="#4db553"/>
<circle cx="326.8" cy="111.9" r="0.58" fill="#4db553"/>
<circle cx="348.0" cy="103.5" r="0.58" fill="#4db553"/>
<circle cx="345.4" cy="99.1" r="0.58" fill="#4db553"/>
<circle cx="352.4" cy="98.7" r="0.58" fill="#4db553"/>
<circle cx="326.9" cy="122.7" r="0.58" fill="#4db553"/>
<circle cx="332.7" cy="129.1" r="0.58" fill="#4db553"/>
<circle cx="341.5" cy="112.8" r="0.58" fill="#4db553"/>
<circle cx="330.4" cy="128.3" r="0.58" fill="#4db553"/>
<circle cx="329.1" cy="125.4" r="0.58" fill="#4db553"/>
<circle cx="344.5" cy="109.6" r="0.58" fill="#4db553"/>
<circle cx="345.0" cy="106.5" r="0.58" fill="#4db553"/>
<circle cx="323.0" cy="98.6" r="0.58" fill="#4db553"/>
<circle cx="331.8" cy="129.8" r="0.58" fill="#4db553"/>
<circle cx="339.6" cy="116.3" r="0.58" fill="#4db553"/>
<circle cx="317.7" cy="102.0" r="0.58" fill="#4db553"/>
<circle cx="320.0" cy="107.2" r="0.58" fill="#4db553"/>
<circle cx="335.7" cy="124.3" r="0.58" fill="#4db553"/>
<circle cx="343.1" cy="106.3" r="0.58" fill="#4db553"/>
<circle cx="322.0" cy="108.8" r="0.58" fill="#4db553"/>
<circle cx="341.0" cy="117.3" r="0.58" fill="#4db553"/>
<circle cx="328.2" cy="123.2" r="0.58" fill="#4db553"/>
<circle cx="326.4" cy="124.3" r="0.58" fill="#4db553"/>
<circle cx="322.4" cy="105.2" r="0.58" fill="#4db553"/>
<circle cx="336.5" cy="121.1" r="0.58" fill="#4db553"/>
<circle cx="317.4" cy="100.6" r="0.58" fill="#4db553"/>
<circle cx="325.2" cy="113.2" r="0.58" fill="#4db553"/>
<circle cx="343.7" cy="107.7" r="0.58" fill="#4db553"/>
<circle cx="331.5" cy="116.7" r="0.58" fill="#4db553"/>
<circle cx="319.8" cy="107.7" r="0.58" fill="#4db553"/>
<circle cx="322.0" cy="105.3" r="0.58" fill="#4db553"/>
<circle cx="350.3" cy="101.1" r="0.58" fill="#4db553"/>
<circle cx="322.3" cy="114.3" r="0.58" fill="#4db553"/>
<circle cx="327.2" cy="116.9" r="0.58" fill="#4db553"/>
<circle cx="343.7" cy="111.8" r="0.58" fill="#4db553"/>
<circle cx="314.9" cy="98.3" r="0.58" fill="#4db553"/>
<circle cx="323.0" cy="100.5" r="0.58" fill="#4db553"/>
<circle cx="342.5" cy="112.2" r="0.58" fill="#4db553"/>
<circle cx="341.6" cy="115.9" r="0.58" fill="#4db553"/>
<circle cx="317.2" cy="99.7" r="0.58" fill="#4db553"/>
<circle cx="324.6" cy="118.5" r="0.58" fill="#4db553"/>
<circle cx="347.5" cy="104.9" r="0.58" fill="#4db553"/>
<circle cx="348.5" cy="102.8" r="0.58" fill="#4db553"/>
<circle cx="328.4" cy="124.5" r="0.58" fill="#4db553"/>
<circle cx="333.9" cy="122.5" r="0.58" fill="#4db553"/>
<circle cx="315.4" cy="100.0" r="0.58" fill="#4db553"/>
<circle cx="333.9" cy="122.7" r="0.58" fill="#4db553"/>
<circle cx="325.9" cy="122.1" r="0.58" fill="#4db553"/>
<circle cx="331.0" cy="127.0" r="0.58" fill="#4db553"/>
<circle cx="322.9" cy="119.1" r="0.58" fill="#4db553"/>
<circle cx="323.2" cy="102.6" r="0.58" fill="#4db553"/>
<circle cx="330.4" cy="128.2" r="0.58" fill="#4db553"/>
<circle cx="316.8" cy="105.1" r="0.58" fill="#4db553"/>
<circle cx="350.8" cy="102.7" r="0.58" fill="#4db553"/>
<circle cx="318.7" cy="111.7" r="0.58" fill="#4db553"/>
<circle cx="351.3" cy="100.1" r="0.58" fill="#4db553"/>
<circle cx="329.9" cy="122.5" r="0.58" fill="#4db553"/>
<circle cx="329.2" cy="129.3" r="0.58" fill="#4db553"/>
<circle cx="332.5" cy="125.5" r="0.58" fill="#4db553"/>
<circle cx="332.7" cy="125.5" r="0.58" fill="#4db553"/>
<circle cx="330.3" cy="131.8" r="0.58" fill="#4db553"/>
<circle cx="333.1" cy="119.5" r="0.58" fill="#4db553"/>
<circle cx="330.6" cy="132.2" r="0.58" fill="#4db553"/>
<circle cx="324.7" cy="119.2" r="0.58" fill="#4db553"/>
<circle cx="331.5" cy="130.8" r="0.58" fill="#4db553"/>
<circle cx="337.3" cy="102.6" r="0.58" fill="#4db553"/>
<circle cx="336.2" cy="120.2" r="0.58" fill="#4db553"/>
<circle cx="333.5" cy="121.0" r="0.58" fill="#4db553"/>
<circle cx="334.3" cy="118.8" r="0.58" fill="#4db553"/>
<circle cx="341.5" cy="108.6" r="0.58" fill="#4db553"/>
<circle cx="327.5" cy="125.2" r="0.58" fill="#4db553"/>
<circle cx="333.1" cy="126.8" r="0.58" fill="#4db553"/>
<circle cx="335.6" cy="113.3" r="0.58" fill="#4db553"/>
<circle cx="330.1" cy="131.1" r="0.58" fill="#4db553"/>
<circle cx="339.4" cy="103.5" r="0.58" fill="#4db553"/>
<circle cx="330.5" cy="132.7" r="0.58" fill="#4db553"/>
<circle cx="328.8" cy="127.1" r="0.58" fill="#4db553"/>
<circle cx="331.6" cy="128.2" r="0.58" fill="#4db553"/>
<circle cx="331.2" cy="130.2" r="0.58" fill="#4db553"/>
<circle cx="327.5" cy="125.7" r="0.58" fill="#4db553"/>
<circle cx="339.5" cy="102.1" r="0.58" fill="#4db553"/>
<circle cx="343.8" cy="107.2" r="0.58" fill="#4db553"/>
<circle cx="323.6" cy="111.2" r="0.58" fill="#4db553"/>
<circle cx="331.8" cy="126.0" r="0.58" fill="#4db553"/>
<circle cx="341.6" cy="103.4" r="0.58" fill="#4db553"/>
<circle cx="323.5" cy="106.1" r="0.58" fill="#4db553"/>
<circle cx="335.2" cy="122.5" r="0.58" fill="#4db553"/>
<circle cx="335.9" cy="115.8" r="0.58" fill="#4db553"/>
<circle cx="333.2" cy="122.2" r="0.58" fill="#4db553"/>
<circle cx="336.0" cy="111.2" r="0.58" fill="#4db553"/>
<circle cx="330.4" cy="132.2" r="0.58" fill="#4db553"/>
<circle cx="329.3" cy="127.8" r="0.58" fill="#4db553"/>
<circle cx="327.3" cy="123.5" r="0.58" fill="#4db553"/>
<circle cx="334.2" cy="119.7" r="0.58" fill="#4db553"/>
<circle cx="332.2" cy="127.1" r="0.58" fill="#4db553"/>
<circle cx="332.5" cy="127.3" r="0.58" fill="#4db553"/>
<circle cx="327.4" cy="115.9" r="0.58" fill="#4db553"/>
<circle cx="333.4" cy="120.5" r="0.58" fill="#4db553"/>
<circle cx="338.8" cy="107.1" r="0.58" fill="#4db553"/>
<circle cx="332.8" cy="126.1" r="0.58" fill="#4db553"/>
<circle cx="329.8" cy="129.8" r="0.58" fill="#4db553"/>
<circle cx="329.7" cy="129.1" r="0.58" fill="#4db553"/>
<circle cx="331.8" cy="127.7" r="0.58" fill="#4db553"/>
<circle cx="329.1" cy="128.6" r="0.58" fill="#4db553"/>
<circle cx="318.3" cy="106.4" r="0.58" fill="#4db553"/>
<circle cx="326.1" cy="108.4" r="0.58" fill="#4db553"/>
<circle cx="328.9" cy="126.5" r="0.58" fill="#4db553"/>
<circle cx="339.7" cy="104.6" r="0.58" fill="#4db553"/>
<circle cx="326.3" cy="116.7" r="0.58" fill="#4db553"/>
<circle cx="331.3" cy="130.1" r="0.58" fill="#4db553"/>
<circle cx="339.7" cy="105.7" r="0.58" fill="#4db553"/>
<circle cx="337.8" cy="109.1" r="0.58" fill="#4db553"/>
<circle cx="326.5" cy="120.5" r="0.58" fill="#4db553"/>
<circle cx="325.0" cy="118.6" r="0.58" fill="#4db553"/>
<circle cx="328.9" cy="127.0" r="0.58" fill="#4db553"/>
<circle cx="342.3" cy="103.7" r="0.58" fill="#4db553"/>
<circle cx="335.7" cy="109.7" r="0.58" fill="#4db553"/>
<circle cx="333.0" cy="125.1" r="0.58" fill="#4db553"/>
<circle cx="327.8" cy="117.4" r="0.58" fill="#4db553"/>
<circle cx="329.5" cy="129.3" r="0.58" fill="#4db553"/>
<circle cx="328.2" cy="123.0" r="0.58" fill="#4db553"/>
<circle cx="325.7" cy="111.0" r="0.58" fill="#4db553"/>
<circle cx="333.7" cy="123.2" r="0.58" fill="#4db553"/>
<circle cx="334.8" cy="119.6" r="0.58" fill="#4db553"/>
<circle cx="329.2" cy="126.2" r="0.58" fill="#4db553"/>
<circle cx="329.6" cy="129.7" r="0.58" fill="#4db553"/>
<circle cx="335.0" cy="117.4" r="0.58" fill="#4db553"/>
<circle cx="337.1" cy="107.7" r="0.58" fill="#4db553"/>
<circle cx="335.0" cy="115.1" r="0.58" fill="#4db553"/>
<circle cx="328.6" cy="124.6" r="0.58" fill="#4db553"/>
<circle cx="328.0" cy="121.4" r="0.58" fill="#4db553"/>
<circle cx="331.3" cy="128.4" r="0.58" fill="#4db553"/>
<circle cx="330.1" cy="131.2" r="0.58" fill="#4db553"/>
<circle cx="334.9" cy="123.8" r="0.58" fill="#4db553"/>
<circle cx="337.1" cy="102.3" r="0.58" fill="#4db553"/>
<circle cx="334.0" cy="122.7" r="0.58" fill="#4db553"/>
<circle cx="332.8" cy="121.6" r="0.58" fill="#4db553"/>
<circle cx="336.2" cy="115.8" r="0.58" fill="#4db553"/>
<circle cx="331.3" cy="128.5" r="0.58" fill="#4db553"/>
<circle cx="334.6" cy="112.1" r="0.58" fill="#4db553"/>
<circle cx="329.3" cy="129.2" r="0.58" fill="#4db553"/>
<circle cx="329.5" cy="127.9" r="0.58" fill="#4db553"/>
<circle cx="325.6" cy="105.4" r="0.58" fill="#4db553"/>
<circle cx="338.0" cy="109.1" r="0.58" fill="#4db553"/>
<circle cx="331.5" cy="130.5" r="0.58" fill="#4db553"/>
<circle cx="327.5" cy="124.7" r="0.58" fill="#4db553"/>
<circle cx="340.2" cy="105.6" r="0.58" fill="#4db553"/>
<circle cx="327.8" cy="127.0" r="0.58" fill="#4db553"/>
<circle cx="337.7" cy="99.9" r="0.58" fill="#4db553"/>
<circle cx="333.2" cy="125.6" r="0.58" fill="#4db553"/>
<circle cx="337.6" cy="119.0" r="0.58" fill="#4db553"/>
<circle cx="330.9" cy="131.7" r="0.58" fill="#4db553"/>
<circle cx="336.5" cy="116.0" r="0.58" fill="#4db553"/>
<circle cx="338.5" cy="114.4" r="0.58" fill="#4db553"/>
<circle cx="331.9" cy="125.9" r="0.58" fill="#4db553"/>
<circle cx="326.5" cy="110.6" r="0.58" fill="#4db553"/>
<circle cx="334.2" cy="124.2" r="0.58" fill="#4db553"/>
<circle cx="340.6" cy="105.1" r="0.58" fill="#4db553"/>
<circle cx="327.5" cy="123.4" r="0.58" fill="#4db553"/>
<circle cx="329.6" cy="129.6" r="0.58" fill="#4db553"/>
<circle cx="339.0" cy="102.2" r="0.58" fill="#4db553"/>
<circle cx="328.2" cy="125.4" r="0.58" fill="#4db553"/>
<circle cx="325.6" cy="121.4" r="0.58" fill="#4db553"/>
<circle cx="336.7" cy="108.4" r="0.58" fill="#4db553"/>
<circle cx="328.2" cy="123.5" r="0.58" fill="#4db553"/>
<circle cx="327.3" cy="125.5" r="0.58" fill="#4db553"/>
<circle cx="333.1" cy="126.7" r="0.58" fill="#4db553"/>
<circle cx="331.9" cy="127.5" r="0.58" fill="#4db553"/>
<circle cx="327.6" cy="117.9" r="0.58" fill="#4db553"/>
<circle cx="335.5" cy="120.0" r="0.58" fill="#4db553"/>
<circle cx="330.3" cy="131.4" r="0.58" fill="#4db553"/>
<circle cx="328.9" cy="125.0" r="0.58" fill="#4db553"/>
<circle cx="338.8" cy="110.3" r="0.58" fill="#4db553"/>
<circle cx="327.3" cy="124.4" r="0.58" fill="#4db553"/>
<circle cx="332.6" cy="129.2" r="0.58" fill="#4db553"/>
<circle cx="331.2" cy="131.4" r="0.58" fill="#4db553"/>
<circle cx="331.7" cy="129.1" r="0.58" fill="#4db553"/>
<circle cx="334.4" cy="122.7" r="0.58" fill="#4db553"/>
<circle cx="323.2" cy="110.7" r="0.58" fill="#4db553"/>
<circle cx="328.4" cy="123.4" r="0.58" fill="#4db553"/>
<circle cx="333.2" cy="126.9" r="0.58" fill="#4db553"/>
<circle cx="331.4" cy="130.9" r="0.58" fill="#4db553"/>
<circle cx="331.7" cy="127.6" r="0.58" fill="#4db553"/>
<circle cx="343.0" cy="106.5" r="0.58" fill="#4db553"/>
<circle cx="327.2" cy="120.7" r="0.58" fill="#4db553"/>
<circle cx="335.7" cy="121.0" r="0.58" fill="#4db553"/>
<circle cx="328.2" cy="123.5" r="0.58" fill="#4db553"/>
<circle cx="329.0" cy="125.0" r="0.58" fill="#4db553"/>
<circle cx="322.5" cy="103.8" r="0.58" fill="#4db553"/>
<circle cx="330.8" cy="131.0" r="0.58" fill="#4db553"/>
<circle cx="326.2" cy="121.2" r="0.58" fill="#4db553"/>
<circle cx="336.0" cy="111.9" r="0.58" fill="#4db553"/>
<circle cx="327.5" cy="124.3" r="0.58" fill="#4db553"/>
<circle cx="326.5" cy="119.3" r="0.58" fill="#4db553"/>
<circle cx="334.9" cy="122.5" r="0.58" fill="#4db553"/>
<circle cx="338.8" cy="99.6" r="0.58" fill="#4db553"/>
<circle cx="333.5" cy="122.0" r="0.58" fill="#4db553"/>
<circle cx="341.4" cy="100.6" r="0.58" fill="#4db553"/>
<circle cx="335.9" cy="112.8" r="0.58" fill="#4db553"/>
<circle cx="330.6" cy="132.3" r="0.58" fill="#4db553"/>
<circle cx="333.4" cy="120.9" r="0.58" fill="#4db553"/>
<circle cx="328.9" cy="126.2" r="0.58" fill="#4db553"/>
<circle cx="334.7" cy="121.2" r="0.58" fill="#4db553"/>
<circle cx="330.1" cy="132.3" r="0.58" fill="#4db553"/>
<circle cx="332.2" cy="125.6" r="0.58" fill="#4db553"/>
<circle cx="337.6" cy="117.7" r="0.58" fill="#4db553"/>
<circle cx="326.7" cy="123.0" r="0.58" fill="#4db553"/>
<circle cx="334.4" cy="124.8" r="0.58" fill="#4db553"/>
<circle cx="333.1" cy="120.9" r="0.58" fill="#4db553"/>
<circle cx="330.2" cy="132.1" r="0.58" fill="#4db553"/>
<circle cx="325.7" cy="119.4" r="0.58" fill="#4db553"/>
<circle cx="333.6" cy="126.4" r="0.58" fill="#4db553"/>
<circle cx="327.1" cy="114.0" r="0.58" fill="#4db553"/>
<circle cx="325.4" cy="117.9" r="0.58" fill="#4db553"/>
<circle cx="334.1" cy="116.0" r="0.58" fill="#4db553"/>
<circle cx="334.3" cy="122.5" r="0.58" fill="#4db553"/>
<circle cx="324.5" cy="100.6" r="0.58" fill="#4db553"/>
<circle cx="332.8" cy="126.6" r="0.58" fill="#4db553"/>
<circle cx="327.0" cy="121.4" r="0.58" fill="#4db553"/>
<circle cx="326.8" cy="114.4" r="0.58" fill="#4db553"/>
<circle cx="331.0" cy="131.6" r="0.58" fill="#4db553"/>
<circle cx="324.2" cy="103.1" r="0.58" fill="#4db553"/>
<circle cx="329.0" cy="127.9" r="0.58" fill="#4db553"/>
<circle cx="333.1" cy="127.0" r="0.58" fill="#4db553"/>
<circle cx="336.9" cy="100.7" r="0.58" fill="#4db553"/>
<circle cx="339.5" cy="115.6" r="0.58" fill="#4db553"/>
<circle cx="337.1" cy="120.3" r="0.58" fill="#4db553"/>
<circle cx="328.1" cy="121.8" r="0.58" fill="#4db553"/>
<circle cx="335.6" cy="116.5" r="0.58" fill="#4db553"/>
<circle cx="336.9" cy="118.0" r="0.58" fill="#4db553"/>
<circle cx="324.8" cy="114.0" r="0.58" fill="#4db553"/>
<circle cx="336.2" cy="121.2" r="0.58" fill="#4db553"/>
<circle cx="323.9" cy="117.1" r="0.58" fill="#4db553"/>
<circle cx="324.5" cy="107.3" r="0.58" fill="#4db553"/>
<circle cx="325.7" cy="117.8" r="0.58" fill="#4db553"/>
<circle cx="334.3" cy="123.1" r="0.58" fill="#4db553"/>
<circle cx="332.0" cy="128.4" r="0.58" fill="#4db553"/>
<circle cx="329.5" cy="128.8" r="0.58" fill="#4db553"/>
<circle cx="327.5" cy="120.4" r="0.58" fill="#4db553"/>
<circle cx="330.4" cy="131.7" r="0.58" fill="#4db553"/>
<circle cx="335.1" cy="116.4" r="0.58" fill="#4db553"/>
<circle cx="336.5" cy="120.0" r="0.58" fill="#4db553"/>
<circle cx="329.1" cy="128.4" r="0.58" fill="#4db553"/>
<circle cx="328.4" cy="124.7" r="0.58" fill="#4db553"/>
<circle cx="331.4" cy="129.2" r="0.58" fill="#4db553"/>
<circle cx="339.3" cy="115.0" r="0.58" fill="#4db553"/>
<circle cx="336.5" cy="104.3" r="0.58" fill="#4db553"/>
<circle cx="330.5" cy="131.8" r="0.58" fill="#4db553"/>
<circle cx="336.4" cy="117.9" r="0.58" fill="#4db553"/>
<circle cx="327.1" cy="118.1" r="0.58" fill="#4db553"/>
<circle cx="340.9" cy="112.6" r="0.58" fill="#4db553"/>
<circle cx="342.1" cy="98.1" r="0.58" fill="#4db553"/>
<circle cx="329.1" cy="128.0" r="0.58" fill="#4db553"/>
<circle cx="330.4" cy="131.7" r="0.58" fill="#4db553"/>
<circle cx="323.0" cy="101.0" r="0.58" fill="#4db553"/>
<circle cx="332.9" cy="121.8" r="0.58" fill="#4db553"/>
<circle cx="326.8" cy="114.6" r="0.58" fill="#4db553"/>
<circle cx="325.2" cy="103.3" r="0.58" fill="#4db553"/>
<circle cx="341.2" cy="111.9" r="0.58" fill="#4db553"/>
<circle cx="333.0" cy="124.0" r="0.58" fill="#4db553"/>
<circle cx="337.6" cy="106.6" r="0.58" fill="#4db553"/>
<circle cx="336.4" cy="106.7" r="0.58" fill="#4db553"/>
<circle cx="333.5" cy="121.9" r="0.58" fill="#4db553"/>
<circle cx="330.5" cy="132.0" r="0.58" fill="#4db553"/>
<circle cx="326.9" cy="117.7" r="0.58" fill="#4db553"/>
<circle cx="339.1" cy="117.2" r="0.58" fill="#4db553"/>
<circle cx="317.4" cy="98.0" r="0.58" fill="#4db553"/>
<circle cx="341.7" cy="111.8" r="0.58" fill="#4db553"/>
<circle cx="324.2" cy="100.9" r="0.58" fill="#4db553"/>
<circle cx="327.0" cy="122.7" r="0.58" fill="#4db553"/>
<circle cx="338.0" cy="108.7" r="0.58" fill="#4db553"/>
<circle cx="331.0" cy="131.7" r="0.58" fill="#4db553"/>
<circle cx="331.3" cy="128.5" r="0.58" fill="#4db553"/>
<circle cx="337.1" cy="112.8" r="0.58" fill="#4db553"/>
<circle cx="370.2" cy="112.8" r="0.58" fill="#4db553"/>
<circle cx="360.3" cy="121.6" r="0.58" fill="#4db553"/>
<circle cx="309.8" cy="120.9" r="0.58" fill="#4db553"/>
<circle cx="345.6" cy="102.8" r="0.58" fill="#4db553"/>
<circle cx="348.3" cy="127.2" r="0.58" fill="#4db553"/>
<circle cx="302.9" cy="119.2" r="0.58" fill="#4db553"/>
<circle cx="360.1" cy="123.3" r="0.58" fill="#4db553"/>
<circle cx="289.3" cy="112.5" r="0.58" fill="#4db553"/>
<circle cx="369.2" cy="131.0" r="0.58" fill="#4db553"/>
<circle cx="295.3" cy="128.9" r="0.58" fill="#4db553"/>
<circle cx="347.0" cy="110.9" r="0.58" fill="#4db553"/>
<circle cx="292.6" cy="105.6" r="0.58" fill="#4db553"/>
<circle cx="346.3" cy="100.7" r="0.58" fill="#4db553"/>
<circle cx="364.7" cy="99.9" r="0.58" fill="#4db553"/>
<circle cx="351.1" cy="115.1" r="0.58" fill="#4db553"/>
<circle cx="355.5" cy="102.9" r="0.58" fill="#4db553"/>
<circle cx="362.8" cy="130.1" r="0.58" fill="#4db553"/>
<circle cx="358.2" cy="102.5" r="0.58" fill="#4db553"/>
<circle cx="289.2" cy="102.2" r="0.58" fill="#4db553"/>
<circle cx="316.5" cy="127.1" r="0.58" fill="#4db553"/>
<circle cx="355.5" cy="102.9" r="0.58" fill="#4db553"/>
<circle cx="370.0" cy="118.8" r="0.58" fill="#4db553"/>
<circle cx="308.4" cy="112.5" r="0.58" fill="#4db553"/>
<circle cx="360.1" cy="121.8" r="0.58" fill="#4db553"/>
<circle cx="346.3" cy="110.0" r="0.58" fill="#4db553"/>
<circle cx="300.6" cy="125.7" r="0.58" fill="#4db553"/>
<circle cx="371.6" cy="121.9" r="0.58" fill="#4db553"/>
<circle cx="356.1" cy="120.2" r="0.58" fill="#4db553"/>
<circle cx="293.6" cy="103.0" r="0.58" fill="#4db553"/>
<circle cx="309.1" cy="121.4" r="0.58" fill="#4db553"/>
<circle cx="295.8" cy="123.5" r="0.58" fill="#4db553"/>
<circle cx="297.3" cy="111.1" r="0.58" fill="#4db553"/>
<circle cx="356.7" cy="124.8" r="0.58" fill="#4db553"/>
<circle cx="368.1" cy="102.2" r="0.58" fill="#4db553"/>
<circle cx="310.0" cy="110.4" r="0.58" fill="#4db553"/>
<circle cx="300.1" cy="130.2" r="0.58" fill="#4db553"/>
<circle cx="353.7" cy="129.4" r="0.58" fill="#4db553"/>
<circle cx="309.2" cy="127.5" r="0.58" fill="#4db553"/>
<circle cx="299.0" cy="110.6" r="0.58" fill="#4db553"/>
<circle cx="307.8" cy="101.2" r="0.58" fill="#4db553"/>
<circle cx="298.8" cy="103.1" r="0.58" fill="#4db553"/>
<circle cx="366.4" cy="118.5" r="0.58" fill="#4db553"/>
<circle cx="366.3" cy="126.3" r="0.58" fill="#4db553"/>
<circle cx="353.5" cy="129.2" r="0.58" fill="#4db553"/>
<circle cx="355.3" cy="115.6" r="0.58" fill="#4db553"/>
<circle cx="324.7" cy="60.6" r="0.58" fill="#3a78b8"/>
<circle cx="314.4" cy="83.6" r="0.58" fill="#3a78b8"/>
<circle cx="321.4" cy="83.7" r="0.58" fill="#3a78b8"/>
<circle cx="318.8" cy="67.3" r="0.58" fill="#3a78b8"/>
<circle cx="323.5" cy="90.2" r="0.58" fill="#3a78b8"/>
<circle cx="314.3" cy="88.0" r="0.58" fill="#3a78b8"/>
<circle cx="320.0" cy="62.0" r="0.58" fill="#3a78b8"/>
<circle cx="318.1" cy="81.7" r="0.58" fill="#3a78b8"/>
<circle cx="318.0" cy="68.6" r="0.58" fill="#3a78b8"/>
<circle cx="323.8" cy="90.3" r="0.58" fill="#3a78b8"/>
<circle cx="325.1" cy="72.9" r="0.58" fill="#3a78b8"/>
<circle cx="316.7" cy="71.1" r="0.58" fill="#3a78b8"/>
<circle cx="323.2" cy="77.0" r="0.58" fill="#3a78b8"/>
<circle cx="314.5" cy="69.9" r="0.58" fill="#3a78b8"/>
<circle cx="321.4" cy="74.0" r="0.58" fill="#3a78b8"/>
<circle cx="322.0" cy="73.6" r="0.58" fill="#3a78b8"/>
<circle cx="318.2" cy="74.8" r="0.58" fill="#3a78b8"/>
<circle cx="317.2" cy="86.2" r="0.58" fill="#3a78b8"/>
<circle cx="320.4" cy="92.6" r="0.58" fill="#3a78b8"/>
<circle cx="323.2" cy="56.3" r="0.58" fill="#3a78b8"/>
<circle cx="315.8" cy="70.7" r="0.58" fill="#3a78b8"/>
<circle cx="318.6" cy="56.2" r="0.58" fill="#3a78b8"/>
<circle cx="324.6" cy="70.9" r="0.58" fill="#3a78b8"/>
<circle cx="315.5" cy="74.2" r="0.58" fill="#3a78b8"/>
<circle cx="316.4" cy="64.6" r="0.58" fill="#3a78b8"/>
<circle cx="317.0" cy="71.6" r="0.58" fill="#3a78b8"/>
<circle cx="322.4" cy="59.4" r="0.58" fill="#3a78b8"/>
<circle cx="323.9" cy="61.3" r="0.58" fill="#3a78b8"/>
<circle cx="322.8" cy="74.8" r="0.58" fill="#3a78b8"/>
<circle cx="318.0" cy="67.4" r="0.58" fill="#3a78b8"/>
<circle cx="319.1" cy="61.2" r="0.58" fill="#3a78b8"/>
<circle cx="316.5" cy="59.0" r="0.58" fill="#3a78b8"/>
<circle cx="312.4" cy="93.4" r="0.58" fill="#3a78b8"/>
<circle cx="306.5" cy="85.9" r="0.58" fill="#3a78b8"/>
<circle cx="304.9" cy="84.9" r="0.58" fill="#3a78b8"/>
<circle cx="304.8" cy="84.2" r="0.58" fill="#3a78b8"/>
<circle cx="312.5" cy="92.3" r="0.58" fill="#3a78b8"/>
<circle cx="307.6" cy="89.4" r="0.58" fill="#3a78b8"/>
<circle cx="347.6" cy="80.6" r="0.58" fill="#d42a3e"/>
<circle cx="344.7" cy="80.6" r="0.58" fill="#d42a3e"/>
<circle cx="342.5" cy="59.9" r="0.58" fill="#d42a3e"/>
<circle cx="344.2" cy="95.8" r="0.58" fill="#d42a3e"/>
<circle cx="340.3" cy="86.3" r="0.58" fill="#d42a3e"/>
<circle cx="341.8" cy="82.8" r="0.58" fill="#d42a3e"/>
<circle cx="347.1" cy="84.8" r="0.58" fill="#d42a3e"/>
<circle cx="348.4" cy="75.4" r="0.58" fill="#d42a3e"/>
<circle cx="344.9" cy="62.9" r="0.58" fill="#d42a3e"/>
<circle cx="347.3" cy="56.8" r="0.58" fill="#d42a3e"/>
<circle cx="344.0" cy="55.9" r="0.58" fill="#d42a3e"/>
<circle cx="337.5" cy="83.9" r="0.58" fill="#d42a3e"/>
<circle cx="346.6" cy="96.5" r="0.58" fill="#d42a3e"/>
<circle cx="339.9" cy="86.0" r="0.58" fill="#d42a3e"/>
<circle cx="348.2" cy="70.6" r="0.58" fill="#d42a3e"/>
<circle cx="336.1" cy="87.6" r="0.58" fill="#d42a3e"/>
<circle cx="347.6" cy="63.3" r="0.58" fill="#d42a3e"/>
<circle cx="341.3" cy="65.3" r="0.58" fill="#d42a3e"/>
<circle cx="344.6" cy="63.6" r="0.58" fill="#d42a3e"/>
<circle cx="339.3" cy="78.1" r="0.58" fill="#d42a3e"/>
<circle cx="346.9" cy="56.7" r="0.58" fill="#d42a3e"/>
<circle cx="342.8" cy="62.3" r="0.58" fill="#d42a3e"/>
<circle cx="343.6" cy="57.7" r="0.58" fill="#d42a3e"/>
<circle cx="342.5" cy="83.8" r="0.58" fill="#d42a3e"/>
<circle cx="345.7" cy="81.7" r="0.58" fill="#d42a3e"/>
<circle cx="342.3" cy="76.8" r="0.58" fill="#d42a3e"/>
<circle cx="344.7" cy="79.0" r="0.58" fill="#d42a3e"/>
<circle cx="343.6" cy="68.3" r="0.58" fill="#d42a3e"/>
<circle cx="347.4" cy="82.3" r="0.58" fill="#d42a3e"/>
<circle cx="341.3" cy="71.7" r="0.58" fill="#d42a3e"/>
<circle cx="340.0" cy="69.9" r="0.58" fill="#d42a3e"/>
<circle cx="343.0" cy="90.9" r="0.58" fill="#d42a3e"/>
<circle cx="345.8" cy="72.1" r="0.58" fill="#d42a3e"/>
<circle cx="341.3" cy="65.6" r="0.58" fill="#d42a3e"/>
<circle cx="343.0" cy="58.5" r="0.58" fill="#d42a3e"/>
<circle cx="348.0" cy="92.0" r="0.58" fill="#d42a3e"/>
<circle cx="346.2" cy="55.2" r="0.58" fill="#d42a3e"/>
<circle cx="336.7" cy="96.6" r="0.58" fill="#d42a3e"/>
<circle cx="345.1" cy="73.6" r="0.58" fill="#d42a3e"/>
<circle cx="348.5" cy="73.4" r="0.58" fill="#d42a3e"/>
<circle cx="347.0" cy="74.1" r="0.58" fill="#d42a3e"/>
<circle cx="343.7" cy="55.8" r="0.58" fill="#d42a3e"/>
<circle cx="347.9" cy="55.2" r="0.58" fill="#d42a3e"/>
<circle cx="344.6" cy="55.2" r="0.58" fill="#d42a3e"/>
<circle cx="344.3" cy="93.6" r="0.58" fill="#d42a3e"/>
<circle cx="337.5" cy="96.0" r="0.58" fill="#d42a3e"/>
<circle cx="344.4" cy="55.4" r="0.58" fill="#d42a3e"/>
<circle cx="345.5" cy="94.6" r="0.58" fill="#d42a3e"/>
<circle cx="344.7" cy="56.0" r="0.58" fill="#d42a3e"/>
<circle cx="337.2" cy="82.8" r="0.58" fill="#d42a3e"/>
<circle cx="341.0" cy="77.3" r="0.58" fill="#d42a3e"/>
<circle cx="341.6" cy="82.6" r="0.58" fill="#d42a3e"/>
<circle cx="347.4" cy="54.3" r="0.58" fill="#d42a3e"/>
<circle cx="341.4" cy="85.2" r="0.58" fill="#d42a3e"/>
<circle cx="342.6" cy="73.6" r="0.58" fill="#d42a3e"/>
<circle cx="345.3" cy="90.2" r="0.58" fill="#d42a3e"/>
<circle cx="347.4" cy="59.0" r="0.58" fill="#d42a3e"/>
<circle cx="346.5" cy="58.3" r="0.58" fill="#d42a3e"/>
<circle cx="342.2" cy="86.5" r="0.58" fill="#d42a3e"/>
<circle cx="347.1" cy="54.5" r="0.58" fill="#d42a3e"/>
<circle cx="359.1" cy="69.6" r="0.58" fill="#d42a3e"/>
<circle cx="360.6" cy="78.5" r="0.58" fill="#d42a3e"/>
<circle cx="349.1" cy="79.7" r="0.58" fill="#d42a3e"/>
<circle cx="348.3" cy="77.1" r="0.58" fill="#d42a3e"/>
<circle cx="354.1" cy="81.4" r="0.58" fill="#d42a3e"/>
<circle cx="358.4" cy="84.6" r="0.58" fill="#d42a3e"/>
<circle cx="358.1" cy="84.2" r="0.58" fill="#d42a3e"/>
<circle cx="356.7" cy="83.7" r="0.58" fill="#d42a3e"/>
<circle cx="357.8" cy="83.8" r="0.58" fill="#d42a3e"/>
<circle cx="353.1" cy="81.7" r="0.58" fill="#d42a3e"/>
<circle cx="353.6" cy="74.1" r="0.58" fill="#d42a3e"/>
<circle cx="360.0" cy="72.9" r="0.58" fill="#d42a3e"/>
<circle cx="353.3" cy="94.9" r="0.58" fill="#d42a3e"/>
<circle cx="362.9" cy="89.4" r="0.58" fill="#d42a3e"/>
<circle cx="358.0" cy="74.1" r="0.58" fill="#d42a3e"/>
<circle cx="348.9" cy="74.9" r="0.58" fill="#d42a3e"/>
<circle cx="358.1" cy="71.4" r="0.58" fill="#d42a3e"/>
<circle cx="359.6" cy="89.5" r="0.58" fill="#d42a3e"/>
<circle cx="319.6" cy="26.0" r="0.7" fill="#3a78b8"/>
<circle cx="360.4" cy="57.4" r="1.15" fill="#c8102e"/>
<text x="363.7" y="59.6" font-size="6.2" text-anchor="start" font-weight="normal" fill="#222" font-style="italic"  textLength="23.95" lengthAdjust="spacingAndGlyphs">HLA-DRA</text>
<circle cx="362.3" cy="65.4" r="1.15" fill="#c8102e"/>
<text x="365.2" y="67.6" font-size="6.2" text-anchor="start" font-weight="normal" fill="#222" font-style="italic"  textLength="11.12" lengthAdjust="spacingAndGlyphs">TOX</text>
<circle cx="355" cy="75.4" r="1.15" fill="#c8102e"/>
<text x="358.3" y="77.6" font-size="6.2" text-anchor="start" font-weight="normal" fill="#222" font-style="italic"  textLength="13.34" lengthAdjust="spacingAndGlyphs">ICOS</text>
<circle cx="371.7" cy="78.6" r="1.15" fill="#c8102e"/>
<text x="374.4" y="80.8" font-size="6.2" text-anchor="start" font-weight="normal" fill="#222" font-style="italic"  textLength="15.77" lengthAdjust="spacingAndGlyphs">MKI67</text>
<circle cx="375.8" cy="86.2" r="1.15" fill="#c8102e"/>
<text x="378.5" y="88.4" font-size="6.2" text-anchor="start" font-weight="normal" fill="#222" font-style="italic"  textLength="15.76" lengthAdjust="spacingAndGlyphs">GZMK</text>
<circle cx="382.5" cy="90.7" r="1.15" fill="#c8102e"/>
<text x="385.7" y="92.9" font-size="6.2" text-anchor="start" font-weight="normal" fill="#222" font-style="italic"  textLength="13.95" lengthAdjust="spacingAndGlyphs">LAG3</text>
<circle cx="367.7" cy="93.7" r="1.15" fill="#c8102e"/>
<text x="370.4" y="95.9" font-size="6.2" text-anchor="start" font-weight="normal" fill="#222" font-style="italic"  textLength="13.65" lengthAdjust="spacingAndGlyphs">BCL6</text>
<circle cx="309.2" cy="89.3" r="1.15" fill="#1f4e8c"/>
<text x="307.3" y="89.5" font-size="6.2" text-anchor="end" font-weight="normal" fill="#222" font-style="italic"  textLength="16.90" lengthAdjust="spacingAndGlyphs">STAT4</text>
<circle cx="307.4" cy="91.8" r="1.15" fill="#1f4e8c"/>
<text x="305.5" y="95.9" font-size="6.2" text-anchor="end" font-weight="normal" fill="#222" font-style="italic"  textLength="16.80" lengthAdjust="spacingAndGlyphs">IGF1R</text>
<circle cx="390.1" cy="20.2" r="2.65" fill="#c8102e"/>
<text x="394.8" y="22.8" font-size="7.5" text-anchor="start" font-weight="normal" fill="#222"   textLength="41.19" lengthAdjust="spacingAndGlyphs">Up-regulated</text>
<circle cx="390.1" cy="31.8" r="2.65" fill="#1f4e8c"/>
<text x="394.8" y="34.4" font-size="7.5" text-anchor="start" font-weight="normal" fill="#222"   textLength="50.30" lengthAdjust="spacingAndGlyphs">Down-regulated</text>
<circle cx="390.1" cy="42.3" r="2.65" fill="#3bb54a"/>
<text x="394.8" y="44.9" font-size="7.5" text-anchor="start" font-weight="normal" fill="#222"   textLength="46.73" lengthAdjust="spacingAndGlyphs">Non significant</text>
<text x="7.6" y="171" font-size="11.5" text-anchor="start" font-weight="bold" fill="#000"  >C</text>
<rect x="66.10" y="165.5" width="9.34" height="6.1" fill="#3fc1c9" stroke="#9a9a9a" stroke-width="0.45"/>
<rect x="75.44" y="165.5" width="9.34" height="6.1" fill="#3fc1c9" stroke="#9a9a9a" stroke-width="0.45"/>
<rect x="84.78" y="165.5" width="9.34" height="6.1" fill="#3fc1c9" stroke="#9a9a9a" stroke-width="0.45"/>
<rect x="94.11" y="165.5" width="9.34" height="6.1" fill="#3fc1c9" stroke="#9a9a9a" stroke-width="0.45"/>
<rect x="103.45" y="165.5" width="9.34" height="6.1" fill="#f4918a" stroke="#9a9a9a" stroke-width="0.45"/>
<rect x="112.79" y="165.5" width="9.34" height="6.1" fill="#f4918a" stroke="#9a9a9a" stroke-width="0.45"/>
<rect x="122.12" y="165.5" width="9.34" height="6.1" fill="#f4918a" stroke="#9a9a9a" stroke-width="0.45"/>
<rect x="131.46" y="165.5" width="9.34" height="6.1" fill="#f4918a" stroke="#9a9a9a" stroke-width="0.45"/>
<text x="143.8" y="171.8" font-size="7.3" text-anchor="start" font-weight="bold" fill="#111"   textLength="22.20" lengthAdjust="spacingAndGlyphs">Sample</text>
<rect x="66.10" y="174.30" width="9.34" height="10.20" fill="#E0F3F8" stroke="#8c8c8c" stroke-width="0.45"/>
<rect x="75.44" y="174.30" width="9.34" height="10.20" fill="#ABD9E9" stroke="#8c8c8c" stroke-width="0.45"/>
<rect x="84.78" y="174.30" width="9.34" height="10.20" fill="#74ADD1" stroke="#8c8c8c" stroke-width="0.45"/>
<rect x="94.11" y="174.30" width="9.34" height="10.20" fill="#91BFDB" stroke="#8c8c8c" stroke-width="0.45"/>
<rect x="103.45" y="174.30" width="9.34" height="10.20" fill="#E8553A" stroke="#8c8c8c" stroke-width="0.45"/>
<rect x="112.79" y="174.30" width="9.34" height="10.20" fill="#F06040" stroke="#8c8c8c" stroke-width="0.45"/>
<rect x="122.12" y="174.30" width="9.34" height="10.20" fill="#FDAE61" stroke="#8c8c8c" stroke-width="0.45"/>
<rect x="131.46" y="174.30" width="9.34" height="10.20" fill="#F2F5DC" stroke="#8c8c8c" stroke-width="0.45"/>
<text x="143.9" y="181.7" font-size="6.9" text-anchor="start" font-weight="normal" fill="#2a2a2a"   textLength="14.85" lengthAdjust="spacingAndGlyphs">ICOS</text>
<rect x="66.10" y="184.50" width="9.34" height="10.20" fill="#C5E3EF" stroke="#8c8c8c" stroke-width="0.45"/>
<rect x="75.44" y="184.50" width="9.34" height="10.20" fill="#4575B4" stroke="#8c8c8c" stroke-width="0.45"/>
<rect x="84.78" y="184.50" width="9.34" height="10.20" fill="#C5E3EF" stroke="#8c8c8c" stroke-width="0.45"/>
<rect x="94.11" y="184.50" width="9.34" height="10.20" fill="#C8E6F0" stroke="#8c8c8c" stroke-width="0.45"/>
<rect x="103.45" y="184.50" width="9.34" height="10.20" fill="#F47D4A" stroke="#8c8c8c" stroke-width="0.45"/>
<rect x="112.79" y="184.50" width="9.34" height="10.20" fill="#F58F55" stroke="#8c8c8c" stroke-width="0.45"/>
<rect x="122.12" y="184.50" width="9.34" height="10.20" fill="#EE6340" stroke="#8c8c8c" stroke-width="0.45"/>
<rect x="131.46" y="184.50" width="9.34" height="10.20" fill="#FEE6A0" stroke="#8c8c8c" stroke-width="0.45"/>
<text x="143.9" y="191.89999999999998" font-size="6.9" text-anchor="start" font-weight="normal" fill="#2a2a2a"   textLength="26.65" lengthAdjust="spacingAndGlyphs">HLA-DRA</text>
<rect x="66.10" y="194.70" width="9.34" height="10.20" fill="#FBF6C8" stroke="#8c8c8c" stroke-width="0.45"/>
<rect x="75.44" y="194.70" width="9.34" height="10.20" fill="#4575B4" stroke="#8c8c8c" stroke-width="0.45"/>
<rect x="84.78" y="194.70" width="9.34" height="10.20" fill="#91BFDB" stroke="#8c8c8c" stroke-width="0.45"/>
<rect x="94.11" y="194.70" width="9.34" height="10.20" fill="#E0F3F8" stroke="#8c8c8c" stroke-width="0.45"/>
<rect x="103.45" y="194.70" width="9.34" height="10.20" fill="#EE6340" stroke="#8c8c8c" stroke-width="0.45"/>
<rect x="112.79" y="194.70" width="9.34" height="10.20" fill="#FDCE80" stroke="#8c8c8c" stroke-width="0.45"/>
<rect x="122.12" y="194.70" width="9.34" height="10.20" fill="#EE6340" stroke="#8c8c8c" stroke-width="0.45"/>
<rect x="131.46" y="194.70" width="9.34" height="10.20" fill="#FEDB8C" stroke="#8c8c8c" stroke-width="0.45"/>
<text x="143.9" y="202.09999999999997" font-size="6.9" text-anchor="start" font-weight="normal" fill="#2a2a2a"   textLength="30.03" lengthAdjust="spacingAndGlyphs">HLA-DRB1</text>
<rect x="66.10" y="204.90" width="9.34" height="10.20" fill="#91BFDB" stroke="#8c8c8c" stroke-width="0.45"/>
<rect x="75.44" y="204.90" width="9.34" height="10.20" fill="#ABD9E9" stroke="#8c8c8c" stroke-width="0.45"/>
<rect x="84.78" y="204.90" width="9.34" height="10.20" fill="#4575B4" stroke="#8c8c8c" stroke-width="0.45"/>
<rect x="94.11" y="204.90" width="9.34" height="10.20" fill="#FEE090" stroke="#8c8c8c" stroke-width="0.45"/>
<rect x="103.45" y="204.90" width="9.34" height="10.20" fill="#F9A05A" stroke="#8c8c8c" stroke-width="0.45"/>
<rect x="112.79" y="204.90" width="9.34" height="10.20" fill="#FAAA60" stroke="#8c8c8c" stroke-width="0.45"/>
<rect x="122.12" y="204.90" width="9.34" height="10.20" fill="#DD3A2C" stroke="#8c8c8c" stroke-width="0.45"/>
<rect x="131.46" y="204.90" width="9.34" height="10.20" fill="#F6F6CC" stroke="#8c8c8c" stroke-width="0.45"/>
<text x="143.9" y="212.29999999999995" font-size="6.9" text-anchor="start" font-weight="normal" fill="#2a2a2a"   textLength="27.32" lengthAdjust="spacingAndGlyphs">TNFRSF4</text>
<rect x="66.10" y="215.10" width="9.34" height="10.20" fill="#3A5FAA" stroke="#8c8c8c" stroke-width="0.45"/>
<rect x="75.44" y="215.10" width="9.34" height="10.20" fill="#9CCBE0" stroke="#8c8c8c" stroke-width="0.45"/>
<rect x="84.78" y="215.10" width="9.34" height="10.20" fill="#C5E3EF" stroke="#8c8c8c" stroke-width="0.45"/>
<rect x="94.11" y="215.10" width="9.34" height="10.20" fill="#F0F4D8" stroke="#8c8c8c" stroke-width="0.45"/>
<rect x="103.45" y="215.10" width="9.34" height="10.20" fill="#EF6A44" stroke="#8c8c8c" stroke-width="0.45"/>
<rect x="112.79" y="215.10" width="9.34" height="10.20" fill="#F47D4A" stroke="#8c8c8c" stroke-width="0.45"/>
<rect x="122.12" y="215.10" width="9.34" height="10.20" fill="#F89A56" stroke="#8c8c8c" stroke-width="0.45"/>
<rect x="131.46" y="215.10" width="9.34" height="10.20" fill="#FEDC8E" stroke="#8c8c8c" stroke-width="0.45"/>
<text x="143.9" y="222.49999999999994" font-size="6.9" text-anchor="start" font-weight="normal" fill="#2a2a2a"   textLength="30.70" lengthAdjust="spacingAndGlyphs">TNFRSF18</text>
<rect x="66.10" y="225.30" width="9.34" height="10.20" fill="#DFF0F4" stroke="#8c8c8c" stroke-width="0.45"/>
<rect x="75.44" y="225.30" width="9.34" height="10.20" fill="#E8F2E0" stroke="#8c8c8c" stroke-width="0.45"/>
<rect x="84.78" y="225.30" width="9.34" height="10.20" fill="#6A9FCC" stroke="#8c8c8c" stroke-width="0.45"/>
<rect x="94.11" y="225.30" width="9.34" height="10.20" fill="#74ADD1" stroke="#8c8c8c" stroke-width="0.45"/>
<rect x="103.45" y="225.30" width="9.34" height="10.20" fill="#F06040" stroke="#8c8c8c" stroke-width="0.45"/>
<rect x="112.79" y="225.30" width="9.34" height="10.20" fill="#FEE090" stroke="#8c8c8c" stroke-width="0.45"/>
<rect x="122.12" y="225.30" width="9.34" height="10.20" fill="#EE6340" stroke="#8c8c8c" stroke-width="0.45"/>
<rect x="131.46" y="225.30" width="9.34" height="10.20" fill="#FDCF82" stroke="#8c8c8c" stroke-width="0.45"/>
<text x="143.9" y="232.69999999999993" font-size="6.9" text-anchor="start" font-weight="normal" fill="#2a2a2a"   textLength="23.96" lengthAdjust="spacingAndGlyphs">CD45RA</text>
<rect x="66.10" y="235.50" width="9.34" height="10.20" fill="#F8F4C8" stroke="#8c8c8c" stroke-width="0.45"/>
<rect x="75.44" y="235.50" width="9.34" height="10.20" fill="#E8F2E0" stroke="#8c8c8c" stroke-width="0.45"/>
<rect x="84.78" y="235.50" width="9.34" height="10.20" fill="#74ADD1" stroke="#8c8c8c" stroke-width="0.45"/>
<rect x="94.11" y="235.50" width="9.34" height="10.20" fill="#6A9FCC" stroke="#8c8c8c" stroke-width="0.45"/>
<rect x="103.45" y="235.50" width="9.34" height="10.20" fill="#EB5A3C" stroke="#8c8c8c" stroke-width="0.45"/>
<rect x="112.79" y="235.50" width="9.34" height="10.20" fill="#FDBE72" stroke="#8c8c8c" stroke-width="0.45"/>
<rect x="122.12" y="235.50" width="9.34" height="10.20" fill="#F06C44" stroke="#8c8c8c" stroke-width="0.45"/>
<rect x="131.46" y="235.50" width="9.34" height="10.20" fill="#E8F2E0" stroke="#8c8c8c" stroke-width="0.45"/>
<text x="143.9" y="242.89999999999992" font-size="6.9" text-anchor="start" font-weight="normal" fill="#2a2a2a"   textLength="21.93" lengthAdjust="spacingAndGlyphs">NFKBIA</text>
<rect x="66.10" y="245.70" width="9.34" height="10.20" fill="#C5E3EF" stroke="#8c8c8c" stroke-width="0.45"/>
<rect x="75.44" y="245.70" width="9.34" height="10.20" fill="#9CCBE0" stroke="#8c8c8c" stroke-width="0.45"/>
<rect x="84.78" y="245.70" width="9.34" height="10.20" fill="#E0F3F8" stroke="#8c8c8c" stroke-width="0.45"/>
<rect x="94.11" y="245.70" width="9.34" height="10.20" fill="#5080BC" stroke="#8c8c8c" stroke-width="0.45"/>
<rect x="103.45" y="245.70" width="9.34" height="10.20" fill="#FDC070" stroke="#8c8c8c" stroke-width="0.45"/>
<rect x="112.79" y="245.70" width="9.34" height="10.20" fill="#FEDC8E" stroke="#8c8c8c" stroke-width="0.45"/>
<rect x="122.12" y="245.70" width="9.34" height="10.20" fill="#E0432E" stroke="#8c8c8c" stroke-width="0.45"/>
<rect x="131.46" y="245.70" width="9.34" height="10.20" fill="#F58F55" stroke="#8c8c8c" stroke-width="0.45"/>
<text x="143.9" y="253.0999999999999" font-size="6.9" text-anchor="start" font-weight="normal" fill="#2a2a2a"   textLength="16.87" lengthAdjust="spacingAndGlyphs">NME1</text>
<rect x="66.10" y="255.90" width="9.34" height="10.20" fill="#FDB863" stroke="#8c8c8c" stroke-width="0.45"/>
<rect x="75.44" y="255.90" width="9.34" height="10.20" fill="#FDB863" stroke="#8c8c8c" stroke-width="0.45"/>
<rect x="84.78" y="255.90" width="9.34" height="10.20" fill="#FEE9A0" stroke="#8c8c8c" stroke-width="0.45"/>
<rect x="94.11" y="255.90" width="9.34" height="10.20" fill="#EB5A3C" stroke="#8c8c8c" stroke-width="0.45"/>
<rect x="103.45" y="255.90" width="9.34" height="10.20" fill="#E8F4E8" stroke="#8c8c8c" stroke-width="0.45"/>
<rect x="112.79" y="255.90" width="9.34" height="10.20" fill="#3F6DB0" stroke="#8c8c8c" stroke-width="0.45"/>
<rect x="122.12" y="255.90" width="9.34" height="10.20" fill="#74ADD1" stroke="#8c8c8c" stroke-width="0.45"/>
<rect x="131.46" y="255.90" width="9.34" height="10.20" fill="#FBF7C8" stroke="#8c8c8c" stroke-width="0.45"/>
<text x="143.9" y="263.29999999999995" font-size="6.9" text-anchor="start" font-weight="normal" fill="#2a2a2a"   textLength="20.25" lengthAdjust="spacingAndGlyphs">IL10RA</text>
<rect x="66.10" y="266.10" width="9.34" height="10.20" fill="#F89A56" stroke="#8c8c8c" stroke-width="0.45"/>
<rect x="75.44" y="266.10" width="9.34" height="10.20" fill="#FEE090" stroke="#8c8c8c" stroke-width="0.45"/>
<rect x="84.78" y="266.10" width="9.34" height="10.20" fill="#FDC070" stroke="#8c8c8c" stroke-width="0.45"/>
<rect x="94.11" y="266.10" width="9.34" height="10.20" fill="#EB5A3C" stroke="#8c8c8c" stroke-width="0.45"/>
<rect x="103.45" y="266.10" width="9.34" height="10.20" fill="#4A7CBA" stroke="#8c8c8c" stroke-width="0.45"/>
<rect x="112.79" y="266.10" width="9.34" height="10.20" fill="#E0F3F8" stroke="#8c8c8c" stroke-width="0.45"/>
<rect x="122.12" y="266.10" width="9.34" height="10.20" fill="#74ADD1" stroke="#8c8c8c" stroke-width="0.45"/>
<rect x="131.46" y="266.10" width="9.34" height="10.20" fill="#FBF7C8" stroke="#8c8c8c" stroke-width="0.45"/>
<text x="143.9" y="273.49999999999994" font-size="6.9" text-anchor="start" font-weight="normal" fill="#2a2a2a"   textLength="11.82" lengthAdjust="spacingAndGlyphs">IL24</text>
<rect x="66.10" y="276.30" width="9.34" height="10.20" fill="#FDCF82" stroke="#8c8c8c" stroke-width="0.45"/>
<rect x="75.44" y="276.30" width="9.34" height="10.20" fill="#FEE090" stroke="#8c8c8c" stroke-width="0.45"/>
<rect x="84.78" y="276.30" width="9.34" height="10.20" fill="#FDB863" stroke="#8c8c8c" stroke-width="0.45"/>
<rect x="94.11" y="276.30" width="9.34" height="10.20" fill="#E0432E" stroke="#8c8c8c" stroke-width="0.45"/>
<rect x="103.45" y="276.30" width="9.34" height="10.20" fill="#74ADD1" stroke="#8c8c8c" stroke-width="0.45"/>
<rect x="112.79" y="276.30" width="9.34" height="10.20" fill="#4575B4" stroke="#8c8c8c" stroke-width="0.45"/>
<rect x="122.12" y="276.30" width="9.34" height="10.20" fill="#EEF4DC" stroke="#8c8c8c" stroke-width="0.45"/>
<rect x="131.46" y="276.30" width="9.34" height="10.20" fill="#FBF7C8" stroke="#8c8c8c" stroke-width="0.45"/>
<text x="143.9" y="283.69999999999993" font-size="6.9" text-anchor="start" font-weight="normal" fill="#2a2a2a"   textLength="23.62" lengthAdjust="spacingAndGlyphs">CD40LG</text>
<rect x="66.10" y="286.50" width="9.34" height="10.20" fill="#F58F55" stroke="#8c8c8c" stroke-width="0.45"/>
<rect x="75.44" y="286.50" width="9.34" height="10.20" fill="#F58F55" stroke="#8c8c8c" stroke-width="0.45"/>
<rect x="84.78" y="286.50" width="9.34" height="10.20" fill="#F9A05A" stroke="#8c8c8c" stroke-width="0.45"/>
<rect x="94.11" y="286.50" width="9.34" height="10.20" fill="#F9A05A" stroke="#8c8c8c" stroke-width="0.45"/>
<rect x="103.45" y="286.50" width="9.34" height="10.20" fill="#D8EEF4" stroke="#8c8c8c" stroke-width="0.45"/>
<rect x="112.79" y="286.50" width="9.34" height="10.20" fill="#C5E3EF" stroke="#8c8c8c" stroke-width="0.45"/>
<rect x="122.12" y="286.50" width="9.34" height="10.20" fill="#91BFDB" stroke="#8c8c8c" stroke-width="0.45"/>
<rect x="131.46" y="286.50" width="9.34" height="10.20" fill="#4575B4" stroke="#8c8c8c" stroke-width="0.45"/>
<text x="143.9" y="293.8999999999999" font-size="6.9" text-anchor="start" font-weight="normal" fill="#2a2a2a"   textLength="15.52" lengthAdjust="spacingAndGlyphs">CD40</text>
<rect x="66.10" y="300.20" width="9.34" height="10.20" fill="#C5E3EF" stroke="#8c8c8c" stroke-width="0.45"/>
<rect x="75.44" y="300.20" width="9.34" height="10.20" fill="#74ADD1" stroke="#8c8c8c" stroke-width="0.45"/>
<rect x="84.78" y="300.20" width="9.34" height="10.20" fill="#ABD9E9" stroke="#8c8c8c" stroke-width="0.45"/>
<rect x="94.11" y="300.20" width="9.34" height="10.20" fill="#C5E3EF" stroke="#8c8c8c" stroke-width="0.45"/>
<rect x="103.45" y="300.20" width="9.34" height="10.20" fill="#FEE9A0" stroke="#8c8c8c" stroke-width="0.45"/>
<rect x="112.79" y="300.20" width="9.34" height="10.20" fill="#F89A56" stroke="#8c8c8c" stroke-width="0.45"/>
<rect x="122.12" y="300.20" width="9.34" height="10.20" fill="#B01C2A" stroke="#8c8c8c" stroke-width="0.45"/>
<rect x="131.46" y="300.20" width="9.34" height="10.20" fill="#FEE9A0" stroke="#8c8c8c" stroke-width="0.45"/>
<text x="143.9" y="307.5999999999999" font-size="6.9" text-anchor="start" font-weight="normal" fill="#2a2a2a"   textLength="15.53" lengthAdjust="spacingAndGlyphs">LAG3</text>
<rect x="66.10" y="310.40" width="9.34" height="10.20" fill="#91BFDB" stroke="#8c8c8c" stroke-width="0.45"/>
<rect x="75.44" y="310.40" width="9.34" height="10.20" fill="#ABD9E9" stroke="#8c8c8c" stroke-width="0.45"/>
<rect x="84.78" y="310.40" width="9.34" height="10.20" fill="#4575B4" stroke="#8c8c8c" stroke-width="0.45"/>
<rect x="94.11" y="310.40" width="9.34" height="10.20" fill="#E0F3F8" stroke="#8c8c8c" stroke-width="0.45"/>
<rect x="103.45" y="310.40" width="9.34" height="10.20" fill="#F47D4A" stroke="#8c8c8c" stroke-width="0.45"/>
<rect x="112.79" y="310.40" width="9.34" height="10.20" fill="#F89A56" stroke="#8c8c8c" stroke-width="0.45"/>
<rect x="122.12" y="310.40" width="9.34" height="10.20" fill="#F89A56" stroke="#8c8c8c" stroke-width="0.45"/>
<rect x="131.46" y="310.40" width="9.34" height="10.20" fill="#FDB863" stroke="#8c8c8c" stroke-width="0.45"/>
<text x="143.9" y="317.7999999999999" font-size="6.9" text-anchor="start" font-weight="normal" fill="#2a2a2a"   textLength="12.37" lengthAdjust="spacingAndGlyphs">TOX</text>
<rect x="66.10" y="320.60" width="9.34" height="10.20" fill="#EEF4DC" stroke="#8c8c8c" stroke-width="0.45"/>
<rect x="75.44" y="320.60" width="9.34" height="10.20" fill="#91BFDB" stroke="#8c8c8c" stroke-width="0.45"/>
<rect x="84.78" y="320.60" width="9.34" height="10.20" fill="#91BFDB" stroke="#8c8c8c" stroke-width="0.45"/>
<rect x="94.11" y="320.60" width="9.34" height="10.20" fill="#74ADD1" stroke="#8c8c8c" stroke-width="0.45"/>
<rect x="103.45" y="320.60" width="9.34" height="10.20" fill="#F06C44" stroke="#8c8c8c" stroke-width="0.45"/>
<rect x="112.79" y="320.60" width="9.34" height="10.20" fill="#F06C44" stroke="#8c8c8c" stroke-width="0.45"/>
<rect x="122.12" y="320.60" width="9.34" height="10.20" fill="#F89A56" stroke="#8c8c8c" stroke-width="0.45"/>
<rect x="131.46" y="320.60" width="9.34" height="10.20" fill="#FBF7C8" stroke="#8c8c8c" stroke-width="0.45"/>
<text x="143.9" y="327.9999999999999" font-size="6.9" text-anchor="start" font-weight="normal" fill="#2a2a2a"   textLength="18.90" lengthAdjust="spacingAndGlyphs">CTLA4</text>
<rect x="66.10" y="330.80" width="9.34" height="10.20" fill="#74ADD1" stroke="#8c8c8c" stroke-width="0.45"/>
<rect x="75.44" y="330.80" width="9.34" height="10.20" fill="#4A7CBA" stroke="#8c8c8c" stroke-width="0.45"/>
<rect x="84.78" y="330.80" width="9.34" height="10.20" fill="#FEE090" stroke="#8c8c8c" stroke-width="0.45"/>
<rect x="94.11" y="330.80" width="9.34" height="10.20" fill="#91BFDB" stroke="#8c8c8c" stroke-width="0.45"/>
<rect x="103.45" y="330.80" width="9.34" height="10.20" fill="#FDB863" stroke="#8c8c8c" stroke-width="0.45"/>
<rect x="112.79" y="330.80" width="9.34" height="10.20" fill="#FDB863" stroke="#8c8c8c" stroke-width="0.45"/>
<rect x="122.12" y="330.80" width="9.34" height="10.20" fill="#FEE9A0" stroke="#8c8c8c" stroke-width="0.45"/>
<rect x="131.46" y="330.80" width="9.34" height="10.20" fill="#F06C44" stroke="#8c8c8c" stroke-width="0.45"/>
<text x="143.9" y="338.1999999999999" font-size="6.9" text-anchor="start" font-weight="normal" fill="#2a2a2a"   textLength="27.32" lengthAdjust="spacingAndGlyphs">TNFRSF9</text>
<rect x="66.10" y="344.50" width="9.34" height="10.20" fill="#74ADD1" stroke="#8c8c8c" stroke-width="0.45"/>
<rect x="75.44" y="344.50" width="9.34" height="10.20" fill="#4575B4" stroke="#8c8c8c" stroke-width="0.45"/>
<rect x="84.78" y="344.50" width="9.34" height="10.20" fill="#FEE090" stroke="#8c8c8c" stroke-width="0.45"/>
<rect x="94.11" y="344.50" width="9.34" height="10.20" fill="#E0F3F8" stroke="#8c8c8c" stroke-width="0.45"/>
<rect x="103.45" y="344.50" width="9.34" height="10.20" fill="#F06C44" stroke="#8c8c8c" stroke-width="0.45"/>
<rect x="112.79" y="344.50" width="9.34" height="10.20" fill="#FBF0B0" stroke="#8c8c8c" stroke-width="0.45"/>
<rect x="122.12" y="344.50" width="9.34" height="10.20" fill="#FDC070" stroke="#8c8c8c" stroke-width="0.45"/>
<rect x="131.46" y="344.50" width="9.34" height="10.20" fill="#F58F55" stroke="#8c8c8c" stroke-width="0.45"/>
<text x="143.9" y="351.89999999999986" font-size="6.9" text-anchor="start" font-weight="normal" fill="#2a2a2a"   textLength="14.50" lengthAdjust="spacingAndGlyphs">IFNG</text>
<rect x="66.10" y="354.70" width="9.34" height="10.20" fill="#3F6DB0" stroke="#8c8c8c" stroke-width="0.45"/>
<rect x="75.44" y="354.70" width="9.34" height="10.20" fill="#74ADD1" stroke="#8c8c8c" stroke-width="0.45"/>
<rect x="84.78" y="354.70" width="9.34" height="10.20" fill="#F8F4C8" stroke="#8c8c8c" stroke-width="0.45"/>
<rect x="94.11" y="354.70" width="9.34" height="10.20" fill="#F8F4C8" stroke="#8c8c8c" stroke-width="0.45"/>
<rect x="103.45" y="354.70" width="9.34" height="10.20" fill="#F47D4A" stroke="#8c8c8c" stroke-width="0.45"/>
<rect x="112.79" y="354.70" width="9.34" height="10.20" fill="#F9A05A" stroke="#8c8c8c" stroke-width="0.45"/>
<rect x="122.12" y="354.70" width="9.34" height="10.20" fill="#FDB863" stroke="#8c8c8c" stroke-width="0.45"/>
<rect x="131.46" y="354.70" width="9.34" height="10.20" fill="#F9A05A" stroke="#8c8c8c" stroke-width="0.45"/>
<text x="143.9" y="362.09999999999985" font-size="6.9" text-anchor="start" font-weight="normal" fill="#2a2a2a"   textLength="17.54" lengthAdjust="spacingAndGlyphs">GZMK</text>
<rect x="66.10" y="364.90" width="9.34" height="10.20" fill="#74ADD1" stroke="#8c8c8c" stroke-width="0.45"/>
<rect x="75.44" y="364.90" width="9.34" height="10.20" fill="#5A8EC4" stroke="#8c8c8c" stroke-width="0.45"/>
<rect x="84.78" y="364.90" width="9.34" height="10.20" fill="#FEE090" stroke="#8c8c8c" stroke-width="0.45"/>
<rect x="94.11" y="364.90" width="9.34" height="10.20" fill="#C5E3EF" stroke="#8c8c8c" stroke-width="0.45"/>
<rect x="103.45" y="364.90" width="9.34" height="10.20" fill="#FEF0A8" stroke="#8c8c8c" stroke-width="0.45"/>
<rect x="112.79" y="364.90" width="9.34" height="10.20" fill="#FDB863" stroke="#8c8c8c" stroke-width="0.45"/>
<rect x="122.12" y="364.90" width="9.34" height="10.20" fill="#D73027" stroke="#8c8c8c" stroke-width="0.45"/>
<rect x="131.46" y="364.90" width="9.34" height="10.20" fill="#FEF0A8" stroke="#8c8c8c" stroke-width="0.45"/>
<text x="143.9" y="372.29999999999984" font-size="6.9" text-anchor="start" font-weight="normal" fill="#2a2a2a"   textLength="17.54" lengthAdjust="spacingAndGlyphs">GZMA</text>
<rect x="66.10" y="375.10" width="9.34" height="10.20" fill="#74ADD1" stroke="#8c8c8c" stroke-width="0.45"/>
<rect x="75.44" y="375.10" width="9.34" height="10.20" fill="#5A8EC4" stroke="#8c8c8c" stroke-width="0.45"/>
<rect x="84.78" y="375.10" width="9.34" height="10.20" fill="#F8F4C8" stroke="#8c8c8c" stroke-width="0.45"/>
<rect x="94.11" y="375.10" width="9.34" height="10.20" fill="#C5E3EF" stroke="#8c8c8c" stroke-width="0.45"/>
<rect x="103.45" y="375.10" width="9.34" height="10.20" fill="#FDCF82" stroke="#8c8c8c" stroke-width="0.45"/>
<rect x="112.79" y="375.10" width="9.34" height="10.20" fill="#F9A05A" stroke="#8c8c8c" stroke-width="0.45"/>
<rect x="122.12" y="375.10" width="9.34" height="10.20" fill="#D73027" stroke="#8c8c8c" stroke-width="0.45"/>
<rect x="131.46" y="375.10" width="9.34" height="10.20" fill="#FEE090" stroke="#8c8c8c" stroke-width="0.45"/>
<text x="143.9" y="382.49999999999983" font-size="6.9" text-anchor="start" font-weight="normal" fill="#2a2a2a"   textLength="17.55" lengthAdjust="spacingAndGlyphs">MKI67</text>
<rect x="66.10" y="385.30" width="9.34" height="10.20" fill="#91BFDB" stroke="#8c8c8c" stroke-width="0.45"/>
<rect x="75.44" y="385.30" width="9.34" height="10.20" fill="#C5E3EF" stroke="#8c8c8c" stroke-width="0.45"/>
<rect x="84.78" y="385.30" width="9.34" height="10.20" fill="#91BFDB" stroke="#8c8c8c" stroke-width="0.45"/>
<rect x="94.11" y="385.30" width="9.34" height="10.20" fill="#ABD9E9" stroke="#8c8c8c" stroke-width="0.45"/>
<rect x="103.45" y="385.30" width="9.34" height="10.20" fill="#F9A05A" stroke="#8c8c8c" stroke-width="0.45"/>
<rect x="112.79" y="385.30" width="9.34" height="10.20" fill="#F58F55" stroke="#8c8c8c" stroke-width="0.45"/>
<rect x="122.12" y="385.30" width="9.34" height="10.20" fill="#D73027" stroke="#8c8c8c" stroke-width="0.45"/>
<rect x="131.46" y="385.30" width="9.34" height="10.20" fill="#E8F2E0" stroke="#8c8c8c" stroke-width="0.45"/>
<text x="143.9" y="392.6999999999998" font-size="6.9" text-anchor="start" font-weight="normal" fill="#2a2a2a"   textLength="11.82" lengthAdjust="spacingAndGlyphs">IL10</text>
<rect x="66.10" y="395.50" width="9.34" height="10.20" fill="#FBF7C8" stroke="#8c8c8c" stroke-width="0.45"/>
<rect x="75.44" y="395.50" width="9.34" height="10.20" fill="#F0F4D8" stroke="#8c8c8c" stroke-width="0.45"/>
<rect x="84.78" y="395.50" width="9.34" height="10.20" fill="#3F6DB0" stroke="#8c8c8c" stroke-width="0.45"/>
<rect x="94.11" y="395.50" width="9.34" height="10.20" fill="#91BFDB" stroke="#8c8c8c" stroke-width="0.45"/>
<rect x="103.45" y="395.50" width="9.34" height="10.20" fill="#FDCF82" stroke="#8c8c8c" stroke-width="0.45"/>
<rect x="112.79" y="395.50" width="9.34" height="10.20" fill="#E8553A" stroke="#8c8c8c" stroke-width="0.45"/>
<rect x="122.12" y="395.50" width="9.34" height="10.20" fill="#FDC070" stroke="#8c8c8c" stroke-width="0.45"/>
<rect x="131.46" y="395.50" width="9.34" height="10.20" fill="#FDB863" stroke="#8c8c8c" stroke-width="0.45"/>
<text x="143.9" y="402.8999999999998" font-size="6.9" text-anchor="start" font-weight="normal" fill="#2a2a2a"   textLength="15.87" lengthAdjust="spacingAndGlyphs">IL12A</text>
<rect x="66.10" y="409.20" width="9.34" height="10.20" fill="#FBF0B0" stroke="#8c8c8c" stroke-width="0.45"/>
<rect x="75.44" y="409.20" width="9.34" height="10.20" fill="#91BFDB" stroke="#8c8c8c" stroke-width="0.45"/>
<rect x="84.78" y="409.20" width="9.34" height="10.20" fill="#F0F4D8" stroke="#8c8c8c" stroke-width="0.45"/>
<rect x="94.11" y="409.20" width="9.34" height="10.20" fill="#3F6DB0" stroke="#8c8c8c" stroke-width="0.45"/>
<rect x="103.45" y="409.20" width="9.34" height="10.20" fill="#FBF7C8" stroke="#8c8c8c" stroke-width="0.45"/>
<rect x="112.79" y="409.20" width="9.34" height="10.20" fill="#F89A56" stroke="#8c8c8c" stroke-width="0.45"/>
<rect x="122.12" y="409.20" width="9.34" height="10.20" fill="#FDCF82" stroke="#8c8c8c" stroke-width="0.45"/>
<rect x="131.46" y="409.20" width="9.34" height="10.20" fill="#E8553A" stroke="#8c8c8c" stroke-width="0.45"/>
<text x="143.9" y="416.5999999999998" font-size="6.9" text-anchor="start" font-weight="normal" fill="#2a2a2a"   textLength="15.52" lengthAdjust="spacingAndGlyphs">CCL7</text>
<rect x="66.10" y="419.40" width="9.34" height="10.20" fill="#F8F4C8" stroke="#8c8c8c" stroke-width="0.45"/>
<rect x="75.44" y="419.40" width="9.34" height="10.20" fill="#ABD9E9" stroke="#8c8c8c" stroke-width="0.45"/>
<rect x="84.78" y="419.40" width="9.34" height="10.20" fill="#D8EEF4" stroke="#8c8c8c" stroke-width="0.45"/>
<rect x="94.11" y="419.40" width="9.34" height="10.20" fill="#3F6DB0" stroke="#8c8c8c" stroke-width="0.45"/>
<rect x="103.45" y="419.40" width="9.34" height="10.20" fill="#FEE090" stroke="#8c8c8c" stroke-width="0.45"/>
<rect x="112.79" y="419.40" width="9.34" height="10.20" fill="#FDB863" stroke="#8c8c8c" stroke-width="0.45"/>
<rect x="122.12" y="419.40" width="9.34" height="10.20" fill="#F9A05A" stroke="#8c8c8c" stroke-width="0.45"/>
<rect x="131.46" y="419.40" width="9.34" height="10.20" fill="#F06C44" stroke="#8c8c8c" stroke-width="0.45"/>
<text x="143.9" y="426.7999999999998" font-size="6.9" text-anchor="start" font-weight="normal" fill="#2a2a2a"   textLength="15.52" lengthAdjust="spacingAndGlyphs">CCL2</text>
<rect x="66.10" y="429.60" width="9.34" height="10.20" fill="#E8553A" stroke="#8c8c8c" stroke-width="0.45"/>
<rect x="75.44" y="429.60" width="9.34" height="10.20" fill="#FEE090" stroke="#8c8c8c" stroke-width="0.45"/>
<rect x="84.78" y="429.60" width="9.34" height="10.20" fill="#F9A05A" stroke="#8c8c8c" stroke-width="0.45"/>
<rect x="94.11" y="429.60" width="9.34" height="10.20" fill="#F58F55" stroke="#8c8c8c" stroke-width="0.45"/>
<rect x="103.45" y="429.60" width="9.34" height="10.20" fill="#5A8EC4" stroke="#8c8c8c" stroke-width="0.45"/>
<rect x="112.79" y="429.60" width="9.34" height="10.20" fill="#C5E3EF" stroke="#8c8c8c" stroke-width="0.45"/>
<rect x="122.12" y="429.60" width="9.34" height="10.20" fill="#E0F3F8" stroke="#8c8c8c" stroke-width="0.45"/>
<rect x="131.46" y="429.60" width="9.34" height="10.20" fill="#91BFDB" stroke="#8c8c8c" stroke-width="0.45"/>
<text x="143.9" y="436.9999999999998" font-size="6.9" text-anchor="start" font-weight="normal" fill="#2a2a2a"   textLength="16.53" lengthAdjust="spacingAndGlyphs">CCR7</text>
<rect x="66.10" y="439.80" width="9.34" height="10.20" fill="#FDCF82" stroke="#8c8c8c" stroke-width="0.45"/>
<rect x="75.44" y="439.80" width="9.34" height="10.20" fill="#FEE090" stroke="#8c8c8c" stroke-width="0.45"/>
<rect x="84.78" y="439.80" width="9.34" height="10.20" fill="#DD3A2C" stroke="#8c8c8c" stroke-width="0.45"/>
<rect x="94.11" y="439.80" width="9.34" height="10.20" fill="#F9A05A" stroke="#8c8c8c" stroke-width="0.45"/>
<rect x="103.45" y="439.80" width="9.34" height="10.20" fill="#74ADD1" stroke="#8c8c8c" stroke-width="0.45"/>
<rect x="112.79" y="439.80" width="9.34" height="10.20" fill="#5A8EC4" stroke="#8c8c8c" stroke-width="0.45"/>
<rect x="122.12" y="439.80" width="9.34" height="10.20" fill="#E0F3F8" stroke="#8c8c8c" stroke-width="0.45"/>
<rect x="131.46" y="439.80" width="9.34" height="10.20" fill="#F0F4D8" stroke="#8c8c8c" stroke-width="0.45"/>
<text x="143.9" y="447.19999999999976" font-size="6.9" text-anchor="start" font-weight="normal" fill="#2a2a2a"   textLength="16.53" lengthAdjust="spacingAndGlyphs">CCR6</text>
<rect x="66.10" y="174.30" width="74.70" height="122.40" fill="none" stroke="#8c8c8c" stroke-width="0.6"/>
<rect x="66.10" y="300.20" width="74.70" height="40.80" fill="none" stroke="#8c8c8c" stroke-width="0.6"/>
<rect x="66.10" y="344.50" width="74.70" height="61.20" fill="none" stroke="#8c8c8c" stroke-width="0.6"/>
<rect x="66.10" y="409.20" width="74.70" height="40.80" fill="none" stroke="#8c8c8c" stroke-width="0.6"/>
<rect x="275.20" y="174.40" width="9.44" height="10.12" fill="#DEEFF0" stroke="#8c8c8c" stroke-width="0.45"/>
<rect x="284.64" y="174.40" width="9.44" height="10.12" fill="#ABD9E9" stroke="#8c8c8c" stroke-width="0.45"/>
<rect x="294.07" y="174.40" width="9.44" height="10.12" fill="#74ADD1" stroke="#8c8c8c" stroke-width="0.45"/>
<rect x="303.51" y="174.40" width="9.44" height="10.12" fill="#ABD9E9" stroke="#8c8c8c" stroke-width="0.45"/>
<rect x="312.95" y="174.40" width="9.44" height="10.12" fill="#D73027" stroke="#8c8c8c" stroke-width="0.45"/>
<rect x="322.39" y="174.40" width="9.44" height="10.12" fill="#EE6340" stroke="#8c8c8c" stroke-width="0.45"/>
<rect x="331.82" y="174.40" width="9.44" height="10.12" fill="#FEE090" stroke="#8c8c8c" stroke-width="0.45"/>
<rect x="341.26" y="174.40" width="9.44" height="10.12" fill="#E8F4EC" stroke="#8c8c8c" stroke-width="0.45"/>
<text x="352.6" y="182.86" font-size="6.9" text-anchor="start" font-weight="normal" fill="#2a2a2a"   textLength="15.19" lengthAdjust="spacingAndGlyphs">BCL6</text>
<rect x="275.20" y="184.52" width="9.44" height="10.12" fill="#F89A56" stroke="#8c8c8c" stroke-width="0.45"/>
<rect x="284.64" y="184.52" width="9.44" height="10.12" fill="#F47D4A" stroke="#8c8c8c" stroke-width="0.45"/>
<rect x="294.07" y="184.52" width="9.44" height="10.12" fill="#FEE9A0" stroke="#8c8c8c" stroke-width="0.45"/>
<rect x="303.51" y="184.52" width="9.44" height="10.12" fill="#F58F55" stroke="#8c8c8c" stroke-width="0.45"/>
<rect x="312.95" y="184.52" width="9.44" height="10.12" fill="#4A7CBA" stroke="#8c8c8c" stroke-width="0.45"/>
<rect x="322.39" y="184.52" width="9.44" height="10.12" fill="#ABD9E9" stroke="#8c8c8c" stroke-width="0.45"/>
<rect x="331.82" y="184.52" width="9.44" height="10.12" fill="#91BFDB" stroke="#8c8c8c" stroke-width="0.45"/>
<rect x="341.26" y="184.52" width="9.44" height="10.12" fill="#FBF7C8" stroke="#8c8c8c" stroke-width="0.45"/>
<text x="352.6" y="192.98000000000002" font-size="6.9" text-anchor="start" font-weight="normal" fill="#2a2a2a"   textLength="17.99" lengthAdjust="spacingAndGlyphs">STAT6</text>
<rect x="275.20" y="194.64" width="9.44" height="10.12" fill="#F58F55" stroke="#8c8c8c" stroke-width="0.45"/>
<rect x="284.64" y="194.64" width="9.44" height="10.12" fill="#FDC070" stroke="#8c8c8c" stroke-width="0.45"/>
<rect x="294.07" y="194.64" width="9.44" height="10.12" fill="#EB5A3C" stroke="#8c8c8c" stroke-width="0.45"/>
<rect x="303.51" y="194.64" width="9.44" height="10.12" fill="#FDC070" stroke="#8c8c8c" stroke-width="0.45"/>
<rect x="312.95" y="194.64" width="9.44" height="10.12" fill="#74ADD1" stroke="#8c8c8c" stroke-width="0.45"/>
<rect x="322.39" y="194.64" width="9.44" height="10.12" fill="#C5E3EF" stroke="#8c8c8c" stroke-width="0.45"/>
<rect x="331.82" y="194.64" width="9.44" height="10.12" fill="#5A8EC4" stroke="#8c8c8c" stroke-width="0.45"/>
<rect x="341.26" y="194.64" width="9.44" height="10.12" fill="#E8F4EC" stroke="#8c8c8c" stroke-width="0.45"/>
<text x="352.6" y="203.10000000000002" font-size="6.9" text-anchor="start" font-weight="normal" fill="#2a2a2a"   textLength="19.01" lengthAdjust="spacingAndGlyphs">GATA3</text>
<rect x="275.20" y="204.76" width="9.44" height="10.12" fill="#F06C44" stroke="#8c8c8c" stroke-width="0.45"/>
<rect x="284.64" y="204.76" width="9.44" height="10.12" fill="#FEE9A0" stroke="#8c8c8c" stroke-width="0.45"/>
<rect x="294.07" y="204.76" width="9.44" height="10.12" fill="#FDCF82" stroke="#8c8c8c" stroke-width="0.45"/>
<rect x="303.51" y="204.76" width="9.44" height="10.12" fill="#F58F55" stroke="#8c8c8c" stroke-width="0.45"/>
<rect x="312.95" y="204.76" width="9.44" height="10.12" fill="#313695" stroke="#8c8c8c" stroke-width="0.45"/>
<rect x="322.39" y="204.76" width="9.44" height="10.12" fill="#E0F3F8" stroke="#8c8c8c" stroke-width="0.45"/>
<rect x="331.82" y="204.76" width="9.44" height="10.12" fill="#FBF7C8" stroke="#8c8c8c" stroke-width="0.45"/>
<rect x="341.26" y="204.76" width="9.44" height="10.12" fill="#C5E3EF" stroke="#8c8c8c" stroke-width="0.45"/>
<text x="352.6" y="213.22000000000003" font-size="6.9" text-anchor="start" font-weight="normal" fill="#2a2a2a"   textLength="24.96" lengthAdjust="spacingAndGlyphs">NOTCH2</text>
<rect x="275.20" y="214.88" width="9.44" height="10.12" fill="#F89A56" stroke="#8c8c8c" stroke-width="0.45"/>
<rect x="284.64" y="214.88" width="9.44" height="10.12" fill="#F06C44" stroke="#8c8c8c" stroke-width="0.45"/>
<rect x="294.07" y="214.88" width="9.44" height="10.12" fill="#FBF7C8" stroke="#8c8c8c" stroke-width="0.45"/>
<rect x="303.51" y="214.88" width="9.44" height="10.12" fill="#F58F55" stroke="#8c8c8c" stroke-width="0.45"/>
<rect x="312.95" y="214.88" width="9.44" height="10.12" fill="#74ADD1" stroke="#8c8c8c" stroke-width="0.45"/>
<rect x="322.39" y="214.88" width="9.44" height="10.12" fill="#FEE090" stroke="#8c8c8c" stroke-width="0.45"/>
<rect x="331.82" y="214.88" width="9.44" height="10.12" fill="#74ADD1" stroke="#8c8c8c" stroke-width="0.45"/>
<rect x="341.26" y="214.88" width="9.44" height="10.12" fill="#91BFDB" stroke="#8c8c8c" stroke-width="0.45"/>
<text x="352.6" y="223.34000000000003" font-size="6.9" text-anchor="start" font-weight="normal" fill="#2a2a2a"   textLength="13.16" lengthAdjust="spacingAndGlyphs">IRF3</text>
<rect x="275.20" y="225.00" width="9.44" height="10.12" fill="#F89A56" stroke="#8c8c8c" stroke-width="0.45"/>
<rect x="284.64" y="225.00" width="9.44" height="10.12" fill="#F89A56" stroke="#8c8c8c" stroke-width="0.45"/>
<rect x="294.07" y="225.00" width="9.44" height="10.12" fill="#F9A05A" stroke="#8c8c8c" stroke-width="0.45"/>
<rect x="303.51" y="225.00" width="9.44" height="10.12" fill="#FEE9A0" stroke="#8c8c8c" stroke-width="0.45"/>
<rect x="312.95" y="225.00" width="9.44" height="10.12" fill="#E0F3F8" stroke="#8c8c8c" stroke-width="0.45"/>
<rect x="322.39" y="225.00" width="9.44" height="10.12" fill="#74ADD1" stroke="#8c8c8c" stroke-width="0.45"/>
<rect x="331.82" y="225.00" width="9.44" height="10.12" fill="#FEE9A0" stroke="#8c8c8c" stroke-width="0.45"/>
<rect x="341.26" y="225.00" width="9.44" height="10.12" fill="#4575B4" stroke="#8c8c8c" stroke-width="0.45"/>
<text x="352.6" y="233.46000000000004" font-size="6.9" text-anchor="start" font-weight="normal" fill="#2a2a2a"   textLength="17.99" lengthAdjust="spacingAndGlyphs">STAT4</text>
<rect x="275.20" y="238.72" width="9.44" height="10.12" fill="#74ADD1" stroke="#8c8c8c" stroke-width="0.45"/>
<rect x="284.64" y="238.72" width="9.44" height="10.12" fill="#6A9FCC" stroke="#8c8c8c" stroke-width="0.45"/>
<rect x="294.07" y="238.72" width="9.44" height="10.12" fill="#ABD9E9" stroke="#8c8c8c" stroke-width="0.45"/>
<rect x="303.51" y="238.72" width="9.44" height="10.12" fill="#F0F4D8" stroke="#8c8c8c" stroke-width="0.45"/>
<rect x="312.95" y="238.72" width="9.44" height="10.12" fill="#FDB863" stroke="#8c8c8c" stroke-width="0.45"/>
<rect x="322.39" y="238.72" width="9.44" height="10.12" fill="#EE6340" stroke="#8c8c8c" stroke-width="0.45"/>
<rect x="331.82" y="238.72" width="9.44" height="10.12" fill="#FDC070" stroke="#8c8c8c" stroke-width="0.45"/>
<rect x="341.26" y="238.72" width="9.44" height="10.12" fill="#F9A05A" stroke="#8c8c8c" stroke-width="0.45"/>
<text x="352.6" y="247.18000000000004" font-size="6.9" text-anchor="start" font-weight="normal" fill="#2a2a2a"   textLength="17.21" lengthAdjust="spacingAndGlyphs">AREG</text>
<rect x="275.20" y="248.84" width="9.44" height="10.12" fill="#E8F2E0" stroke="#8c8c8c" stroke-width="0.45"/>
<rect x="284.64" y="248.84" width="9.44" height="10.12" fill="#C5E3EF" stroke="#8c8c8c" stroke-width="0.45"/>
<rect x="294.07" y="248.84" width="9.44" height="10.12" fill="#ABD9E9" stroke="#8c8c8c" stroke-width="0.45"/>
<rect x="303.51" y="248.84" width="9.44" height="10.12" fill="#74ADD1" stroke="#8c8c8c" stroke-width="0.45"/>
<rect x="312.95" y="248.84" width="9.44" height="10.12" fill="#C81E2A" stroke="#8c8c8c" stroke-width="0.45"/>
<rect x="322.39" y="248.84" width="9.44" height="10.12" fill="#FDB863" stroke="#8c8c8c" stroke-width="0.45"/>
<rect x="331.82" y="248.84" width="9.44" height="10.12" fill="#FDC070" stroke="#8c8c8c" stroke-width="0.45"/>
<rect x="341.26" y="248.84" width="9.44" height="10.12" fill="#F0F4D8" stroke="#8c8c8c" stroke-width="0.45"/>
<text x="352.6" y="257.30000000000007" font-size="6.9" text-anchor="start" font-weight="normal" fill="#2a2a2a"   textLength="11.81" lengthAdjust="spacingAndGlyphs">JUN</text>
<rect x="275.20" y="258.96" width="9.44" height="10.12" fill="#E0F3F8" stroke="#8c8c8c" stroke-width="0.45"/>
<rect x="284.64" y="258.96" width="9.44" height="10.12" fill="#E8F2E0" stroke="#8c8c8c" stroke-width="0.45"/>
<rect x="294.07" y="258.96" width="9.44" height="10.12" fill="#4A7CBA" stroke="#8c8c8c" stroke-width="0.45"/>
<rect x="303.51" y="258.96" width="9.44" height="10.12" fill="#ABD9E9" stroke="#8c8c8c" stroke-width="0.45"/>
<rect x="312.95" y="258.96" width="9.44" height="10.12" fill="#FEE090" stroke="#8c8c8c" stroke-width="0.45"/>
<rect x="322.39" y="258.96" width="9.44" height="10.12" fill="#B51F2E" stroke="#8c8c8c" stroke-width="0.45"/>
<rect x="331.82" y="258.96" width="9.44" height="10.12" fill="#FDC070" stroke="#8c8c8c" stroke-width="0.45"/>
<rect x="341.26" y="258.96" width="9.44" height="10.12" fill="#FBF0B0" stroke="#8c8c8c" stroke-width="0.45"/>
<text x="352.6" y="267.4200000000001" font-size="6.9" text-anchor="start" font-weight="normal" fill="#2a2a2a"   textLength="20.92" lengthAdjust="spacingAndGlyphs">PRKCB</text>
<rect x="275.20" y="269.08" width="9.44" height="10.12" fill="#91BFDB" stroke="#8c8c8c" stroke-width="0.45"/>
<rect x="284.64" y="269.08" width="9.44" height="10.12" fill="#E8F2E0" stroke="#8c8c8c" stroke-width="0.45"/>
<rect x="294.07" y="269.08" width="9.44" height="10.12" fill="#91BFDB" stroke="#8c8c8c" stroke-width="0.45"/>
<rect x="303.51" y="269.08" width="9.44" height="10.12" fill="#ABD9E9" stroke="#8c8c8c" stroke-width="0.45"/>
<rect x="312.95" y="269.08" width="9.44" height="10.12" fill="#E8553A" stroke="#8c8c8c" stroke-width="0.45"/>
<rect x="322.39" y="269.08" width="9.44" height="10.12" fill="#D02A2A" stroke="#8c8c8c" stroke-width="0.45"/>
<rect x="331.82" y="269.08" width="9.44" height="10.12" fill="#FBF7C8" stroke="#8c8c8c" stroke-width="0.45"/>
<rect x="341.26" y="269.08" width="9.44" height="10.12" fill="#F0F4D8" stroke="#8c8c8c" stroke-width="0.45"/>
<text x="352.6" y="277.5400000000001" font-size="6.9" text-anchor="start" font-weight="normal" fill="#2a2a2a"   textLength="15.19" lengthAdjust="spacingAndGlyphs">AKT1</text>
<rect x="275.20" y="279.20" width="9.44" height="10.12" fill="#D73027" stroke="#8c8c8c" stroke-width="0.45"/>
<rect x="284.64" y="279.20" width="9.44" height="10.12" fill="#F06C44" stroke="#8c8c8c" stroke-width="0.45"/>
<rect x="294.07" y="279.20" width="9.44" height="10.12" fill="#FBF7C8" stroke="#8c8c8c" stroke-width="0.45"/>
<rect x="303.51" y="279.20" width="9.44" height="10.12" fill="#F9A05A" stroke="#8c8c8c" stroke-width="0.45"/>
<rect x="312.95" y="279.20" width="9.44" height="10.12" fill="#ABD9E9" stroke="#8c8c8c" stroke-width="0.45"/>
<rect x="322.39" y="279.20" width="9.44" height="10.12" fill="#91BFDB" stroke="#8c8c8c" stroke-width="0.45"/>
<rect x="331.82" y="279.20" width="9.44" height="10.12" fill="#C5E3EF" stroke="#8c8c8c" stroke-width="0.45"/>
<rect x="341.26" y="279.20" width="9.44" height="10.12" fill="#74ADD1" stroke="#8c8c8c" stroke-width="0.45"/>
<text x="352.6" y="287.6600000000001" font-size="6.9" text-anchor="start" font-weight="normal" fill="#2a2a2a"   textLength="17.76" lengthAdjust="spacingAndGlyphs">MTOR</text>
<rect x="275.20" y="289.32" width="9.44" height="10.12" fill="#FEE090" stroke="#8c8c8c" stroke-width="0.45"/>
<rect x="284.64" y="289.32" width="9.44" height="10.12" fill="#F9A05A" stroke="#8c8c8c" stroke-width="0.45"/>
<rect x="294.07" y="289.32" width="9.44" height="10.12" fill="#FBF7C8" stroke="#8c8c8c" stroke-width="0.45"/>
<rect x="303.51" y="289.32" width="9.44" height="10.12" fill="#DD3A2C" stroke="#8c8c8c" stroke-width="0.45"/>
<rect x="312.95" y="289.32" width="9.44" height="10.12" fill="#4A7CBA" stroke="#8c8c8c" stroke-width="0.45"/>
<rect x="322.39" y="289.32" width="9.44" height="10.12" fill="#ABD9E9" stroke="#8c8c8c" stroke-width="0.45"/>
<rect x="331.82" y="289.32" width="9.44" height="10.12" fill="#FEE9A0" stroke="#8c8c8c" stroke-width="0.45"/>
<rect x="341.26" y="289.32" width="9.44" height="10.12" fill="#E0F3F8" stroke="#8c8c8c" stroke-width="0.45"/>
<text x="352.6" y="297.7800000000001" font-size="6.9" text-anchor="start" font-weight="normal" fill="#2a2a2a"   textLength="18.79" lengthAdjust="spacingAndGlyphs">LPAR6</text>
<rect x="275.20" y="299.44" width="9.44" height="10.12" fill="#F9A05A" stroke="#8c8c8c" stroke-width="0.45"/>
<rect x="284.64" y="299.44" width="9.44" height="10.12" fill="#F9A05A" stroke="#8c8c8c" stroke-width="0.45"/>
<rect x="294.07" y="299.44" width="9.44" height="10.12" fill="#F47D4A" stroke="#8c8c8c" stroke-width="0.45"/>
<rect x="303.51" y="299.44" width="9.44" height="10.12" fill="#F47D4A" stroke="#8c8c8c" stroke-width="0.45"/>
<rect x="312.95" y="299.44" width="9.44" height="10.12" fill="#91BFDB" stroke="#8c8c8c" stroke-width="0.45"/>
<rect x="322.39" y="299.44" width="9.44" height="10.12" fill="#ABD9E9" stroke="#8c8c8c" stroke-width="0.45"/>
<rect x="331.82" y="299.44" width="9.44" height="10.12" fill="#74ADD1" stroke="#8c8c8c" stroke-width="0.45"/>
<rect x="341.26" y="299.44" width="9.44" height="10.12" fill="#C5E3EF" stroke="#8c8c8c" stroke-width="0.45"/>
<text x="352.6" y="307.9000000000001" font-size="6.9" text-anchor="start" font-weight="normal" fill="#2a2a2a"   textLength="19.46" lengthAdjust="spacingAndGlyphs">TAOK2</text>
<rect x="275.20" y="309.56" width="9.44" height="10.12" fill="#F58F55" stroke="#8c8c8c" stroke-width="0.45"/>
<rect x="284.64" y="309.56" width="9.44" height="10.12" fill="#FDB863" stroke="#8c8c8c" stroke-width="0.45"/>
<rect x="294.07" y="309.56" width="9.44" height="10.12" fill="#F47D4A" stroke="#8c8c8c" stroke-width="0.45"/>
<rect x="303.51" y="309.56" width="9.44" height="10.12" fill="#FDC070" stroke="#8c8c8c" stroke-width="0.45"/>
<rect x="312.95" y="309.56" width="9.44" height="10.12" fill="#313695" stroke="#8c8c8c" stroke-width="0.45"/>
<rect x="322.39" y="309.56" width="9.44" height="10.12" fill="#E0F3F8" stroke="#8c8c8c" stroke-width="0.45"/>
<rect x="331.82" y="309.56" width="9.44" height="10.12" fill="#D0E8F0" stroke="#8c8c8c" stroke-width="0.45"/>
<rect x="341.26" y="309.56" width="9.44" height="10.12" fill="#F0F4D8" stroke="#8c8c8c" stroke-width="0.45"/>
<text x="352.6" y="318.0200000000001" font-size="6.9" text-anchor="start" font-weight="normal" fill="#2a2a2a"   textLength="12.83" lengthAdjust="spacingAndGlyphs">IL7R</text>
<rect x="275.20" y="319.68" width="9.44" height="10.12" fill="#F9A05A" stroke="#8c8c8c" stroke-width="0.45"/>
<rect x="284.64" y="319.68" width="9.44" height="10.12" fill="#F9A05A" stroke="#8c8c8c" stroke-width="0.45"/>
<rect x="294.07" y="319.68" width="9.44" height="10.12" fill="#F47D4A" stroke="#8c8c8c" stroke-width="0.45"/>
<rect x="303.51" y="319.68" width="9.44" height="10.12" fill="#FBF7C8" stroke="#8c8c8c" stroke-width="0.45"/>
<rect x="312.95" y="319.68" width="9.44" height="10.12" fill="#E0F3F8" stroke="#8c8c8c" stroke-width="0.45"/>
<rect x="322.39" y="319.68" width="9.44" height="10.12" fill="#C5E3EF" stroke="#8c8c8c" stroke-width="0.45"/>
<rect x="331.82" y="319.68" width="9.44" height="10.12" fill="#FBF7C8" stroke="#8c8c8c" stroke-width="0.45"/>
<rect x="341.26" y="319.68" width="9.44" height="10.12" fill="#313695" stroke="#8c8c8c" stroke-width="0.45"/>
<text x="352.6" y="328.1400000000001" font-size="6.9" text-anchor="start" font-weight="normal" fill="#2a2a2a"   textLength="17.88" lengthAdjust="spacingAndGlyphs">IGF1R</text>
<rect x="275.20" y="333.40" width="9.44" height="10.12" fill="#EEF4DC" stroke="#8c8c8c" stroke-width="0.45"/>
<rect x="284.64" y="333.40" width="9.44" height="10.12" fill="#F8F4C8" stroke="#8c8c8c" stroke-width="0.45"/>
<rect x="294.07" y="333.40" width="9.44" height="10.12" fill="#4A7CBA" stroke="#8c8c8c" stroke-width="0.45"/>
<rect x="303.51" y="333.40" width="9.44" height="10.12" fill="#91BFDB" stroke="#8c8c8c" stroke-width="0.45"/>
<rect x="312.95" y="333.40" width="9.44" height="10.12" fill="#F47D4A" stroke="#8c8c8c" stroke-width="0.45"/>
<rect x="322.39" y="333.40" width="9.44" height="10.12" fill="#FDB863" stroke="#8c8c8c" stroke-width="0.45"/>
<rect x="331.82" y="333.40" width="9.44" height="10.12" fill="#E0432E" stroke="#8c8c8c" stroke-width="0.45"/>
<rect x="341.26" y="333.40" width="9.44" height="10.12" fill="#F0F4D8" stroke="#8c8c8c" stroke-width="0.45"/>
<text x="352.6" y="341.8600000000001" font-size="6.9" text-anchor="start" font-weight="normal" fill="#2a2a2a"   textLength="11.47" lengthAdjust="spacingAndGlyphs">TKT</text>
<rect x="275.20" y="343.52" width="9.44" height="10.12" fill="#C5E3EF" stroke="#8c8c8c" stroke-width="0.45"/>
<rect x="284.64" y="343.52" width="9.44" height="10.12" fill="#F0F4D8" stroke="#8c8c8c" stroke-width="0.45"/>
<rect x="294.07" y="343.52" width="9.44" height="10.12" fill="#74ADD1" stroke="#8c8c8c" stroke-width="0.45"/>
<rect x="303.51" y="343.52" width="9.44" height="10.12" fill="#74ADD1" stroke="#8c8c8c" stroke-width="0.45"/>
<rect x="312.95" y="343.52" width="9.44" height="10.12" fill="#F9A05A" stroke="#8c8c8c" stroke-width="0.45"/>
<rect x="322.39" y="343.52" width="9.44" height="10.12" fill="#F47D4A" stroke="#8c8c8c" stroke-width="0.45"/>
<rect x="331.82" y="343.52" width="9.44" height="10.12" fill="#E0432E" stroke="#8c8c8c" stroke-width="0.45"/>
<rect x="341.26" y="343.52" width="9.44" height="10.12" fill="#E8F2E0" stroke="#8c8c8c" stroke-width="0.45"/>
<text x="352.6" y="351.98000000000013" font-size="6.9" text-anchor="start" font-weight="normal" fill="#2a2a2a"   textLength="16.20" lengthAdjust="spacingAndGlyphs">LDHA</text>
<rect x="275.20" y="353.64" width="9.44" height="10.12" fill="#5A8EC4" stroke="#8c8c8c" stroke-width="0.45"/>
<rect x="284.64" y="353.64" width="9.44" height="10.12" fill="#91BFDB" stroke="#8c8c8c" stroke-width="0.45"/>
<rect x="294.07" y="353.64" width="9.44" height="10.12" fill="#E8F2E0" stroke="#8c8c8c" stroke-width="0.45"/>
<rect x="303.51" y="353.64" width="9.44" height="10.12" fill="#E0F3F8" stroke="#8c8c8c" stroke-width="0.45"/>
<rect x="312.95" y="353.64" width="9.44" height="10.12" fill="#C0182A" stroke="#8c8c8c" stroke-width="0.45"/>
<rect x="322.39" y="353.64" width="9.44" height="10.12" fill="#FDC070" stroke="#8c8c8c" stroke-width="0.45"/>
<rect x="331.82" y="353.64" width="9.44" height="10.12" fill="#FDB863" stroke="#8c8c8c" stroke-width="0.45"/>
<rect x="341.26" y="353.64" width="9.44" height="10.12" fill="#FEE9A0" stroke="#8c8c8c" stroke-width="0.45"/>
<text x="352.6" y="362.10000000000014" font-size="6.9" text-anchor="start" font-weight="normal" fill="#2a2a2a"   textLength="15.86" lengthAdjust="spacingAndGlyphs">RAE1</text>
<rect x="275.20" y="363.76" width="9.44" height="10.12" fill="#E8553A" stroke="#8c8c8c" stroke-width="0.45"/>
<rect x="284.64" y="363.76" width="9.44" height="10.12" fill="#EE6340" stroke="#8c8c8c" stroke-width="0.45"/>
<rect x="294.07" y="363.76" width="9.44" height="10.12" fill="#FEE090" stroke="#8c8c8c" stroke-width="0.45"/>
<rect x="303.51" y="363.76" width="9.44" height="10.12" fill="#FEE090" stroke="#8c8c8c" stroke-width="0.45"/>
<rect x="312.95" y="363.76" width="9.44" height="10.12" fill="#F0F4D8" stroke="#8c8c8c" stroke-width="0.45"/>
<rect x="322.39" y="363.76" width="9.44" height="10.12" fill="#E8F2E0" stroke="#8c8c8c" stroke-width="0.45"/>
<rect x="331.82" y="363.76" width="9.44" height="10.12" fill="#74ADD1" stroke="#8c8c8c" stroke-width="0.45"/>
<rect x="341.26" y="363.76" width="9.44" height="10.12" fill="#4A7CBA" stroke="#8c8c8c" stroke-width="0.45"/>
<text x="352.6" y="372.22000000000014" font-size="6.9" text-anchor="start" font-weight="normal" fill="#2a2a2a"   textLength="25.54" lengthAdjust="spacingAndGlyphs">SLC2A11</text>
<rect x="275.20" y="373.88" width="9.44" height="10.12" fill="#FDCF82" stroke="#8c8c8c" stroke-width="0.45"/>
<rect x="284.64" y="373.88" width="9.44" height="10.12" fill="#E0432E" stroke="#8c8c8c" stroke-width="0.45"/>
<rect x="294.07" y="373.88" width="9.44" height="10.12" fill="#FDC070" stroke="#8c8c8c" stroke-width="0.45"/>
<rect x="303.51" y="373.88" width="9.44" height="10.12" fill="#FDB863" stroke="#8c8c8c" stroke-width="0.45"/>
<rect x="312.95" y="373.88" width="9.44" height="10.12" fill="#5A8EC4" stroke="#8c8c8c" stroke-width="0.45"/>
<rect x="322.39" y="373.88" width="9.44" height="10.12" fill="#4A7CBA" stroke="#8c8c8c" stroke-width="0.45"/>
<rect x="331.82" y="373.88" width="9.44" height="10.12" fill="#E8F2E0" stroke="#8c8c8c" stroke-width="0.45"/>
<rect x="341.26" y="373.88" width="9.44" height="10.12" fill="#F0F4D8" stroke="#8c8c8c" stroke-width="0.45"/>
<text x="352.6" y="382.34000000000015" font-size="6.9" text-anchor="start" font-weight="normal" fill="#2a2a2a"   textLength="22.94" lengthAdjust="spacingAndGlyphs">PFKFB4</text>
<rect x="275.20" y="174.40" width="75.50" height="60.72" fill="none" stroke="#8c8c8c" stroke-width="0.6"/>
<rect x="275.20" y="238.72" width="75.50" height="91.08" fill="none" stroke="#8c8c8c" stroke-width="0.6"/>
<rect x="275.20" y="333.40" width="75.50" height="50.60" fill="none" stroke="#8c8c8c" stroke-width="0.6"/>
<text x="352.5" y="173.2" font-size="7.0" text-anchor="start" font-weight="bold" fill="#111"   textLength="22.60" lengthAdjust="spacingAndGlyphs">Sample</text>
<line x1="62.8" y1="174.9" x2="62.8" y2="296.1" stroke="#6f94d2" stroke-width="1"/>
<line x1="62.8" y1="300.8" x2="62.8" y2="340.4" stroke="#6f94d2" stroke-width="1"/>
<line x1="62.8" y1="345.1" x2="62.8" y2="405.1" stroke="#6f94d2" stroke-width="1"/>
<line x1="62.8" y1="409.8" x2="62.8" y2="449.4" stroke="#6f94d2" stroke-width="1"/>
<line x1="272.8" y1="175.0" x2="272.8" y2="234.5" stroke="#6f94d2" stroke-width="1"/>
<line x1="272.8" y1="239.3" x2="272.8" y2="329.2" stroke="#6f94d2" stroke-width="1"/>
<line x1="272.8" y1="334.0" x2="272.8" y2="383.4" stroke="#6f94d2" stroke-width="1"/>
<text transform="translate(46.8,237.9) rotate(-90)" x="0" y="0" font-size="8.2" text-anchor="middle" fill="#222" dy="0.35em">Costimulatory and</text>
<text transform="translate(57.0,237.9) rotate(-90)" x="0" y="0" font-size="8.2" text-anchor="middle" fill="#222" dy="0.35em">activation markers</text>
<text transform="translate(58.0,320.6) rotate(-90)" x="0" y="0" font-size="8.2" text-anchor="middle" fill="#222" dy="0.35em">Exhaustion</text>
<text transform="translate(36.9,375.1) rotate(-90)" x="0" y="0" font-size="8.6" text-anchor="middle" fill="#222" dy="0.35em">Cytokines and</text>
<text transform="translate(47.1,375.1) rotate(-90)" x="0" y="0" font-size="8.6" text-anchor="middle" fill="#222" dy="0.35em">effector</text>
<text transform="translate(57.3,375.1) rotate(-90)" x="0" y="0" font-size="8.6" text-anchor="middle" fill="#222" dy="0.35em">molecules</text>
<text transform="translate(46.6,430.6) rotate(-90)" x="0" y="0" font-size="8.5" text-anchor="middle" fill="#222" dy="0.35em">Chemokine</text>
<text transform="translate(56.8,430.6) rotate(-90)" x="0" y="0" font-size="8.5" text-anchor="middle" fill="#222" dy="0.35em">signalling</text>
<text transform="translate(257.7,206.3) rotate(-90)" x="0" y="0" font-size="8.6" text-anchor="middle" fill="#222" dy="0.35em">Transcription</text>
<text transform="translate(267.9,206.3) rotate(-90)" x="0" y="0" font-size="8.6" text-anchor="middle" fill="#222" dy="0.35em">factors</text>
<text transform="translate(255.9,284.3) rotate(-90)" x="0" y="0" font-size="8.5" text-anchor="middle" fill="#222" dy="0.35em">MAPK and PI3K</text>
<text transform="translate(266.1,284.3) rotate(-90)" x="0" y="0" font-size="8.5" text-anchor="middle" fill="#222" dy="0.35em">signalling</text>
<text transform="translate(266.6,358.7) rotate(-90)" x="0" y="0" font-size="8.2" text-anchor="middle" fill="#222" dy="0.35em">Glycolysis</text>
<defs><linearGradient id="gC" x1="0" y1="0" x2="0" y2="1"><stop offset="0.00" stop-color="#a50026"/><stop offset="0.10" stop-color="#d73027"/><stop offset="0.20" stop-color="#f46d43"/><stop offset="0.30" stop-color="#fdae61"/><stop offset="0.40" stop-color="#fee090"/><stop offset="0.50" stop-color="#ffffbf"/><stop offset="0.60" stop-color="#e0f3f8"/><stop offset="0.70" stop-color="#abd9e9"/><stop offset="0.80" stop-color="#74add1"/><stop offset="0.90" stop-color="#4575b4"/><stop offset="1.00" stop-color="#313695"/></linearGradient></defs>
<rect x="390.8" y="170.6" width="5.9" height="87.1" fill="url(#gC)"/>
<text x="398.8" y="173.3" font-size="6.5" text-anchor="start" font-weight="normal" fill="#333"  >2</text>
<text x="398.8" y="195.10000000000002" font-size="6.5" text-anchor="start" font-weight="normal" fill="#333"  >1</text>
<text x="398.8" y="216.9" font-size="6.5" text-anchor="start" font-weight="normal" fill="#333"  >0</text>
<text x="398.8" y="240.10000000000002" font-size="6.5" text-anchor="start" font-weight="normal" fill="#333"  >-1</text>
<text x="398.8" y="261.3" font-size="6.5" text-anchor="start" font-weight="normal" fill="#333"  >-2</text>
<text x="407.8" y="175.8" font-size="7.1" text-anchor="start" font-weight="bold" fill="#111"   textLength="21.80" lengthAdjust="spacingAndGlyphs">Sample</text>
<rect x="407.7" y="177.3" width="8" height="8.1" fill="#3fc1c9"/>
<rect x="407.7" y="185.4" width="8" height="8" fill="#f4918a"/>
<text x="416.6" y="183.6" font-size="6.4" text-anchor="start" font-weight="normal" fill="#555"  >HC</text>
<text x="416.6" y="191.6" font-size="6.4" text-anchor="start" font-weight="normal" fill="#555"  >pES</text>
<text x="7.6" y="469" font-size="11.5" text-anchor="start" font-weight="bold" fill="#000"  >D</text>
<text x="88.5" y="468.7" font-size="8.5" text-anchor="middle" font-weight="normal" fill="#222"   textLength="29.40" lengthAdjust="spacingAndGlyphs">sCD40L</text>
<text transform="translate(33,516) rotate(-90)" x="0" y="0" font-size="8.2" text-anchor="middle" fill="#3a3a3a" dy="0.35em" textLength="44.7" lengthAdjust="spacingAndGlyphs">Conc.(pg/mL)</text>
<line x1="64.5" y1="478" x2="64.5" y2="499" stroke="#000" stroke-width="1.15"/>
<line x1="64.5" y1="504.4" x2="64.5" y2="553.4" stroke="#000" stroke-width="1.15"/>
<line x1="61.9" y1="499" x2="67.1" y2="499" stroke="#000" stroke-width="1"/>
<line x1="61.9" y1="504.4" x2="67.1" y2="504.4" stroke="#000" stroke-width="1"/>
<line x1="61.0" y1="478.5" x2="64.5" y2="478.5" stroke="#000" stroke-width="1"/>
<text x="58.7" y="479.9" font-size="7.8" text-anchor="end" font-weight="normal" fill="#222"  >3600</text>
<line x1="61.0" y1="488.5" x2="64.5" y2="488.5" stroke="#000" stroke-width="1"/>
<text x="58.7" y="490.4" font-size="7.8" text-anchor="end" font-weight="normal" fill="#222"  >2400</text>
<line x1="61.0" y1="499.5" x2="64.5" y2="499.5" stroke="#000" stroke-width="1"/>
<text x="58.7" y="500.9" font-size="7.8" text-anchor="end" font-weight="normal" fill="#222"  >1200</text>
<line x1="61.0" y1="512.5" x2="64.5" y2="512.5" stroke="#000" stroke-width="1"/>
<text x="58.7" y="514.8" font-size="7.8" text-anchor="end" font-weight="normal" fill="#222"  >1000</text>
<line x1="61.0" y1="533.5" x2="64.5" y2="533.5" stroke="#000" stroke-width="1"/>
<text x="58.7" y="535.1999999999999" font-size="7.8" text-anchor="end" font-weight="normal" fill="#222"  >500</text>
<line x1="61.0" y1="553.5" x2="64.5" y2="553.5" stroke="#000" stroke-width="1"/>
<text x="58.7" y="555.3" font-size="7.8" text-anchor="end" font-weight="normal" fill="#222"  >0</text>
<rect x="71.5" y="526.3" width="14.200000000000003" height="27.100000000000023" fill="#c8102e" stroke="#111" stroke-width="0.7"/>
<rect x="93.2" y="541.3" width="13.899999999999991" height="12.100000000000023" fill="#1b5596" stroke="#111" stroke-width="0.7"/>
<line x1="64.5" y1="553.5" x2="114.5" y2="553.5" stroke="#000" stroke-width="1.2"/>
<line x1="78.6" y1="553.4" x2="78.6" y2="556.8" stroke="#000" stroke-width="1"/>
<text transform="translate(80.6,560.3) rotate(-45)" x="0" y="0" font-size="8.5" text-anchor="end" fill="#111" dy="0.35em">HC</text>
<line x1="100.15" y1="553.4" x2="100.15" y2="556.8" stroke="#000" stroke-width="1"/>
<text transform="translate(103.15,559.6999999999999) rotate(-45)" x="0" y="0" font-size="8.5" text-anchor="end" fill="#111" dy="0.35em">pES</text>
<line x1="78.6" y1="519.4" x2="78.6" y2="532.5" stroke="#111" stroke-width="0.7"/>
<line x1="75.3" y1="519.4" x2="81.89999999999999" y2="519.4" stroke="#111" stroke-width="0.7"/>
<line x1="75.3" y1="532.5" x2="81.89999999999999" y2="532.5" stroke="#111" stroke-width="0.7"/>
<line x1="100.15" y1="537" x2="100.15" y2="545" stroke="#111" stroke-width="0.7"/>
<line x1="96.85000000000001" y1="537" x2="103.45" y2="537" stroke="#111" stroke-width="0.7"/>
<line x1="96.85000000000001" y1="545" x2="103.45" y2="545" stroke="#111" stroke-width="0.7"/>
<circle cx="75.3" cy="489" r="1.2" fill="none" stroke="#111" stroke-width="0.7"/>
<circle cx="78.7" cy="491.1" r="1.2" fill="none" stroke="#111" stroke-width="0.7"/>
<circle cx="78.7" cy="494.6" r="1.2" fill="none" stroke="#111" stroke-width="0.7"/>
<circle cx="78.7" cy="498" r="1.2" fill="none" stroke="#111" stroke-width="0.7"/>
<circle cx="100" cy="497.1" r="1.2" fill="none" stroke="#111" stroke-width="0.7"/>
<circle cx="100" cy="505.5" r="1.2" fill="none" stroke="#111" stroke-width="0.7"/>
<circle cx="100" cy="509.4" r="1.2" fill="none" stroke="#111" stroke-width="0.7"/>
<circle cx="100" cy="528.6" r="1.2" fill="none" stroke="#111" stroke-width="0.7"/>
<circle cx="78.7" cy="514.2" r="1.2" fill="none" stroke="#111" stroke-width="0.7"/>
<circle cx="78.7" cy="519.4" r="1.2" fill="none" stroke="#111" stroke-width="0.7"/>
<circle cx="78.5" cy="527.5" r="1.2" fill="none" stroke="#111" stroke-width="0.7"/>
<circle cx="78.5" cy="530" r="1.2" fill="none" stroke="#111" stroke-width="0.7"/>
<circle cx="78.5" cy="533" r="1.2" fill="none" stroke="#111" stroke-width="0.7"/>
<circle cx="78.5" cy="535" r="1.2" fill="none" stroke="#111" stroke-width="0.7"/>
<circle cx="72.5" cy="537.8" r="1.2" fill="none" stroke="#111" stroke-width="0.7"/>
<circle cx="75.5" cy="537.8" r="1.2" fill="none" stroke="#111" stroke-width="0.7"/>
<circle cx="78.5" cy="537.8" r="1.2" fill="none" stroke="#111" stroke-width="0.7"/>
<circle cx="81.5" cy="537.8" r="1.2" fill="none" stroke="#111" stroke-width="0.7"/>
<circle cx="81.5" cy="540.5" r="1.2" fill="none" stroke="#111" stroke-width="0.7"/>
<circle cx="77" cy="546.4" r="1.2" fill="none" stroke="#111" stroke-width="0.7"/>
<circle cx="80" cy="546.4" r="1.2" fill="none" stroke="#111" stroke-width="0.7"/>
<circle cx="73" cy="550.6" r="1.2" fill="none" stroke="#111" stroke-width="0.7"/>
<circle cx="76" cy="550.6" r="1.2" fill="none" stroke="#111" stroke-width="0.7"/>
<circle cx="79" cy="550.6" r="1.2" fill="none" stroke="#111" stroke-width="0.7"/>
<circle cx="82" cy="550.6" r="1.2" fill="none" stroke="#111" stroke-width="0.7"/>
<circle cx="84" cy="550.6" r="1.2" fill="none" stroke="#111" stroke-width="0.7"/>
<circle cx="98.5" cy="537.3" r="1.2" fill="none" stroke="#111" stroke-width="0.7"/>
<circle cx="101.5" cy="537.3" r="1.2" fill="none" stroke="#111" stroke-width="0.7"/>
<circle cx="100" cy="540" r="1.2" fill="none" stroke="#111" stroke-width="0.7"/>
<circle cx="100" cy="545.5" r="1.2" fill="none" stroke="#111" stroke-width="0.7"/>
<circle cx="95" cy="550.5" r="1.2" fill="none" stroke="#111" stroke-width="0.7"/>
<circle cx="98" cy="550.5" r="1.2" fill="none" stroke="#111" stroke-width="0.7"/>
<circle cx="101" cy="550.5" r="1.2" fill="none" stroke="#111" stroke-width="0.7"/>
<circle cx="104" cy="550.5" r="1.2" fill="none" stroke="#111" stroke-width="0.7"/>
<line x1="76.1" y1="478.5" x2="99.2" y2="478.5" stroke="#666" stroke-width="1"/>
<polygon points="87.39,473.25 87.89,474.41 89.14,474.53 88.19,475.36 88.47,476.60 87.39,475.95 86.30,476.60 86.58,475.36 85.63,474.53 86.88,474.41" fill="#222"/>
<polygon points="91.12,473.25 91.62,474.41 92.87,474.53 91.92,475.36 92.20,476.60 91.12,475.95 90.03,476.60 90.31,475.36 89.36,474.53 90.61,474.41" fill="#222"/>
<text x="188.85" y="467.7" font-size="8.3" text-anchor="middle" font-weight="normal" fill="#222"   textLength="16.90" lengthAdjust="spacingAndGlyphs">IL-21</text>
<text transform="translate(139.5,516) rotate(-90)" x="0" y="0" font-size="8.2" text-anchor="middle" fill="#3a3a3a" dy="0.35em" textLength="44.7" lengthAdjust="spacingAndGlyphs">Conc.(pg/mL)</text>
<line x1="164.5" y1="477" x2="164.5" y2="497.8" stroke="#000" stroke-width="1.15"/>
<line x1="164.5" y1="503.5" x2="164.5" y2="552.8" stroke="#000" stroke-width="1.15"/>
<line x1="161.9" y1="497.8" x2="167.1" y2="497.8" stroke="#000" stroke-width="1"/>
<line x1="161.9" y1="503.5" x2="167.1" y2="503.5" stroke="#000" stroke-width="1"/>
<line x1="161.0" y1="477.5" x2="164.5" y2="477.5" stroke="#000" stroke-width="1"/>
<text x="158.7" y="478.9" font-size="7.8" text-anchor="end" font-weight="normal" fill="#222"  >60</text>
<line x1="161.0" y1="497.5" x2="164.5" y2="497.5" stroke="#000" stroke-width="1"/>
<text x="158.7" y="499.7" font-size="7.8" text-anchor="end" font-weight="normal" fill="#222"  >30</text>
<line x1="161.0" y1="503.5" x2="164.5" y2="503.5" stroke="#000" stroke-width="1"/>
<text x="158.7" y="507.09999999999997" font-size="7.8" text-anchor="end" font-weight="normal" fill="#222"  >30</text>
<line x1="161.0" y1="520.5" x2="164.5" y2="520.5" stroke="#000" stroke-width="1"/>
<text x="158.7" y="522.1" font-size="7.8" text-anchor="end" font-weight="normal" fill="#222"  >20</text>
<line x1="161.0" y1="536.5" x2="164.5" y2="536.5" stroke="#000" stroke-width="1"/>
<text x="158.7" y="538.3" font-size="7.8" text-anchor="end" font-weight="normal" fill="#222"  >10</text>
<line x1="161.0" y1="552.5" x2="164.5" y2="552.5" stroke="#000" stroke-width="1"/>
<text x="158.7" y="554.6999999999999" font-size="7.8" text-anchor="end" font-weight="normal" fill="#222"  >0</text>
<rect x="171.9" y="536.2" width="14.299999999999983" height="16.59999999999991" fill="#c8102e" stroke="#111" stroke-width="0.7"/>
<rect x="193.5" y="542.2" width="14.400000000000006" height="10.599999999999909" fill="#1b5596" stroke="#111" stroke-width="0.7"/>
<line x1="164.5" y1="552.5" x2="215" y2="552.5" stroke="#000" stroke-width="1.2"/>
<line x1="179.05" y1="552.8" x2="179.05" y2="556.1999999999999" stroke="#000" stroke-width="1"/>
<text transform="translate(181.05,559.6999999999999) rotate(-45)" x="0" y="0" font-size="8.5" text-anchor="end" fill="#111" dy="0.35em">HC</text>
<line x1="200.7" y1="552.8" x2="200.7" y2="556.1999999999999" stroke="#000" stroke-width="1"/>
<text transform="translate(203.7,559.0999999999999) rotate(-45)" x="0" y="0" font-size="8.5" text-anchor="end" fill="#111" dy="0.35em">pES</text>
<line x1="179" y1="531.5" x2="179" y2="540" stroke="#111" stroke-width="0.7"/>
<line x1="175.7" y1="531.5" x2="182.3" y2="531.5" stroke="#111" stroke-width="0.7"/>
<line x1="175.7" y1="540" x2="182.3" y2="540" stroke="#111" stroke-width="0.7"/>
<line x1="200.7" y1="538.5" x2="200.7" y2="545" stroke="#111" stroke-width="0.7"/>
<line x1="197.39999999999998" y1="538.5" x2="204.0" y2="538.5" stroke="#111" stroke-width="0.7"/>
<line x1="197.39999999999998" y1="545" x2="204.0" y2="545" stroke="#111" stroke-width="0.7"/>
<circle cx="178.8" cy="482.6" r="1.2" fill="none" stroke="#111" stroke-width="0.7"/>
<circle cx="178.8" cy="508" r="1.2" fill="none" stroke="#111" stroke-width="0.7"/>
<circle cx="178.8" cy="513.2" r="1.2" fill="none" stroke="#111" stroke-width="0.7"/>
<circle cx="177.5" cy="526" r="1.2" fill="none" stroke="#111" stroke-width="0.7"/>
<circle cx="180.5" cy="526" r="1.2" fill="none" stroke="#111" stroke-width="0.7"/>
<circle cx="178" cy="532.5" r="1.2" fill="none" stroke="#111" stroke-width="0.7"/>
<circle cx="181" cy="533.6" r="1.2" fill="none" stroke="#111" stroke-width="0.7"/>
<circle cx="178.5" cy="539.5" r="1.2" fill="none" stroke="#111" stroke-width="0.7"/>
<circle cx="178.5" cy="542" r="1.2" fill="none" stroke="#111" stroke-width="0.7"/>
<circle cx="178.5" cy="544.5" r="1.2" fill="none" stroke="#111" stroke-width="0.7"/>
<circle cx="178.5" cy="547" r="1.2" fill="none" stroke="#111" stroke-width="0.7"/>
<circle cx="173" cy="550" r="1.2" fill="none" stroke="#111" stroke-width="0.7"/>
<circle cx="176" cy="550" r="1.2" fill="none" stroke="#111" stroke-width="0.7"/>
<circle cx="179" cy="550" r="1.2" fill="none" stroke="#111" stroke-width="0.7"/>
<circle cx="182" cy="550" r="1.2" fill="none" stroke="#111" stroke-width="0.7"/>
<circle cx="185" cy="550" r="1.2" fill="none" stroke="#111" stroke-width="0.7"/>
<circle cx="200.5" cy="517.3" r="1.2" fill="none" stroke="#111" stroke-width="0.7"/>
<circle cx="200.5" cy="523.2" r="1.2" fill="none" stroke="#111" stroke-width="0.7"/>
<circle cx="200.5" cy="529.5" r="1.2" fill="none" stroke="#111" stroke-width="0.7"/>
<circle cx="203.5" cy="534.5" r="1.2" fill="none" stroke="#111" stroke-width="0.7"/>
<circle cx="195.5" cy="536" r="1.2" fill="none" stroke="#111" stroke-width="0.7"/>
<circle cx="198.5" cy="535.5" r="1.2" fill="none" stroke="#111" stroke-width="0.7"/>
<circle cx="194" cy="539.6" r="1.2" fill="none" stroke="#111" stroke-width="0.7"/>
<circle cx="197" cy="539.6" r="1.2" fill="none" stroke="#111" stroke-width="0.7"/>
<circle cx="200" cy="539.6" r="1.2" fill="none" stroke="#111" stroke-width="0.7"/>
<circle cx="203" cy="539.6" r="1.2" fill="none" stroke="#111" stroke-width="0.7"/>
<circle cx="206" cy="539.6" r="1.2" fill="none" stroke="#111" stroke-width="0.7"/>
<circle cx="200.5" cy="543" r="1.2" fill="none" stroke="#111" stroke-width="0.7"/>
<circle cx="197" cy="551" r="1.2" fill="none" stroke="#111" stroke-width="0.7"/>
<circle cx="200" cy="549" r="1.2" fill="none" stroke="#111" stroke-width="0.7"/>
<circle cx="203" cy="548" r="1.2" fill="none" stroke="#111" stroke-width="0.7"/>
<circle cx="206" cy="550.5" r="1.2" fill="none" stroke="#111" stroke-width="0.7"/>
<line x1="177.2" y1="479.5" x2="201.5" y2="479.5" stroke="#666" stroke-width="1"/>
<text x="189.35" y="476.7" font-size="8.2" text-anchor="middle" font-weight="normal" fill="#222"  >ns</text>
<text x="289.4" y="466.8" font-size="8.4" text-anchor="middle" font-weight="normal" fill="#222"   textLength="20.20" lengthAdjust="spacingAndGlyphs">IFN-γ</text>
<text transform="translate(240.1,515.8) rotate(-90)" x="0" y="0" font-size="8.2" text-anchor="middle" fill="#3a3a3a" dy="0.35em" textLength="44.7" lengthAdjust="spacingAndGlyphs">Conc.(pg/mL)</text>
<line x1="264.5" y1="478.7" x2="264.5" y2="492" stroke="#000" stroke-width="1.15"/>
<line x1="264.5" y1="497.2" x2="264.5" y2="551.1" stroke="#000" stroke-width="1.15"/>
<line x1="261.9" y1="492" x2="267.1" y2="492" stroke="#000" stroke-width="1"/>
<line x1="261.9" y1="497.2" x2="267.1" y2="497.2" stroke="#000" stroke-width="1"/>
<line x1="261.0" y1="478.5" x2="264.5" y2="478.5" stroke="#000" stroke-width="1"/>
<text x="258.7" y="480.59999999999997" font-size="7.8" text-anchor="end" font-weight="normal" fill="#222"  >150</text>
<line x1="261.0" y1="490.5" x2="264.5" y2="490.5" stroke="#000" stroke-width="1"/>
<text x="258.7" y="492.9" font-size="7.8" text-anchor="end" font-weight="normal" fill="#222"  >75</text>
<line x1="261.0" y1="497.5" x2="264.5" y2="497.5" stroke="#000" stroke-width="1"/>
<text x="258.7" y="500.09999999999997" font-size="7.8" text-anchor="end" font-weight="normal" fill="#222"  >20</text>
<line x1="261.0" y1="510.5" x2="264.5" y2="510.5" stroke="#000" stroke-width="1"/>
<text x="258.7" y="512.8" font-size="7.8" text-anchor="end" font-weight="normal" fill="#222"  >15</text>
<line x1="261.0" y1="524.5" x2="264.5" y2="524.5" stroke="#000" stroke-width="1"/>
<text x="258.7" y="526.1999999999999" font-size="7.8" text-anchor="end" font-weight="normal" fill="#222"  >10</text>
<line x1="261.0" y1="537.5" x2="264.5" y2="537.5" stroke="#000" stroke-width="1"/>
<text x="258.7" y="539.3" font-size="7.8" text-anchor="end" font-weight="normal" fill="#222"  >5</text>
<line x1="261.0" y1="551.5" x2="264.5" y2="551.5" stroke="#000" stroke-width="1"/>
<text x="258.7" y="553.0" font-size="7.8" text-anchor="end" font-weight="normal" fill="#222"  >0</text>
<rect x="271.2" y="520" width="13.400000000000034" height="31.100000000000023" fill="#c8102e" stroke="#111" stroke-width="0.7"/>
<rect x="291.9" y="542.2" width="13.700000000000045" height="8.899999999999977" fill="#1b5596" stroke="#111" stroke-width="0.7"/>
<line x1="264.5" y1="551.5" x2="314.5" y2="551.5" stroke="#000" stroke-width="1.2"/>
<line x1="277.9" y1="551.1" x2="277.9" y2="554.5" stroke="#000" stroke-width="1"/>
<text transform="translate(279.9,558.0) rotate(-45)" x="0" y="0" font-size="8.5" text-anchor="end" fill="#111" dy="0.35em">HC</text>
<line x1="298.75" y1="551.1" x2="298.75" y2="554.5" stroke="#000" stroke-width="1"/>
<text transform="translate(301.75,557.4) rotate(-45)" x="0" y="0" font-size="8.5" text-anchor="end" fill="#111" dy="0.35em">pES</text>
<line x1="277.9" y1="503.8" x2="277.9" y2="536" stroke="#111" stroke-width="0.7"/>
<line x1="274.59999999999997" y1="503.8" x2="281.2" y2="503.8" stroke="#111" stroke-width="0.7"/>
<line x1="274.59999999999997" y1="536" x2="281.2" y2="536" stroke="#111" stroke-width="0.7"/>
<line x1="298.75" y1="539" x2="298.75" y2="545.5" stroke="#111" stroke-width="0.7"/>
<line x1="295.45" y1="539" x2="302.05" y2="539" stroke="#111" stroke-width="0.7"/>
<line x1="295.45" y1="545.5" x2="302.05" y2="545.5" stroke="#111" stroke-width="0.7"/>
<circle cx="278" cy="483" r="1.2" fill="none" stroke="#111" stroke-width="0.7"/>
<circle cx="278.5" cy="511.5" r="1.2" fill="none" stroke="#111" stroke-width="0.7"/>
<circle cx="277.5" cy="513.8" r="1.2" fill="none" stroke="#111" stroke-width="0.7"/>
<circle cx="278.5" cy="518.5" r="1.2" fill="none" stroke="#111" stroke-width="0.7"/>
<circle cx="277.5" cy="524.5" r="1.2" fill="none" stroke="#111" stroke-width="0.7"/>
<circle cx="278" cy="530" r="1.2" fill="none" stroke="#111" stroke-width="0.7"/>
<circle cx="276.5" cy="535" r="1.2" fill="none" stroke="#111" stroke-width="0.7"/>
<circle cx="279.5" cy="535" r="1.2" fill="none" stroke="#111" stroke-width="0.7"/>
<circle cx="277.5" cy="540" r="1.2" fill="none" stroke="#111" stroke-width="0.7"/>
<circle cx="272.5" cy="547.5" r="1.2" fill="none" stroke="#111" stroke-width="0.7"/>
<circle cx="275.5" cy="547.5" r="1.2" fill="none" stroke="#111" stroke-width="0.7"/>
<circle cx="278.5" cy="547.5" r="1.2" fill="none" stroke="#111" stroke-width="0.7"/>
<circle cx="281.5" cy="547.5" r="1.2" fill="none" stroke="#111" stroke-width="0.7"/>
<circle cx="298.5" cy="501.5" r="1.2" fill="none" stroke="#111" stroke-width="0.7"/>
<circle cx="298.5" cy="532" r="1.2" fill="none" stroke="#111" stroke-width="0.7"/>
<circle cx="300" cy="537" r="1.2" fill="none" stroke="#111" stroke-width="0.7"/>
<circle cx="297" cy="538.5" r="1.2" fill="none" stroke="#111" stroke-width="0.7"/>
<circle cx="295" cy="540" r="1.2" fill="none" stroke="#111" stroke-width="0.7"/>
<circle cx="294" cy="545" r="1.2" fill="none" stroke="#111" stroke-width="0.7"/>
<circle cx="297" cy="545" r="1.2" fill="none" stroke="#111" stroke-width="0.7"/>
<circle cx="300" cy="545" r="1.2" fill="none" stroke="#111" stroke-width="0.7"/>
<circle cx="303" cy="545" r="1.2" fill="none" stroke="#111" stroke-width="0.7"/>
<circle cx="295" cy="548.5" r="1.2" fill="none" stroke="#111" stroke-width="0.7"/>
<circle cx="299" cy="548.5" r="1.2" fill="none" stroke="#111" stroke-width="0.7"/>
<circle cx="302" cy="548.5" r="1.2" fill="none" stroke="#111" stroke-width="0.7"/>
<line x1="276" y1="479.5" x2="299" y2="479.5" stroke="#666" stroke-width="1"/>
<text x="287.5" y="476.59999999999997" font-size="8.2" text-anchor="middle" font-weight="normal" fill="#222"  >ns</text>
<text x="383.85" y="464.4" font-size="8.8" text-anchor="middle" font-weight="normal" fill="#222"   textLength="25.50" lengthAdjust="spacingAndGlyphs">CXCL9</text>
<text transform="translate(322.4,514) rotate(-90)" x="0" y="0" font-size="8.2" text-anchor="middle" fill="#3a3a3a" dy="0.35em" textLength="44.7" lengthAdjust="spacingAndGlyphs">Conc.(pg/mL)</text>
<line x1="359.5" y1="474.6" x2="359.5" y2="489" stroke="#000" stroke-width="1.15"/>
<line x1="359.5" y1="494.4" x2="359.5" y2="549.7" stroke="#000" stroke-width="1.15"/>
<line x1="356.9" y1="489" x2="362.1" y2="489" stroke="#000" stroke-width="1"/>
<line x1="356.9" y1="494.4" x2="362.1" y2="494.4" stroke="#000" stroke-width="1"/>
<line x1="356.0" y1="474.5" x2="359.5" y2="474.5" stroke="#000" stroke-width="1"/>
<text x="353.7" y="476.5" font-size="7.8" text-anchor="end" font-weight="normal" fill="#222"  >40000</text>
<line x1="356.0" y1="487.5" x2="359.5" y2="487.5" stroke="#000" stroke-width="1"/>
<text x="353.7" y="489.4" font-size="7.8" text-anchor="end" font-weight="normal" fill="#222"  >20000</text>
<line x1="356.0" y1="494.5" x2="359.5" y2="494.5" stroke="#000" stroke-width="1"/>
<text x="353.7" y="496.9" font-size="7.8" text-anchor="end" font-weight="normal" fill="#222"  >10000</text>
<line x1="356.0" y1="522.5" x2="359.5" y2="522.5" stroke="#000" stroke-width="1"/>
<text x="353.7" y="524.4" font-size="7.8" text-anchor="end" font-weight="normal" fill="#222"  >5000</text>
<line x1="356.0" y1="549.5" x2="359.5" y2="549.5" stroke="#000" stroke-width="1"/>
<text x="353.7" y="551.6" font-size="7.8" text-anchor="end" font-weight="normal" fill="#222"  >0</text>
<rect x="367.1" y="538.1" width="14.099999999999966" height="11.600000000000023" fill="#c8102e" stroke="#111" stroke-width="0.7"/>
<rect x="388.5" y="515.7" width="14.0" height="34.0" fill="#1b5596" stroke="#111" stroke-width="0.7"/>
<line x1="359.5" y1="549.5" x2="410" y2="549.5" stroke="#000" stroke-width="1.2"/>
<line x1="374.15" y1="549.7" x2="374.15" y2="553.1" stroke="#000" stroke-width="1"/>
<text transform="translate(376.15,556.6) rotate(-45)" x="0" y="0" font-size="8.5" text-anchor="end" fill="#111" dy="0.35em">HC</text>
<line x1="395.5" y1="549.7" x2="395.5" y2="553.1" stroke="#000" stroke-width="1"/>
<text transform="translate(398.5,556.0) rotate(-45)" x="0" y="0" font-size="8.5" text-anchor="end" fill="#111" dy="0.35em">pES</text>
<line x1="374.15" y1="533" x2="374.15" y2="543" stroke="#111" stroke-width="0.7"/>
<line x1="370.84999999999997" y1="533" x2="377.45" y2="533" stroke="#111" stroke-width="0.7"/>
<line x1="370.84999999999997" y1="543" x2="377.45" y2="543" stroke="#111" stroke-width="0.7"/>
<line x1="395.5" y1="507.4" x2="395.5" y2="523.5" stroke="#111" stroke-width="0.7"/>
<line x1="392.2" y1="507.4" x2="398.8" y2="507.4" stroke="#111" stroke-width="0.7"/>
<line x1="392.2" y1="523.5" x2="398.8" y2="523.5" stroke="#111" stroke-width="0.7"/>
<circle cx="373.9" cy="506.3" r="1.2" fill="none" stroke="#111" stroke-width="0.7"/>
<circle cx="373.9" cy="526.5" r="1.2" fill="none" stroke="#111" stroke-width="0.7"/>
<circle cx="373.9" cy="530" r="1.2" fill="none" stroke="#111" stroke-width="0.7"/>
<circle cx="372" cy="532.5" r="1.2" fill="none" stroke="#111" stroke-width="0.7"/>
<circle cx="375.5" cy="532.5" r="1.2" fill="none" stroke="#111" stroke-width="0.7"/>
<circle cx="371" cy="535" r="1.2" fill="none" stroke="#111" stroke-width="0.7"/>
<circle cx="374" cy="535" r="1.2" fill="none" stroke="#111" stroke-width="0.7"/>
<circle cx="377" cy="535" r="1.2" fill="none" stroke="#111" stroke-width="0.7"/>
<circle cx="370" cy="541" r="1.2" fill="none" stroke="#111" stroke-width="0.7"/>
<circle cx="373" cy="541" r="1.2" fill="none" stroke="#111" stroke-width="0.7"/>
<circle cx="376" cy="541" r="1.2" fill="none" stroke="#111" stroke-width="0.7"/>
<circle cx="379" cy="541" r="1.2" fill="none" stroke="#111" stroke-width="0.7"/>
<circle cx="371.5" cy="545" r="1.2" fill="none" stroke="#111" stroke-width="0.7"/>
<circle cx="374.5" cy="545" r="1.2" fill="none" stroke="#111" stroke-width="0.7"/>
<circle cx="377.5" cy="545" r="1.2" fill="none" stroke="#111" stroke-width="0.7"/>
<circle cx="395.5" cy="480.7" r="1.2" fill="none" stroke="#111" stroke-width="0.7"/>
<circle cx="395.5" cy="498.5" r="1.2" fill="none" stroke="#111" stroke-width="0.7"/>
<circle cx="395.5" cy="502.3" r="1.2" fill="none" stroke="#111" stroke-width="0.7"/>
<circle cx="395.5" cy="506.5" r="1.2" fill="none" stroke="#111" stroke-width="0.7"/>
<circle cx="393.5" cy="508.4" r="1.2" fill="none" stroke="#111" stroke-width="0.7"/>
<circle cx="396.5" cy="508.4" r="1.2" fill="none" stroke="#111" stroke-width="0.7"/>
<circle cx="395.5" cy="520" r="1.2" fill="none" stroke="#111" stroke-width="0.7"/>
<circle cx="395.5" cy="523.5" r="1.2" fill="none" stroke="#111" stroke-width="0.7"/>
<circle cx="389.5" cy="535" r="1.2" fill="none" stroke="#111" stroke-width="0.7"/>
<circle cx="392.5" cy="535" r="1.2" fill="none" stroke="#111" stroke-width="0.7"/>
<circle cx="395.5" cy="535" r="1.2" fill="none" stroke="#111" stroke-width="0.7"/>
<circle cx="398.5" cy="535" r="1.2" fill="none" stroke="#111" stroke-width="0.7"/>
<circle cx="401" cy="535" r="1.2" fill="none" stroke="#111" stroke-width="0.7"/>
<circle cx="394" cy="538" r="1.2" fill="none" stroke="#111" stroke-width="0.7"/>
<circle cx="397" cy="540" r="1.2" fill="none" stroke="#111" stroke-width="0.7"/>
<circle cx="394.5" cy="542" r="1.2" fill="none" stroke="#111" stroke-width="0.7"/>
<circle cx="396.5" cy="543" r="1.2" fill="none" stroke="#111" stroke-width="0.7"/>
<circle cx="392.5" cy="544.5" r="1.2" fill="none" stroke="#111" stroke-width="0.7"/>
<line x1="374.2" y1="476.5" x2="394.8" y2="476.5" stroke="#666" stroke-width="1"/>
<polygon points="382.95,472.75 383.26,473.47 384.04,473.54 383.45,474.06 383.63,474.83 382.95,474.43 382.27,474.83 382.45,474.06 381.86,473.54 382.64,473.47" fill="#222"/>
<polygon points="386.05,472.75 386.36,473.47 387.14,473.54 386.55,474.06 386.73,474.83 386.05,474.43 385.37,474.83 385.55,474.06 384.96,473.54 385.74,473.47" fill="#222"/>
<text x="482.15" y="462.8" font-size="7.2" text-anchor="middle" font-weight="normal" fill="#222"   textLength="24.90" lengthAdjust="spacingAndGlyphs">CXCL10</text>
<text transform="translate(428.2,515) rotate(-90)" x="0" y="0" font-size="8.2" text-anchor="middle" fill="#3a3a3a" dy="0.35em" textLength="44.7" lengthAdjust="spacingAndGlyphs">Conc.(pg/mL)</text>
<line x1="460.5" y1="477.5" x2="460.5" y2="491.2" stroke="#000" stroke-width="1.15"/>
<line x1="460.5" y1="496.3" x2="460.5" y2="549.3" stroke="#000" stroke-width="1.15"/>
<line x1="457.9" y1="491.2" x2="463.1" y2="491.2" stroke="#000" stroke-width="1"/>
<line x1="457.9" y1="496.3" x2="463.1" y2="496.3" stroke="#000" stroke-width="1"/>
<line x1="457.0" y1="477.5" x2="460.5" y2="477.5" stroke="#000" stroke-width="1"/>
<text x="454.7" y="479.4" font-size="7.8" text-anchor="end" font-weight="normal" fill="#222"  >4000</text>
<line x1="457.0" y1="491.5" x2="460.5" y2="491.5" stroke="#000" stroke-width="1"/>
<text x="454.7" y="493.09999999999997" font-size="7.8" text-anchor="end" font-weight="normal" fill="#222"  >2000</text>
<line x1="457.0" y1="496.5" x2="460.5" y2="496.5" stroke="#000" stroke-width="1"/>
<line x1="457.0" y1="505.5" x2="460.5" y2="505.5" stroke="#000" stroke-width="1"/>
<text x="454.7" y="507.5" font-size="7.8" text-anchor="end" font-weight="normal" fill="#222"  >500</text>
<line x1="457.0" y1="527.5" x2="460.5" y2="527.5" stroke="#000" stroke-width="1"/>
<text x="454.7" y="529.1999999999999" font-size="7.8" text-anchor="end" font-weight="normal" fill="#222"  >250</text>
<line x1="457.0" y1="549.5" x2="460.5" y2="549.5" stroke="#000" stroke-width="1"/>
<text x="454.7" y="551.1999999999999" font-size="7.8" text-anchor="end" font-weight="normal" fill="#222"  >0</text>
<rect x="467.4" y="536.1" width="13.5" height="13.199999999999932" fill="#c8102e" stroke="#111" stroke-width="0.7"/>
<rect x="488.2" y="514.2" width="13.400000000000034" height="35.09999999999991" fill="#1b5596" stroke="#111" stroke-width="0.7"/>
<line x1="460.5" y1="549.5" x2="510.8" y2="549.5" stroke="#000" stroke-width="1.2"/>
<line x1="474.15" y1="549.3" x2="474.15" y2="552.6999999999999" stroke="#000" stroke-width="1"/>
<text transform="translate(476.15,556.1999999999999) rotate(-45)" x="0" y="0" font-size="8.5" text-anchor="end" fill="#111" dy="0.35em">HC</text>
<line x1="494.9" y1="549.3" x2="494.9" y2="552.6999999999999" stroke="#000" stroke-width="1"/>
<text transform="translate(497.9,555.5999999999999) rotate(-45)" x="0" y="0" font-size="8.5" text-anchor="end" fill="#111" dy="0.35em">pES</text>
<line x1="474.15" y1="534.5" x2="474.15" y2="539" stroke="#111" stroke-width="0.7"/>
<line x1="470.84999999999997" y1="534.5" x2="477.45" y2="534.5" stroke="#111" stroke-width="0.7"/>
<line x1="470.84999999999997" y1="539" x2="477.45" y2="539" stroke="#111" stroke-width="0.7"/>
<line x1="494.9" y1="498.8" x2="494.9" y2="531" stroke="#111" stroke-width="0.7"/>
<line x1="491.59999999999997" y1="498.8" x2="498.2" y2="498.8" stroke="#111" stroke-width="0.7"/>
<line x1="491.59999999999997" y1="531" x2="498.2" y2="531" stroke="#111" stroke-width="0.7"/>
<circle cx="474" cy="509.5" r="1.2" fill="none" stroke="#111" stroke-width="0.7"/>
<circle cx="474" cy="512.5" r="1.2" fill="none" stroke="#111" stroke-width="0.7"/>
<circle cx="472.5" cy="524.5" r="1.2" fill="none" stroke="#111" stroke-width="0.7"/>
<circle cx="475" cy="523.5" r="1.2" fill="none" stroke="#111" stroke-width="0.7"/>
<circle cx="474" cy="531" r="1.2" fill="none" stroke="#111" stroke-width="0.7"/>
<circle cx="474" cy="534.5" r="1.2" fill="none" stroke="#111" stroke-width="0.7"/>
<circle cx="471" cy="540" r="1.2" fill="none" stroke="#111" stroke-width="0.7"/>
<circle cx="474" cy="541" r="1.2" fill="none" stroke="#111" stroke-width="0.7"/>
<circle cx="477" cy="542" r="1.2" fill="none" stroke="#111" stroke-width="0.7"/>
<circle cx="469" cy="543.5" r="1.2" fill="none" stroke="#111" stroke-width="0.7"/>
<circle cx="472" cy="544.5" r="1.2" fill="none" stroke="#111" stroke-width="0.7"/>
<circle cx="475" cy="545" r="1.2" fill="none" stroke="#111" stroke-width="0.7"/>
<circle cx="478" cy="543" r="1.2" fill="none" stroke="#111" stroke-width="0.7"/>
<circle cx="474" cy="546" r="1.2" fill="none" stroke="#111" stroke-width="0.7"/>
<circle cx="473" cy="548" r="1.2" fill="none" stroke="#111" stroke-width="0.7"/>
<circle cx="494.8" cy="477.8" r="1.2" fill="none" stroke="#111" stroke-width="0.7"/>
<circle cx="494.8" cy="497" r="1.2" fill="none" stroke="#111" stroke-width="0.7"/>
<circle cx="494.8" cy="504.8" r="1.2" fill="none" stroke="#111" stroke-width="0.7"/>
<circle cx="492" cy="514.5" r="1.2" fill="none" stroke="#111" stroke-width="0.7"/>
<circle cx="496" cy="514.5" r="1.2" fill="none" stroke="#111" stroke-width="0.7"/>
<circle cx="494.8" cy="523" r="1.2" fill="none" stroke="#111" stroke-width="0.7"/>
<circle cx="490" cy="527" r="1.2" fill="none" stroke="#111" stroke-width="0.7"/>
<circle cx="494" cy="528" r="1.2" fill="none" stroke="#111" stroke-width="0.7"/>
<circle cx="497.5" cy="527.5" r="1.2" fill="none" stroke="#111" stroke-width="0.7"/>
<circle cx="500" cy="527" r="1.2" fill="none" stroke="#111" stroke-width="0.7"/>
<circle cx="493" cy="533" r="1.2" fill="none" stroke="#111" stroke-width="0.7"/>
<circle cx="497" cy="534" r="1.2" fill="none" stroke="#111" stroke-width="0.7"/>
<circle cx="489" cy="536" r="1.2" fill="none" stroke="#111" stroke-width="0.7"/>
<circle cx="493" cy="538" r="1.2" fill="none" stroke="#111" stroke-width="0.7"/>
<circle cx="497" cy="537" r="1.2" fill="none" stroke="#111" stroke-width="0.7"/>
<circle cx="500.5" cy="539" r="1.2" fill="none" stroke="#111" stroke-width="0.7"/>
<circle cx="493" cy="542" r="1.2" fill="none" stroke="#111" stroke-width="0.7"/>
<circle cx="496.5" cy="543" r="1.2" fill="none" stroke="#111" stroke-width="0.7"/>
<circle cx="494.5" cy="545.5" r="1.2" fill="none" stroke="#111" stroke-width="0.7"/>
<line x1="472.2" y1="475.5" x2="494.8" y2="475.5" stroke="#666" stroke-width="1"/>
<polygon points="483.50,471.20 483.85,472.02 484.74,472.10 484.07,472.68 484.26,473.55 483.50,473.10 482.74,473.55 482.93,472.68 482.26,472.10 483.15,472.02" fill="#222"/>
<text x="89.4" y="592.7" font-size="8.3" text-anchor="middle" font-weight="normal" fill="#222"   textLength="33.00" lengthAdjust="spacingAndGlyphs">IL-12p40</text>
<text transform="translate(35.6,638.7) rotate(-90)" x="0" y="0" font-size="8.2" text-anchor="middle" fill="#3a3a3a" dy="0.35em" textLength="44.7" lengthAdjust="spacingAndGlyphs">Conc.(pg/mL)</text>
<line x1="64.5" y1="600.9" x2="64.5" y2="673.7" stroke="#000" stroke-width="1.15"/>
<line x1="61.0" y1="600.5" x2="64.5" y2="600.5" stroke="#000" stroke-width="1"/>
<text x="58.7" y="602.8" font-size="7.8" text-anchor="end" font-weight="normal" fill="#222"  >400</text>
<line x1="61.0" y1="619.5" x2="64.5" y2="619.5" stroke="#000" stroke-width="1"/>
<text x="58.7" y="621.0" font-size="7.8" text-anchor="end" font-weight="normal" fill="#222"  >300</text>
<line x1="61.0" y1="637.5" x2="64.5" y2="637.5" stroke="#000" stroke-width="1"/>
<text x="58.7" y="639.1999999999999" font-size="7.8" text-anchor="end" font-weight="normal" fill="#222"  >200</text>
<line x1="61.0" y1="655.5" x2="64.5" y2="655.5" stroke="#000" stroke-width="1"/>
<text x="58.7" y="657.3" font-size="7.8" text-anchor="end" font-weight="normal" fill="#222"  >100</text>
<line x1="61.0" y1="673.5" x2="64.5" y2="673.5" stroke="#000" stroke-width="1"/>
<text x="58.7" y="675.6" font-size="7.8" text-anchor="end" font-weight="normal" fill="#222"  >0</text>
<rect x="71.7" y="662.2" width="13.200000000000003" height="11.5" fill="#c8102e" stroke="#111" stroke-width="0.7"/>
<rect x="92.6" y="651.9" width="13.400000000000006" height="21.800000000000068" fill="#1b5596" stroke="#111" stroke-width="0.7"/>
<line x1="64.5" y1="673.5" x2="114.5" y2="673.5" stroke="#000" stroke-width="1.2"/>
<line x1="78.30000000000001" y1="673.7" x2="78.30000000000001" y2="677.1" stroke="#000" stroke-width="1"/>
<text transform="translate(80.30000000000001,680.6) rotate(-45)" x="0" y="0" font-size="8.5" text-anchor="end" fill="#111" dy="0.35em">HC</text>
<line x1="99.3" y1="673.7" x2="99.3" y2="677.1" stroke="#000" stroke-width="1"/>
<text transform="translate(102.3,680.0) rotate(-45)" x="0" y="0" font-size="8.5" text-anchor="end" fill="#111" dy="0.35em">pES</text>
<line x1="78.3" y1="659" x2="78.3" y2="665" stroke="#111" stroke-width="0.7"/>
<line x1="75.0" y1="659" x2="81.6" y2="659" stroke="#111" stroke-width="0.7"/>
<line x1="75.0" y1="665" x2="81.6" y2="665" stroke="#111" stroke-width="0.7"/>
<line x1="99.3" y1="645.5" x2="99.3" y2="657" stroke="#111" stroke-width="0.7"/>
<line x1="96.0" y1="645.5" x2="102.6" y2="645.5" stroke="#111" stroke-width="0.7"/>
<line x1="96.0" y1="657" x2="102.6" y2="657" stroke="#111" stroke-width="0.7"/>
<circle cx="77.5" cy="645.5" r="1.2" fill="none" stroke="#111" stroke-width="0.7"/>
<circle cx="79.5" cy="646" r="1.2" fill="none" stroke="#111" stroke-width="0.7"/>
<circle cx="77" cy="648.5" r="1.2" fill="none" stroke="#111" stroke-width="0.7"/>
<circle cx="79.5" cy="648.8" r="1.2" fill="none" stroke="#111" stroke-width="0.7"/>
<circle cx="78.5" cy="650.5" r="1.2" fill="none" stroke="#111" stroke-width="0.7"/>
<circle cx="79" cy="652" r="1.2" fill="none" stroke="#111" stroke-width="0.7"/>
<circle cx="78.5" cy="654.5" r="1.2" fill="none" stroke="#111" stroke-width="0.7"/>
<circle cx="80.5" cy="655" r="1.2" fill="none" stroke="#111" stroke-width="0.7"/>
<circle cx="74" cy="659" r="1.2" fill="none" stroke="#111" stroke-width="0.7"/>
<circle cx="77" cy="659" r="1.2" fill="none" stroke="#111" stroke-width="0.7"/>
<circle cx="80" cy="659" r="1.2" fill="none" stroke="#111" stroke-width="0.7"/>
<circle cx="82.5" cy="659" r="1.2" fill="none" stroke="#111" stroke-width="0.7"/>
<circle cx="76" cy="664" r="1.2" fill="none" stroke="#111" stroke-width="0.7"/>
<circle cx="79" cy="666" r="1.2" fill="none" stroke="#111" stroke-width="0.7"/>
<circle cx="77" cy="669" r="1.2" fill="none" stroke="#111" stroke-width="0.7"/>
<circle cx="80" cy="670" r="1.2" fill="none" stroke="#111" stroke-width="0.7"/>
<circle cx="74" cy="671" r="1.2" fill="none" stroke="#111" stroke-width="0.7"/>
<circle cx="78" cy="672" r="1.2" fill="none" stroke="#111" stroke-width="0.7"/>
<circle cx="83" cy="668" r="1.2" fill="none" stroke="#111" stroke-width="0.7"/>
<circle cx="99.3" cy="614.8" r="1.2" fill="none" stroke="#111" stroke-width="0.7"/>
<circle cx="99.3" cy="620.5" r="1.2" fill="none" stroke="#111" stroke-width="0.7"/>
<circle cx="99.3" cy="630.3" r="1.2" fill="none" stroke="#111" stroke-width="0.7"/>
<circle cx="97" cy="634.5" r="1.2" fill="none" stroke="#111" stroke-width="0.7"/>
<circle cx="101.5" cy="635" r="1.2" fill="none" stroke="#111" stroke-width="0.7"/>
<circle cx="99.3" cy="638.8" r="1.2" fill="none" stroke="#111" stroke-width="0.7"/>
<circle cx="99.3" cy="642.2" r="1.2" fill="none" stroke="#111" stroke-width="0.7"/>
<circle cx="93.5" cy="644.8" r="1.2" fill="none" stroke="#111" stroke-width="0.7"/>
<circle cx="97.5" cy="645.2" r="1.2" fill="none" stroke="#111" stroke-width="0.7"/>
<circle cx="101.5" cy="646.3" r="1.2" fill="none" stroke="#111" stroke-width="0.7"/>
<circle cx="94" cy="659" r="1.2" fill="none" stroke="#111" stroke-width="0.7"/>
<circle cx="100" cy="663" r="1.2" fill="none" stroke="#111" stroke-width="0.7"/>
<circle cx="104" cy="661" r="1.2" fill="none" stroke="#111" stroke-width="0.7"/>
<circle cx="94" cy="667" r="1.2" fill="none" stroke="#111" stroke-width="0.7"/>
<circle cx="99" cy="668" r="1.2" fill="none" stroke="#111" stroke-width="0.7"/>
<circle cx="104" cy="667" r="1.2" fill="none" stroke="#111" stroke-width="0.7"/>
<circle cx="96" cy="671" r="1.2" fill="none" stroke="#111" stroke-width="0.7"/>
<circle cx="102" cy="671" r="1.2" fill="none" stroke="#111" stroke-width="0.7"/>
<line x1="77.2" y1="603.5" x2="99.8" y2="603.5" stroke="#666" stroke-width="1"/>
<polygon points="84.77,597.75 85.27,598.91 86.53,599.03 85.58,599.86 85.86,601.10 84.77,600.45 83.68,601.10 83.96,599.86 83.01,599.03 84.27,598.91" fill="#222"/>
<polygon points="88.50,597.75 89.00,598.91 90.26,599.03 89.31,599.86 89.59,601.10 88.50,600.45 87.41,601.10 87.69,599.86 86.74,599.03 88.00,598.91" fill="#222"/>
<polygon points="92.23,597.75 92.73,598.91 93.99,599.03 93.04,599.86 93.32,601.10 92.23,600.45 91.14,601.10 91.42,599.86 90.47,599.03 91.73,598.91" fill="#222"/>
<text x="186.75" y="592.6" font-size="8.6" text-anchor="middle" font-weight="normal" fill="#222"   textLength="18.30" lengthAdjust="spacingAndGlyphs">IL-10</text>
<text transform="translate(139.9,638.5) rotate(-90)" x="0" y="0" font-size="8.2" text-anchor="middle" fill="#3a3a3a" dy="0.35em" textLength="44.7" lengthAdjust="spacingAndGlyphs">Conc.(pg/mL)</text>
<line x1="164.5" y1="600.5" x2="164.5" y2="614" stroke="#000" stroke-width="1.15"/>
<line x1="164.5" y1="619.8" x2="164.5" y2="673.7" stroke="#000" stroke-width="1.15"/>
<line x1="161.9" y1="614" x2="167.1" y2="614" stroke="#000" stroke-width="1"/>
<line x1="161.9" y1="619.8" x2="167.1" y2="619.8" stroke="#000" stroke-width="1"/>
<line x1="161.0" y1="600.5" x2="164.5" y2="600.5" stroke="#000" stroke-width="1"/>
<text x="158.7" y="602.4" font-size="7.8" text-anchor="end" font-weight="normal" fill="#222"  >300</text>
<line x1="161.0" y1="610.5" x2="164.5" y2="610.5" stroke="#000" stroke-width="1"/>
<text x="158.7" y="612.3" font-size="7.8" text-anchor="end" font-weight="normal" fill="#222"  >150</text>
<line x1="161.0" y1="619.5" x2="164.5" y2="619.5" stroke="#000" stroke-width="1"/>
<line x1="161.0" y1="633.5" x2="164.5" y2="633.5" stroke="#000" stroke-width="1"/>
<text x="158.7" y="635.3" font-size="7.8" text-anchor="end" font-weight="normal" fill="#222"  >60</text>
<line x1="161.0" y1="653.5" x2="164.5" y2="653.5" stroke="#000" stroke-width="1"/>
<text x="158.7" y="655.1" font-size="7.8" text-anchor="end" font-weight="normal" fill="#222"  >30</text>
<line x1="161.0" y1="673.5" x2="164.5" y2="673.5" stroke="#000" stroke-width="1"/>
<text x="158.7" y="675.6" font-size="7.8" text-anchor="end" font-weight="normal" fill="#222"  >0</text>
<rect x="171.5" y="671.5" width="13.5" height="2.2000000000000455" fill="#c8102e" stroke="#111" stroke-width="0.7"/>
<rect x="192.6" y="643.6" width="13.400000000000006" height="30.100000000000023" fill="#1b5596" stroke="#111" stroke-width="0.7"/>
<line x1="164.5" y1="673.5" x2="214" y2="673.5" stroke="#000" stroke-width="1.2"/>
<line x1="178.25" y1="673.7" x2="178.25" y2="677.1" stroke="#000" stroke-width="1"/>
<text transform="translate(180.25,680.6) rotate(-45)" x="0" y="0" font-size="8.5" text-anchor="end" fill="#111" dy="0.35em">HC</text>
<line x1="199.3" y1="673.7" x2="199.3" y2="677.1" stroke="#000" stroke-width="1"/>
<text transform="translate(202.3,680.0) rotate(-45)" x="0" y="0" font-size="8.5" text-anchor="end" fill="#111" dy="0.35em">pES</text>
<line x1="199.3" y1="630.6" x2="199.3" y2="657" stroke="#111" stroke-width="0.7"/>
<line x1="196.0" y1="630.6" x2="202.60000000000002" y2="630.6" stroke="#111" stroke-width="0.7"/>
<line x1="196.0" y1="657" x2="202.60000000000002" y2="657" stroke="#111" stroke-width="0.7"/>
<circle cx="199.3" cy="604" r="1.2" fill="none" stroke="#111" stroke-width="0.7"/>
<circle cx="199.3" cy="635" r="1.2" fill="none" stroke="#111" stroke-width="0.7"/>
<circle cx="199.3" cy="637.5" r="1.2" fill="none" stroke="#111" stroke-width="0.7"/>
<circle cx="199.3" cy="640" r="1.2" fill="none" stroke="#111" stroke-width="0.7"/>
<circle cx="197" cy="648.5" r="1.2" fill="none" stroke="#111" stroke-width="0.7"/>
<circle cx="199.5" cy="648.5" r="1.2" fill="none" stroke="#111" stroke-width="0.7"/>
<circle cx="202" cy="648.5" r="1.2" fill="none" stroke="#111" stroke-width="0.7"/>
<circle cx="199.5" cy="656" r="1.2" fill="none" stroke="#111" stroke-width="0.7"/>
<circle cx="201.5" cy="656.5" r="1.2" fill="none" stroke="#111" stroke-width="0.7"/>
<circle cx="197.5" cy="663" r="1.2" fill="none" stroke="#111" stroke-width="0.7"/>
<circle cx="200.5" cy="663" r="1.2" fill="none" stroke="#111" stroke-width="0.7"/>
<circle cx="197.5" cy="666" r="1.2" fill="none" stroke="#111" stroke-width="0.7"/>
<circle cx="200.5" cy="666" r="1.2" fill="none" stroke="#111" stroke-width="0.7"/>
<circle cx="195" cy="669.5" r="1.2" fill="none" stroke="#111" stroke-width="0.7"/>
<circle cx="199" cy="670.5" r="1.2" fill="none" stroke="#111" stroke-width="0.7"/>
<circle cx="202" cy="671" r="1.2" fill="none" stroke="#111" stroke-width="0.7"/>
<circle cx="178.5" cy="665.5" r="1.2" fill="none" stroke="#111" stroke-width="0.7"/>
<circle cx="173" cy="672" r="1.2" fill="none" stroke="#111" stroke-width="0.7"/>
<circle cx="176" cy="671" r="1.2" fill="none" stroke="#111" stroke-width="0.7"/>
<circle cx="178.5" cy="670" r="1.2" fill="none" stroke="#111" stroke-width="0.7"/>
<circle cx="181" cy="671" r="1.2" fill="none" stroke="#111" stroke-width="0.7"/>
<circle cx="184" cy="672" r="1.2" fill="none" stroke="#111" stroke-width="0.7"/>
<circle cx="177" cy="673" r="1.2" fill="none" stroke="#111" stroke-width="0.7"/>
<circle cx="180" cy="673" r="1.2" fill="none" stroke="#111" stroke-width="0.7"/>
<circle cx="175" cy="670.5" r="1.2" fill="none" stroke="#111" stroke-width="0.7"/>
<circle cx="179" cy="668" r="1.2" fill="none" stroke="#111" stroke-width="0.7"/>
<line x1="176" y1="601.5" x2="198.3" y2="601.5" stroke="#666" stroke-width="1"/>
<polygon points="183.42,596.25 183.92,597.41 185.18,597.53 184.23,598.36 184.51,599.60 183.42,598.95 182.33,599.60 182.61,598.36 181.66,597.53 182.92,597.41" fill="#222"/>
<polygon points="187.15,596.25 187.65,597.41 188.91,597.53 187.96,598.36 188.24,599.60 187.15,598.95 186.06,599.60 186.34,598.36 185.39,597.53 186.65,597.41" fill="#222"/>
<polygon points="190.88,596.25 191.38,597.41 192.64,597.53 191.69,598.36 191.97,599.60 190.88,598.95 189.79,599.60 190.07,598.36 189.12,597.53 190.38,597.41" fill="#222"/>
<text x="288.25" y="590.9" font-size="8.6" text-anchor="middle" font-weight="normal" fill="#222"   textLength="18.30" lengthAdjust="spacingAndGlyphs">IL-18</text>
<text transform="translate(236.5,638.7) rotate(-90)" x="0" y="0" font-size="8.2" text-anchor="middle" fill="#3a3a3a" dy="0.35em" textLength="44.7" lengthAdjust="spacingAndGlyphs">Conc.(pg/mL)</text>
<line x1="264.5" y1="600.9" x2="264.5" y2="621.3" stroke="#000" stroke-width="1.15"/>
<line x1="264.5" y1="626.8" x2="264.5" y2="673.9" stroke="#000" stroke-width="1.15"/>
<line x1="261.9" y1="621.3" x2="267.1" y2="621.3" stroke="#000" stroke-width="1"/>
<line x1="261.9" y1="626.8" x2="267.1" y2="626.8" stroke="#000" stroke-width="1"/>
<line x1="261.0" y1="600.5" x2="264.5" y2="600.5" stroke="#000" stroke-width="1"/>
<text x="258.7" y="602.8" font-size="7.8" text-anchor="end" font-weight="normal" fill="#222"  >1600</text>
<line x1="261.0" y1="614.5" x2="264.5" y2="614.5" stroke="#000" stroke-width="1"/>
<text x="258.7" y="616.1999999999999" font-size="7.8" text-anchor="end" font-weight="normal" fill="#222"  >800</text>
<line x1="261.0" y1="626.5" x2="264.5" y2="626.5" stroke="#000" stroke-width="1"/>
<text x="258.7" y="628.6999999999999" font-size="7.8" text-anchor="end" font-weight="normal" fill="#222"  >400</text>
<line x1="261.0" y1="638.5" x2="264.5" y2="638.5" stroke="#000" stroke-width="1"/>
<text x="258.7" y="640.4" font-size="7.8" text-anchor="end" font-weight="normal" fill="#222"  >300</text>
<line x1="261.0" y1="650.5" x2="264.5" y2="650.5" stroke="#000" stroke-width="1"/>
<text x="258.7" y="652.1999999999999" font-size="7.8" text-anchor="end" font-weight="normal" fill="#222"  >200</text>
<line x1="261.0" y1="662.5" x2="264.5" y2="662.5" stroke="#000" stroke-width="1"/>
<text x="258.7" y="664.1" font-size="7.8" text-anchor="end" font-weight="normal" fill="#222"  >100</text>
<line x1="261.0" y1="673.5" x2="264.5" y2="673.5" stroke="#000" stroke-width="1"/>
<text x="258.7" y="675.8" font-size="7.8" text-anchor="end" font-weight="normal" fill="#222"  >0</text>
<rect x="271.2" y="669.2" width="13.400000000000034" height="4.699999999999932" fill="#c8102e" stroke="#111" stroke-width="0.7"/>
<rect x="291.9" y="643" width="13.800000000000011" height="30.899999999999977" fill="#1b5596" stroke="#111" stroke-width="0.7"/>
<line x1="264.5" y1="673.5" x2="313" y2="673.5" stroke="#000" stroke-width="1.2"/>
<line x1="277.9" y1="673.9" x2="277.9" y2="677.3" stroke="#000" stroke-width="1"/>
<text transform="translate(279.9,680.8) rotate(-45)" x="0" y="0" font-size="8.5" text-anchor="end" fill="#111" dy="0.35em">HC</text>
<line x1="298.79999999999995" y1="673.9" x2="298.79999999999995" y2="677.3" stroke="#000" stroke-width="1"/>
<text transform="translate(301.79999999999995,680.1999999999999) rotate(-45)" x="0" y="0" font-size="8.5" text-anchor="end" fill="#111" dy="0.35em">pES</text>
<line x1="298.8" y1="634.4" x2="298.8" y2="652" stroke="#111" stroke-width="0.7"/>
<line x1="295.5" y1="634.4" x2="302.1" y2="634.4" stroke="#111" stroke-width="0.7"/>
<line x1="295.5" y1="652" x2="302.1" y2="652" stroke="#111" stroke-width="0.7"/>
<circle cx="299.2" cy="603" r="1.2" fill="none" stroke="#111" stroke-width="0.7"/>
<circle cx="299" cy="614.5" r="1.2" fill="none" stroke="#111" stroke-width="0.7"/>
<circle cx="297" cy="618.4" r="1.2" fill="none" stroke="#111" stroke-width="0.7"/>
<circle cx="301" cy="617" r="1.2" fill="none" stroke="#111" stroke-width="0.7"/>
<circle cx="304.5" cy="618" r="1.2" fill="none" stroke="#111" stroke-width="0.7"/>
<circle cx="296.5" cy="619" r="1.2" fill="none" stroke="#111" stroke-width="0.7"/>
<circle cx="297.5" cy="645.5" r="1.2" fill="none" stroke="#111" stroke-width="0.7"/>
<circle cx="300.5" cy="647.5" r="1.2" fill="none" stroke="#111" stroke-width="0.7"/>
<circle cx="297.5" cy="650" r="1.2" fill="none" stroke="#111" stroke-width="0.7"/>
<circle cx="300.5" cy="652.5" r="1.2" fill="none" stroke="#111" stroke-width="0.7"/>
<circle cx="300.5" cy="658.5" r="1.2" fill="none" stroke="#111" stroke-width="0.7"/>
<circle cx="297" cy="659.5" r="1.2" fill="none" stroke="#111" stroke-width="0.7"/>
<circle cx="293.5" cy="664.5" r="1.2" fill="none" stroke="#111" stroke-width="0.7"/>
<circle cx="296.5" cy="664.5" r="1.2" fill="none" stroke="#111" stroke-width="0.7"/>
<circle cx="300" cy="664.5" r="1.2" fill="none" stroke="#111" stroke-width="0.7"/>
<circle cx="303.5" cy="664.5" r="1.2" fill="none" stroke="#111" stroke-width="0.7"/>
<circle cx="297" cy="667" r="1.2" fill="none" stroke="#111" stroke-width="0.7"/>
<circle cx="300" cy="669" r="1.2" fill="none" stroke="#111" stroke-width="0.7"/>
<circle cx="303" cy="666.5" r="1.2" fill="none" stroke="#111" stroke-width="0.7"/>
<circle cx="299" cy="670.5" r="1.2" fill="none" stroke="#111" stroke-width="0.7"/>
<circle cx="278" cy="662.5" r="1.2" fill="none" stroke="#111" stroke-width="0.7"/>
<circle cx="272" cy="667" r="1.2" fill="none" stroke="#111" stroke-width="0.7"/>
<circle cx="275" cy="667" r="1.2" fill="none" stroke="#111" stroke-width="0.7"/>
<circle cx="278" cy="667" r="1.2" fill="none" stroke="#111" stroke-width="0.7"/>
<circle cx="281" cy="667" r="1.2" fill="none" stroke="#111" stroke-width="0.7"/>
<circle cx="283.5" cy="667" r="1.2" fill="none" stroke="#111" stroke-width="0.7"/>
<circle cx="274" cy="670" r="1.2" fill="none" stroke="#111" stroke-width="0.7"/>
<circle cx="277" cy="670" r="1.2" fill="none" stroke="#111" stroke-width="0.7"/>
<circle cx="280" cy="670" r="1.2" fill="none" stroke="#111" stroke-width="0.7"/>
<line x1="276.6" y1="600.5" x2="299.8" y2="600.5" stroke="#666" stroke-width="1"/>
<polygon points="282.61,594.75 283.11,595.91 284.36,596.03 283.41,596.86 283.69,598.10 282.61,597.45 281.52,598.10 281.80,596.86 280.85,596.03 282.10,595.91" fill="#222"/>
<polygon points="286.34,594.75 286.84,595.91 288.09,596.03 287.14,596.86 287.42,598.10 286.34,597.45 285.25,598.10 285.53,596.86 284.58,596.03 285.83,595.91" fill="#222"/>
<polygon points="290.06,594.75 290.57,595.91 291.82,596.03 290.87,596.86 291.15,598.10 290.06,597.45 288.98,598.10 289.26,596.86 288.31,596.03 289.56,595.91" fill="#222"/>
<polygon points="293.80,594.75 294.30,595.91 295.55,596.03 294.60,596.86 294.88,598.10 293.80,597.45 292.71,598.10 292.99,596.86 292.04,596.03 293.29,595.91" fill="#222"/>
<text x="384.4" y="585.9" font-size="8.3" text-anchor="middle" font-weight="normal" fill="#222"   textLength="13.20" lengthAdjust="spacingAndGlyphs">IL-2</text>
<text transform="translate(339,635.7) rotate(-90)" x="0" y="0" font-size="8.2" text-anchor="middle" fill="#3a3a3a" dy="0.35em" textLength="44.7" lengthAdjust="spacingAndGlyphs">Conc.(pg/mL)</text>
<line x1="359.5" y1="595.2" x2="359.5" y2="609.9" stroke="#000" stroke-width="1.15"/>
<line x1="359.5" y1="615.7" x2="359.5" y2="673.7" stroke="#000" stroke-width="1.15"/>
<line x1="356.9" y1="609.9" x2="362.1" y2="609.9" stroke="#000" stroke-width="1"/>
<line x1="356.9" y1="615.7" x2="362.1" y2="615.7" stroke="#000" stroke-width="1"/>
<line x1="356.0" y1="595.5" x2="359.5" y2="595.5" stroke="#000" stroke-width="1"/>
<text x="353.7" y="597.1" font-size="7.8" text-anchor="end" font-weight="normal" fill="#222"  >20</text>
<line x1="356.0" y1="605.5" x2="359.5" y2="605.5" stroke="#000" stroke-width="1"/>
<text x="353.7" y="607.1" font-size="7.8" text-anchor="end" font-weight="normal" fill="#222"  >10</text>
<line x1="356.0" y1="615.5" x2="359.5" y2="615.5" stroke="#000" stroke-width="1"/>
<line x1="356.0" y1="627.5" x2="359.5" y2="627.5" stroke="#000" stroke-width="1"/>
<text x="353.7" y="629.4" font-size="7.8" text-anchor="end" font-weight="normal" fill="#222"  >4</text>
<line x1="356.0" y1="650.5" x2="359.5" y2="650.5" stroke="#000" stroke-width="1"/>
<text x="353.7" y="652.6999999999999" font-size="7.8" text-anchor="end" font-weight="normal" fill="#222"  >2</text>
<line x1="356.0" y1="673.5" x2="359.5" y2="673.5" stroke="#000" stroke-width="1"/>
<text x="353.7" y="675.6" font-size="7.8" text-anchor="end" font-weight="normal" fill="#222"  >0</text>
<rect x="367.1" y="652.4" width="14.699999999999989" height="21.300000000000068" fill="#c8102e" stroke="#111" stroke-width="0.7"/>
<rect x="389.5" y="669.9" width="14.699999999999989" height="3.800000000000068" fill="#1b5596" stroke="#111" stroke-width="0.7"/>
<line x1="359.5" y1="673.5" x2="411.3" y2="673.5" stroke="#000" stroke-width="1.2"/>
<line x1="374.45000000000005" y1="673.7" x2="374.45000000000005" y2="677.1" stroke="#000" stroke-width="1"/>
<text transform="translate(376.45000000000005,680.6) rotate(-45)" x="0" y="0" font-size="8.5" text-anchor="end" fill="#111" dy="0.35em">HC</text>
<line x1="396.85" y1="673.7" x2="396.85" y2="677.1" stroke="#000" stroke-width="1"/>
<text transform="translate(399.85,680.0) rotate(-45)" x="0" y="0" font-size="8.5" text-anchor="end" fill="#111" dy="0.35em">pES</text>
<line x1="374.45" y1="644.8" x2="374.45" y2="660" stroke="#111" stroke-width="0.7"/>
<line x1="371.15" y1="644.8" x2="377.75" y2="644.8" stroke="#111" stroke-width="0.7"/>
<line x1="371.15" y1="660" x2="377.75" y2="660" stroke="#111" stroke-width="0.7"/>
<line x1="396.85" y1="665" x2="396.85" y2="672" stroke="#111" stroke-width="0.7"/>
<line x1="393.55" y1="665" x2="400.15000000000003" y2="665" stroke="#111" stroke-width="0.7"/>
<line x1="393.55" y1="672" x2="400.15000000000003" y2="672" stroke="#111" stroke-width="0.7"/>
<circle cx="374.6" cy="604.8" r="1.2" fill="none" stroke="#111" stroke-width="0.7"/>
<circle cx="374.6" cy="607.8" r="1.2" fill="none" stroke="#111" stroke-width="0.7"/>
<circle cx="372.8" cy="640" r="1.2" fill="none" stroke="#111" stroke-width="0.7"/>
<circle cx="376.5" cy="640" r="1.2" fill="none" stroke="#111" stroke-width="0.7"/>
<circle cx="374.6" cy="644.5" r="1.2" fill="none" stroke="#111" stroke-width="0.7"/>
<circle cx="374.6" cy="648.5" r="1.2" fill="none" stroke="#111" stroke-width="0.7"/>
<circle cx="372" cy="658.5" r="1.2" fill="none" stroke="#111" stroke-width="0.7"/>
<circle cx="375" cy="660" r="1.2" fill="none" stroke="#111" stroke-width="0.7"/>
<circle cx="378" cy="659" r="1.2" fill="none" stroke="#111" stroke-width="0.7"/>
<circle cx="373" cy="662" r="1.2" fill="none" stroke="#111" stroke-width="0.7"/>
<circle cx="376.5" cy="662" r="1.2" fill="none" stroke="#111" stroke-width="0.7"/>
<circle cx="374.6" cy="665" r="1.2" fill="none" stroke="#111" stroke-width="0.7"/>
<circle cx="374.6" cy="668" r="1.2" fill="none" stroke="#111" stroke-width="0.7"/>
<circle cx="372" cy="671" r="1.2" fill="none" stroke="#111" stroke-width="0.7"/>
<circle cx="375" cy="671" r="1.2" fill="none" stroke="#111" stroke-width="0.7"/>
<circle cx="378" cy="671" r="1.2" fill="none" stroke="#111" stroke-width="0.7"/>
<circle cx="397.3" cy="641.5" r="1.2" fill="none" stroke="#111" stroke-width="0.7"/>
<circle cx="397.3" cy="658.2" r="1.2" fill="none" stroke="#111" stroke-width="0.7"/>
<circle cx="397.3" cy="662.5" r="1.2" fill="none" stroke="#111" stroke-width="0.7"/>
<circle cx="396" cy="665.5" r="1.2" fill="none" stroke="#111" stroke-width="0.7"/>
<circle cx="394" cy="667" r="1.2" fill="none" stroke="#111" stroke-width="0.7"/>
<circle cx="397" cy="667.5" r="1.2" fill="none" stroke="#111" stroke-width="0.7"/>
<circle cx="400" cy="667" r="1.2" fill="none" stroke="#111" stroke-width="0.7"/>
<circle cx="396.5" cy="669" r="1.2" fill="none" stroke="#111" stroke-width="0.7"/>
<circle cx="392" cy="672" r="1.2" fill="none" stroke="#111" stroke-width="0.7"/>
<circle cx="395" cy="672" r="1.2" fill="none" stroke="#111" stroke-width="0.7"/>
<circle cx="398" cy="672" r="1.2" fill="none" stroke="#111" stroke-width="0.7"/>
<circle cx="401" cy="672" r="1.2" fill="none" stroke="#111" stroke-width="0.7"/>
<line x1="373.1" y1="597.5" x2="397.8" y2="597.5" stroke="#666" stroke-width="1"/>
<polygon points="385.45,591.95 385.95,593.11 387.21,593.23 386.26,594.06 386.54,595.30 385.45,594.65 384.36,595.30 384.64,594.06 383.69,593.23 384.95,593.11" fill="#222"/>
<text x="482.5" y="589.4" font-size="8.6" text-anchor="middle" font-weight="normal" fill="#222"   textLength="13.00" lengthAdjust="spacingAndGlyphs">IL-7</text>
<text transform="translate(435.1,637.3) rotate(-90)" x="0" y="0" font-size="8.2" text-anchor="middle" fill="#3a3a3a" dy="0.35em" textLength="44.7" lengthAdjust="spacingAndGlyphs">Conc.(pg/mL)</text>
<line x1="460.5" y1="598.2" x2="460.5" y2="619.2" stroke="#000" stroke-width="1.15"/>
<line x1="460.5" y1="625.2" x2="460.5" y2="673.7" stroke="#000" stroke-width="1.15"/>
<line x1="457.9" y1="619.2" x2="463.1" y2="619.2" stroke="#000" stroke-width="1"/>
<line x1="457.9" y1="625.2" x2="463.1" y2="625.2" stroke="#000" stroke-width="1"/>
<line x1="457.0" y1="598.5" x2="460.5" y2="598.5" stroke="#000" stroke-width="1"/>
<text x="454.7" y="600.1" font-size="7.8" text-anchor="end" font-weight="normal" fill="#222"  >100</text>
<line x1="457.0" y1="611.5" x2="460.5" y2="611.5" stroke="#000" stroke-width="1"/>
<text x="454.7" y="613.3" font-size="7.8" text-anchor="end" font-weight="normal" fill="#222"  >50</text>
<line x1="457.0" y1="625.5" x2="460.5" y2="625.5" stroke="#000" stroke-width="1"/>
<text x="454.7" y="627.1" font-size="7.8" text-anchor="end" font-weight="normal" fill="#222"  >15</text>
<line x1="457.0" y1="641.5" x2="460.5" y2="641.5" stroke="#000" stroke-width="1"/>
<text x="454.7" y="643.1" font-size="7.8" text-anchor="end" font-weight="normal" fill="#222"  >10</text>
<line x1="457.0" y1="657.5" x2="460.5" y2="657.5" stroke="#000" stroke-width="1"/>
<text x="454.7" y="659.4" font-size="7.8" text-anchor="end" font-weight="normal" fill="#222"  >5</text>
<line x1="457.0" y1="673.5" x2="460.5" y2="673.5" stroke="#000" stroke-width="1"/>
<text x="454.7" y="675.6" font-size="7.8" text-anchor="end" font-weight="normal" fill="#222"  >0</text>
<rect x="467.4" y="653.7" width="14.200000000000045" height="20.0" fill="#c8102e" stroke="#111" stroke-width="0.7"/>
<rect x="489.2" y="670.8" width="14.100000000000023" height="2.900000000000091" fill="#1b5596" stroke="#111" stroke-width="0.7"/>
<line x1="460.5" y1="673.5" x2="512.5" y2="673.5" stroke="#000" stroke-width="1.2"/>
<line x1="474.5" y1="673.7" x2="474.5" y2="677.1" stroke="#000" stroke-width="1"/>
<text transform="translate(476.5,680.6) rotate(-45)" x="0" y="0" font-size="8.5" text-anchor="end" fill="#111" dy="0.35em">HC</text>
<line x1="496.25" y1="673.7" x2="496.25" y2="677.1" stroke="#000" stroke-width="1"/>
<text transform="translate(499.25,680.0) rotate(-45)" x="0" y="0" font-size="8.5" text-anchor="end" fill="#111" dy="0.35em">pES</text>
<line x1="474.5" y1="640.8" x2="474.5" y2="667" stroke="#111" stroke-width="0.7"/>
<line x1="471.2" y1="640.8" x2="477.8" y2="640.8" stroke="#111" stroke-width="0.7"/>
<line x1="471.2" y1="667" x2="477.8" y2="667" stroke="#111" stroke-width="0.7"/>
<circle cx="474.5" cy="604.5" r="1.2" fill="none" stroke="#111" stroke-width="0.7"/>
<circle cx="474.5" cy="634.4" r="1.2" fill="none" stroke="#111" stroke-width="0.7"/>
<circle cx="474.5" cy="639" r="1.2" fill="none" stroke="#111" stroke-width="0.7"/>
<circle cx="476" cy="658.5" r="1.2" fill="none" stroke="#111" stroke-width="0.7"/>
<circle cx="474.5" cy="661" r="1.2" fill="none" stroke="#111" stroke-width="0.7"/>
<circle cx="476" cy="662.5" r="1.2" fill="none" stroke="#111" stroke-width="0.7"/>
<circle cx="471" cy="667" r="1.2" fill="none" stroke="#111" stroke-width="0.7"/>
<circle cx="474" cy="667" r="1.2" fill="none" stroke="#111" stroke-width="0.7"/>
<circle cx="477" cy="667" r="1.2" fill="none" stroke="#111" stroke-width="0.7"/>
<circle cx="479.5" cy="666.5" r="1.2" fill="none" stroke="#111" stroke-width="0.7"/>
<circle cx="470.5" cy="672.5" r="1.2" fill="none" stroke="#111" stroke-width="0.7"/>
<circle cx="474" cy="672" r="1.2" fill="none" stroke="#111" stroke-width="0.7"/>
<circle cx="477" cy="672" r="1.2" fill="none" stroke="#111" stroke-width="0.7"/>
<circle cx="496.5" cy="661.5" r="1.2" fill="none" stroke="#111" stroke-width="0.7"/>
<circle cx="495.5" cy="666.5" r="1.2" fill="none" stroke="#111" stroke-width="0.7"/>
<circle cx="497" cy="668" r="1.2" fill="none" stroke="#111" stroke-width="0.7"/>
<circle cx="499" cy="669" r="1.2" fill="none" stroke="#111" stroke-width="0.7"/>
<circle cx="493" cy="670" r="1.2" fill="none" stroke="#111" stroke-width="0.7"/>
<circle cx="495" cy="670" r="1.2" fill="none" stroke="#111" stroke-width="0.7"/>
<circle cx="499.5" cy="670.5" r="1.2" fill="none" stroke="#111" stroke-width="0.7"/>
<circle cx="502" cy="670.5" r="1.2" fill="none" stroke="#111" stroke-width="0.7"/>
<circle cx="491" cy="672.5" r="1.2" fill="none" stroke="#111" stroke-width="0.7"/>
<circle cx="494" cy="672.5" r="1.2" fill="none" stroke="#111" stroke-width="0.7"/>
<circle cx="497" cy="672.5" r="1.2" fill="none" stroke="#111" stroke-width="0.7"/>
<circle cx="500" cy="672.5" r="1.2" fill="none" stroke="#111" stroke-width="0.7"/>
<line x1="474.2" y1="600.5" x2="492" y2="600.5" stroke="#666" stroke-width="1"/>
<polygon points="483.10,594.85 483.60,596.01 484.86,596.13 483.91,596.96 484.19,598.20 483.10,597.55 482.01,598.20 482.29,596.96 481.34,596.13 482.60,596.01" fill="#222"/>
<rect x="0.6" y="0.6" width="518.8" height="703.8" fill="none" stroke="#000" stroke-width="1.2"/>
</svg>
</body></html>
